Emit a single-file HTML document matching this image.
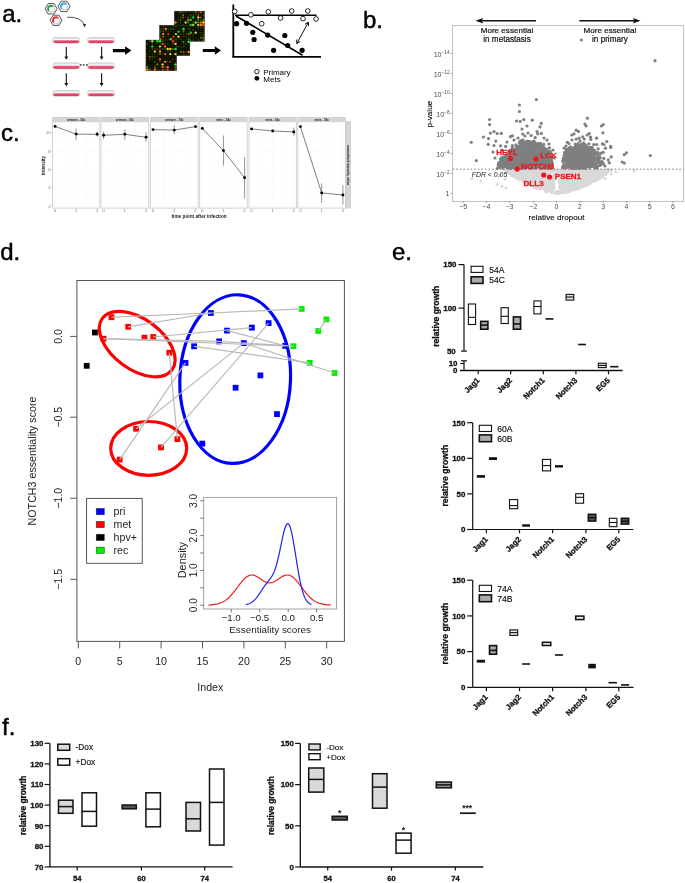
<!DOCTYPE html>
<html><head><meta charset="utf-8"><style>
html,body{margin:0;padding:0;background:#fff;}
body{width:685px;height:883px;overflow:hidden;}
svg{display:block;will-change:transform;font-family:"Liberation Sans", sans-serif;}
</style></head><body>
<svg width="685" height="883" viewBox="0 0 685 883">
<rect width="685" height="883" fill="#fff"/>
<text x="2.2" y="22" font-size="24" text-anchor="start" fill="#000" stroke="#000" stroke-width="0.45">a.</text>
<polygon points="57.10,8.80 54.10,14.00 48.10,14.00 45.10,8.80 48.10,3.60 54.10,3.60" fill="#fff" stroke="#2a2a2a" stroke-width="0.8"/>
<polygon points="56.00,8.80 53.55,13.04 48.65,13.04 46.20,8.80 48.65,4.56 53.55,4.56" fill="none" stroke="#c4c4c4" stroke-width="0.5"/>
<circle cx="51.1" cy="8.8" r="3.30" fill="none" stroke="#a0a0a0" stroke-width="0.6"/>
<polyline points="53.03,6.50 52.82,6.34 52.60,6.20 52.37,6.08 52.13,5.98 51.88,5.90 51.62,5.85 51.36,5.81 51.10,5.80 50.84,5.81 50.58,5.85 50.32,5.90 50.07,5.98 49.83,6.08 49.60,6.20 49.38,6.34 49.17,6.50 48.98,6.68 48.80,6.87 48.64,7.08 48.50,7.30 48.38,7.53 48.28,7.77 48.20,8.02 48.15,8.28 48.11,8.54 48.10,8.80 48.11,9.06 48.15,9.32 48.20,9.58 48.28,9.83 48.38,10.07 48.50,10.30 48.64,10.52 48.80,10.73 48.98,10.92" fill="none" stroke="#12a84a" stroke-width="1.8"/>
<polygon points="70.00,6.45 67.00,11.65 61.00,11.65 58.00,6.45 61.00,1.25 67.00,1.25" fill="#fff" stroke="#2a2a2a" stroke-width="0.8"/>
<polygon points="68.90,6.45 66.45,10.69 61.55,10.69 59.10,6.45 61.55,2.21 66.45,2.21" fill="none" stroke="#c4c4c4" stroke-width="0.5"/>
<circle cx="64.0" cy="6.45" r="3.30" fill="none" stroke="#a0a0a0" stroke-width="0.6"/>
<polyline points="65.93,4.15 65.72,3.99 65.50,3.85 65.27,3.73 65.03,3.63 64.78,3.55 64.52,3.50 64.26,3.46 64.00,3.45 63.74,3.46 63.48,3.50 63.22,3.55 62.97,3.63 62.73,3.73 62.50,3.85 62.28,3.99 62.07,4.15 61.88,4.33 61.70,4.52 61.54,4.73 61.40,4.95 61.28,5.18 61.18,5.42 61.10,5.67 61.05,5.93 61.01,6.19 61.00,6.45 61.01,6.71 61.05,6.97 61.10,7.23 61.18,7.48 61.28,7.72 61.40,7.95 61.54,8.17 61.70,8.38 61.88,8.57" fill="none" stroke="#1ea5f0" stroke-width="1.8"/>
<polygon points="61.95,20.35 59.00,25.46 53.10,25.46 50.15,20.35 53.10,15.24 59.00,15.24" fill="#fff" stroke="#2a2a2a" stroke-width="0.8"/>
<polygon points="60.85,20.35 58.45,24.51 53.65,24.51 51.25,20.35 53.65,16.19 58.45,16.19" fill="none" stroke="#c4c4c4" stroke-width="0.5"/>
<circle cx="56.05" cy="20.35" r="3.30" fill="none" stroke="#a0a0a0" stroke-width="0.6"/>
<polyline points="57.98,18.05 57.77,17.89 57.55,17.75 57.32,17.63 57.08,17.53 56.83,17.45 56.57,17.40 56.31,17.36 56.05,17.35 55.79,17.36 55.53,17.40 55.27,17.45 55.02,17.53 54.78,17.63 54.55,17.75 54.33,17.89 54.12,18.05 53.93,18.23 53.75,18.42 53.59,18.63 53.45,18.85 53.33,19.08 53.23,19.32 53.15,19.57 53.10,19.83 53.06,20.09 53.05,20.35 53.06,20.61 53.10,20.87 53.15,21.13 53.23,21.38 53.33,21.62 53.45,21.85 53.59,22.07 53.75,22.28 53.93,22.47" fill="none" stroke="#ee1c24" stroke-width="1.8"/>
<path d="M67.1,17.2 Q80.5,16.6 84.4,24.6" fill="none" stroke="#222" stroke-width="0.8"/>
<path d="M82.9,24.3 L84.6,27.6 L86.0,24.0 Z" fill="#222"/>
<defs><linearGradient id="pk" x1="0" y1="0" x2="0" y2="1"><stop offset="0" stop-color="#f4a4b6"/><stop offset="0.4" stop-color="#ec4c72"/><stop offset="1" stop-color="#e0305c"/></linearGradient><filter id="bl" x="-5%" y="-5%" width="110%" height="110%"><feGaussianBlur stdDeviation="0.45"/></filter></defs>
<rect x="52.90" y="37.50" width="26.70" height="5.70" rx="2.6" ry="1.8" fill="#fafafa" stroke="#a8a8a8" stroke-width="0.55"/>
<line x1="53.90" y1="38.40" x2="78.60" y2="38.40" stroke="#cfcfcf" stroke-width="0.7"/>
<rect x="53.30" y="39.95" width="25.90" height="3.02" rx="2.4" ry="1.4" fill="url(#pk)"/>
<rect x="87.80" y="37.50" width="26.50" height="5.70" rx="2.6" ry="1.8" fill="#fafafa" stroke="#a8a8a8" stroke-width="0.55"/>
<line x1="88.80" y1="38.40" x2="113.30" y2="38.40" stroke="#cfcfcf" stroke-width="0.7"/>
<rect x="88.20" y="39.95" width="25.70" height="3.02" rx="2.4" ry="1.4" fill="url(#pk)"/>
<rect x="52.90" y="62.90" width="26.70" height="6.00" rx="2.6" ry="1.8" fill="#fafafa" stroke="#a8a8a8" stroke-width="0.55"/>
<line x1="53.90" y1="63.80" x2="78.60" y2="63.80" stroke="#cfcfcf" stroke-width="0.7"/>
<rect x="53.30" y="65.48" width="25.90" height="3.18" rx="2.4" ry="1.4" fill="url(#pk)"/>
<rect x="87.80" y="62.90" width="26.50" height="6.00" rx="2.6" ry="1.8" fill="#fafafa" stroke="#a8a8a8" stroke-width="0.55"/>
<line x1="88.80" y1="63.80" x2="113.30" y2="63.80" stroke="#cfcfcf" stroke-width="0.7"/>
<rect x="88.20" y="65.48" width="25.70" height="3.18" rx="2.4" ry="1.4" fill="url(#pk)"/>
<rect x="52.90" y="90.40" width="26.70" height="5.90" rx="2.6" ry="1.8" fill="#fafafa" stroke="#a8a8a8" stroke-width="0.55"/>
<line x1="53.90" y1="91.30" x2="78.60" y2="91.30" stroke="#cfcfcf" stroke-width="0.7"/>
<rect x="53.30" y="92.94" width="25.90" height="3.13" rx="2.4" ry="1.4" fill="url(#pk)"/>
<rect x="87.80" y="90.40" width="26.50" height="5.90" rx="2.6" ry="1.8" fill="#fafafa" stroke="#a8a8a8" stroke-width="0.55"/>
<line x1="88.80" y1="91.30" x2="113.30" y2="91.30" stroke="#cfcfcf" stroke-width="0.7"/>
<rect x="88.20" y="92.94" width="25.70" height="3.13" rx="2.4" ry="1.4" fill="url(#pk)"/>
<line x1="66.30" y1="47.00" x2="66.30" y2="57.30" stroke="#111" stroke-width="1.1"/>
<path d="M64.40,56.40 L66.30,59.80 L68.20,56.40 Z" fill="#111"/>
<line x1="66.30" y1="73.20" x2="66.30" y2="83.90" stroke="#111" stroke-width="1.1"/>
<path d="M64.40,83.00 L66.30,86.40 L68.20,83.00 Z" fill="#111"/>
<line x1="101.60" y1="47.00" x2="101.60" y2="57.30" stroke="#111" stroke-width="1.1"/>
<path d="M99.70,56.40 L101.60,59.80 L103.50,56.40 Z" fill="#111"/>
<line x1="101.60" y1="73.20" x2="101.60" y2="83.90" stroke="#111" stroke-width="1.1"/>
<path d="M99.70,83.00 L101.60,86.40 L103.50,83.00 Z" fill="#111"/>
<rect x="79.90" y="64.10" width="1.60" height="1.60" fill="#3a3a3a" stroke="none" stroke-width="1"/>
<rect x="82.90" y="64.10" width="1.60" height="1.60" fill="#3a3a3a" stroke="none" stroke-width="1"/>
<rect x="86.00" y="64.10" width="1.60" height="1.60" fill="#3a3a3a" stroke="none" stroke-width="1"/>
<path d="M112.9,49.0 L125.10000000000001,49.0 L125.10000000000001,46.300000000000004 L131.3,50.6 L125.10000000000001,54.9 L125.10000000000001,52.2 L112.9,52.2 Z" fill="#000"/>
<path d="M202.8,48.9 L214.8,48.9 L214.8,46.2 L221.0,50.5 L214.8,54.8 L214.8,52.1 L202.8,52.1 Z" fill="#000"/>
<rect x="174.2" y="11.1" width="30.4" height="30.4" fill="#060c02" stroke="#555" stroke-width="0.4"/>
<g filter="url(#bl)"><circle cx="175.47" cy="12.37" r="0.91" fill="#1c2a06"/><circle cx="175.47" cy="14.90" r="0.91" fill="#0e2406"/><circle cx="175.47" cy="17.43" r="0.91" fill="#0e2406"/><circle cx="175.47" cy="19.97" r="0.91" fill="#0e2406"/><circle cx="175.47" cy="22.50" r="1.17" fill="#ff8020"/><circle cx="175.47" cy="25.03" r="0.91" fill="#221a04"/><circle cx="175.47" cy="27.57" r="0.91" fill="#1c2a06"/><circle cx="175.47" cy="30.10" r="0.91" fill="#221a04"/><circle cx="175.47" cy="32.63" r="0.91" fill="#0e2406"/><circle cx="175.47" cy="35.17" r="1.17" fill="#ff5a10"/><circle cx="175.47" cy="37.70" r="0.96" fill="#2c4a0a"/><circle cx="175.47" cy="40.23" r="0.96" fill="#5a3008"/><circle cx="178.00" cy="12.37" r="0.91" fill="#1c2a06"/><circle cx="178.00" cy="14.90" r="0.91" fill="#1c2a06"/><circle cx="178.00" cy="17.43" r="0.91" fill="#1c2a06"/><circle cx="178.00" cy="19.97" r="0.96" fill="#284008"/><circle cx="178.00" cy="22.50" r="0.91" fill="#1c2a06"/><circle cx="178.00" cy="25.03" r="0.91" fill="#1c2a06"/><circle cx="178.00" cy="27.57" r="0.91" fill="#0e2406"/><circle cx="178.00" cy="30.10" r="0.96" fill="#284008"/><circle cx="178.00" cy="32.63" r="0.91" fill="#221a04"/><circle cx="178.00" cy="35.17" r="1.01" fill="#607010"/><circle cx="178.00" cy="37.70" r="0.96" fill="#5a3008"/><circle cx="178.00" cy="40.23" r="0.91" fill="#1c2a06"/><circle cx="180.53" cy="12.37" r="1.01" fill="#8a6010"/><circle cx="180.53" cy="14.90" r="0.91" fill="#142004"/><circle cx="180.53" cy="17.43" r="0.96" fill="#3c5a0c"/><circle cx="180.53" cy="19.97" r="0.96" fill="#3c5a0c"/><circle cx="180.53" cy="22.50" r="0.96" fill="#2c4a0a"/><circle cx="180.53" cy="25.03" r="0.91" fill="#221a04"/><circle cx="180.53" cy="27.57" r="0.91" fill="#142004"/><circle cx="180.53" cy="30.10" r="0.91" fill="#221a04"/><circle cx="180.53" cy="32.63" r="0.91" fill="#0e2406"/><circle cx="180.53" cy="35.17" r="0.96" fill="#284008"/><circle cx="180.53" cy="37.70" r="1.01" fill="#a05010"/><circle cx="180.53" cy="40.23" r="0.91" fill="#142004"/><circle cx="183.07" cy="12.37" r="0.96" fill="#284008"/><circle cx="183.07" cy="14.90" r="1.01" fill="#6a8a10"/><circle cx="183.07" cy="17.43" r="1.01" fill="#a05010"/><circle cx="183.07" cy="19.97" r="0.91" fill="#0e2406"/><circle cx="183.07" cy="22.50" r="0.91" fill="#142004"/><circle cx="183.07" cy="25.03" r="0.96" fill="#5a3008"/><circle cx="183.07" cy="27.57" r="0.91" fill="#221a04"/><circle cx="183.07" cy="30.10" r="1.17" fill="#f0e020"/><circle cx="183.07" cy="32.63" r="0.91" fill="#221a04"/><circle cx="183.07" cy="35.17" r="0.91" fill="#0e2406"/><circle cx="183.07" cy="37.70" r="0.91" fill="#1c2a06"/><circle cx="183.07" cy="40.23" r="0.96" fill="#4a3a0a"/><circle cx="185.60" cy="12.37" r="0.96" fill="#5a3008"/><circle cx="185.60" cy="14.90" r="0.91" fill="#221a04"/><circle cx="185.60" cy="17.43" r="0.91" fill="#221a04"/><circle cx="185.60" cy="19.97" r="0.91" fill="#142004"/><circle cx="185.60" cy="22.50" r="1.17" fill="#a8e020"/><circle cx="185.60" cy="25.03" r="0.91" fill="#142004"/><circle cx="185.60" cy="27.57" r="0.96" fill="#3c5a0c"/><circle cx="185.60" cy="30.10" r="0.96" fill="#5a3008"/><circle cx="185.60" cy="32.63" r="1.17" fill="#ff8020"/><circle cx="185.60" cy="35.17" r="0.91" fill="#1c2a06"/><circle cx="185.60" cy="37.70" r="0.91" fill="#1c2a06"/><circle cx="185.60" cy="40.23" r="0.91" fill="#1c2a06"/><circle cx="188.13" cy="12.37" r="0.91" fill="#0e2406"/><circle cx="188.13" cy="14.90" r="0.91" fill="#142004"/><circle cx="188.13" cy="17.43" r="0.96" fill="#3c5a0c"/><circle cx="188.13" cy="19.97" r="1.17" fill="#ff5a10"/><circle cx="188.13" cy="22.50" r="1.01" fill="#6a8a10"/><circle cx="188.13" cy="25.03" r="0.91" fill="#221a04"/><circle cx="188.13" cy="27.57" r="0.91" fill="#221a04"/><circle cx="188.13" cy="30.10" r="0.91" fill="#221a04"/><circle cx="188.13" cy="32.63" r="0.91" fill="#0e2406"/><circle cx="188.13" cy="35.17" r="1.17" fill="#30f030"/><circle cx="188.13" cy="37.70" r="0.91" fill="#142004"/><circle cx="188.13" cy="40.23" r="0.96" fill="#2c4a0a"/><circle cx="190.67" cy="12.37" r="0.91" fill="#1c2a06"/><circle cx="190.67" cy="14.90" r="0.96" fill="#3c5a0c"/><circle cx="190.67" cy="17.43" r="0.96" fill="#2c4a0a"/><circle cx="190.67" cy="19.97" r="1.17" fill="#20d040"/><circle cx="190.67" cy="22.50" r="0.91" fill="#142004"/><circle cx="190.67" cy="25.03" r="1.17" fill="#20d040"/><circle cx="190.67" cy="27.57" r="0.91" fill="#0e2406"/><circle cx="190.67" cy="30.10" r="0.91" fill="#221a04"/><circle cx="190.67" cy="32.63" r="1.17" fill="#30f030"/><circle cx="190.67" cy="35.17" r="0.91" fill="#142004"/><circle cx="190.67" cy="37.70" r="0.91" fill="#0e2406"/><circle cx="190.67" cy="40.23" r="0.96" fill="#3c5a0c"/><circle cx="193.20" cy="12.37" r="0.91" fill="#1c2a06"/><circle cx="193.20" cy="14.90" r="0.96" fill="#4a3a0a"/><circle cx="193.20" cy="17.43" r="1.17" fill="#20d040"/><circle cx="193.20" cy="19.97" r="0.91" fill="#0e2406"/><circle cx="193.20" cy="22.50" r="0.96" fill="#3c5a0c"/><circle cx="193.20" cy="25.03" r="1.17" fill="#a8e020"/><circle cx="193.20" cy="27.57" r="0.91" fill="#142004"/><circle cx="193.20" cy="30.10" r="0.96" fill="#4a3a0a"/><circle cx="193.20" cy="32.63" r="0.91" fill="#1c2a06"/><circle cx="193.20" cy="35.17" r="0.96" fill="#284008"/><circle cx="193.20" cy="37.70" r="0.91" fill="#1c2a06"/><circle cx="193.20" cy="40.23" r="0.96" fill="#4a3a0a"/><circle cx="195.73" cy="12.37" r="1.01" fill="#607010"/><circle cx="195.73" cy="14.90" r="0.96" fill="#4a3a0a"/><circle cx="195.73" cy="17.43" r="0.91" fill="#221a04"/><circle cx="195.73" cy="19.97" r="0.91" fill="#0e2406"/><circle cx="195.73" cy="22.50" r="1.17" fill="#a8e020"/><circle cx="195.73" cy="25.03" r="0.91" fill="#142004"/><circle cx="195.73" cy="27.57" r="0.91" fill="#142004"/><circle cx="195.73" cy="30.10" r="0.91" fill="#142004"/><circle cx="195.73" cy="32.63" r="1.17" fill="#f0e020"/><circle cx="195.73" cy="35.17" r="0.91" fill="#0e2406"/><circle cx="195.73" cy="37.70" r="0.91" fill="#1c2a06"/><circle cx="195.73" cy="40.23" r="0.91" fill="#221a04"/><circle cx="198.27" cy="12.37" r="0.96" fill="#284008"/><circle cx="198.27" cy="14.90" r="1.01" fill="#607010"/><circle cx="198.27" cy="17.43" r="1.17" fill="#f0e020"/><circle cx="198.27" cy="19.97" r="1.01" fill="#6a8a10"/><circle cx="198.27" cy="22.50" r="1.01" fill="#6a8a10"/><circle cx="198.27" cy="25.03" r="1.17" fill="#a8e020"/><circle cx="198.27" cy="27.57" r="0.96" fill="#4a3a0a"/><circle cx="198.27" cy="30.10" r="0.91" fill="#1c2a06"/><circle cx="198.27" cy="32.63" r="0.91" fill="#142004"/><circle cx="198.27" cy="35.17" r="0.91" fill="#221a04"/><circle cx="198.27" cy="37.70" r="0.91" fill="#0e2406"/><circle cx="198.27" cy="40.23" r="0.96" fill="#4a3a0a"/><circle cx="200.80" cy="12.37" r="1.17" fill="#ff3010"/><circle cx="200.80" cy="14.90" r="0.91" fill="#221a04"/><circle cx="200.80" cy="17.43" r="1.01" fill="#8a6010"/><circle cx="200.80" cy="19.97" r="0.96" fill="#284008"/><circle cx="200.80" cy="22.50" r="1.17" fill="#ff5a10"/><circle cx="200.80" cy="25.03" r="1.17" fill="#ff8020"/><circle cx="200.80" cy="27.57" r="0.96" fill="#4a3a0a"/><circle cx="200.80" cy="30.10" r="0.91" fill="#0e2406"/><circle cx="200.80" cy="32.63" r="0.96" fill="#4a3a0a"/><circle cx="200.80" cy="35.17" r="0.91" fill="#1c2a06"/><circle cx="200.80" cy="37.70" r="1.01" fill="#8a6010"/><circle cx="200.80" cy="40.23" r="0.91" fill="#1c2a06"/><circle cx="203.33" cy="12.37" r="0.91" fill="#1c2a06"/><circle cx="203.33" cy="14.90" r="0.96" fill="#3c5a0c"/><circle cx="203.33" cy="17.43" r="0.91" fill="#221a04"/><circle cx="203.33" cy="19.97" r="1.01" fill="#6a8a10"/><circle cx="203.33" cy="22.50" r="1.17" fill="#f0e020"/><circle cx="203.33" cy="25.03" r="1.17" fill="#ff5a10"/><circle cx="203.33" cy="27.57" r="0.96" fill="#284008"/><circle cx="203.33" cy="30.10" r="0.91" fill="#1c2a06"/><circle cx="203.33" cy="32.63" r="0.96" fill="#284008"/><circle cx="203.33" cy="35.17" r="0.96" fill="#5a3008"/><circle cx="203.33" cy="37.70" r="1.01" fill="#6a8a10"/><circle cx="203.33" cy="40.23" r="1.01" fill="#8a6010"/></g>
<rect x="159.4" y="25.2" width="30.5" height="30.5" fill="#060c02" stroke="#555" stroke-width="0.4"/>
<g filter="url(#bl)"><circle cx="160.67" cy="26.47" r="0.91" fill="#221a04"/><circle cx="160.67" cy="29.01" r="0.97" fill="#2c4a0a"/><circle cx="160.67" cy="31.55" r="0.97" fill="#3c5a0c"/><circle cx="160.67" cy="34.10" r="0.97" fill="#284008"/><circle cx="160.67" cy="36.64" r="0.97" fill="#2c4a0a"/><circle cx="160.67" cy="39.18" r="1.17" fill="#ff3010"/><circle cx="160.67" cy="41.72" r="0.91" fill="#142004"/><circle cx="160.67" cy="44.26" r="0.91" fill="#0e2406"/><circle cx="160.67" cy="46.80" r="0.97" fill="#284008"/><circle cx="160.67" cy="49.35" r="0.91" fill="#0e2406"/><circle cx="160.67" cy="51.89" r="0.91" fill="#1c2a06"/><circle cx="160.67" cy="54.43" r="0.97" fill="#5a3008"/><circle cx="163.21" cy="26.47" r="0.97" fill="#5a3008"/><circle cx="163.21" cy="29.01" r="0.97" fill="#4a3a0a"/><circle cx="163.21" cy="31.55" r="0.97" fill="#3c5a0c"/><circle cx="163.21" cy="34.10" r="1.17" fill="#ff8020"/><circle cx="163.21" cy="36.64" r="1.02" fill="#8a6010"/><circle cx="163.21" cy="39.18" r="0.91" fill="#221a04"/><circle cx="163.21" cy="41.72" r="0.91" fill="#0e2406"/><circle cx="163.21" cy="44.26" r="0.97" fill="#5a3008"/><circle cx="163.21" cy="46.80" r="0.91" fill="#142004"/><circle cx="163.21" cy="49.35" r="1.02" fill="#8a6010"/><circle cx="163.21" cy="51.89" r="1.17" fill="#ff5a10"/><circle cx="163.21" cy="54.43" r="0.97" fill="#4a3a0a"/><circle cx="165.75" cy="26.47" r="0.91" fill="#1c2a06"/><circle cx="165.75" cy="29.01" r="1.17" fill="#ff8020"/><circle cx="165.75" cy="31.55" r="0.97" fill="#2c4a0a"/><circle cx="165.75" cy="34.10" r="0.91" fill="#221a04"/><circle cx="165.75" cy="36.64" r="0.91" fill="#1c2a06"/><circle cx="165.75" cy="39.18" r="0.91" fill="#221a04"/><circle cx="165.75" cy="41.72" r="1.17" fill="#30f030"/><circle cx="165.75" cy="44.26" r="0.91" fill="#1c2a06"/><circle cx="165.75" cy="46.80" r="0.91" fill="#0e2406"/><circle cx="165.75" cy="49.35" r="0.97" fill="#2c4a0a"/><circle cx="165.75" cy="51.89" r="0.91" fill="#221a04"/><circle cx="165.75" cy="54.43" r="0.91" fill="#0e2406"/><circle cx="168.30" cy="26.47" r="0.91" fill="#142004"/><circle cx="168.30" cy="29.01" r="0.97" fill="#2c4a0a"/><circle cx="168.30" cy="31.55" r="0.91" fill="#1c2a06"/><circle cx="168.30" cy="34.10" r="1.17" fill="#ff3010"/><circle cx="168.30" cy="36.64" r="0.91" fill="#142004"/><circle cx="168.30" cy="39.18" r="0.91" fill="#1c2a06"/><circle cx="168.30" cy="41.72" r="0.91" fill="#1c2a06"/><circle cx="168.30" cy="44.26" r="1.02" fill="#a05010"/><circle cx="168.30" cy="46.80" r="0.91" fill="#221a04"/><circle cx="168.30" cy="49.35" r="0.97" fill="#2c4a0a"/><circle cx="168.30" cy="51.89" r="0.91" fill="#1c2a06"/><circle cx="168.30" cy="54.43" r="0.91" fill="#0e2406"/><circle cx="170.84" cy="26.47" r="0.91" fill="#0e2406"/><circle cx="170.84" cy="29.01" r="0.97" fill="#3c5a0c"/><circle cx="170.84" cy="31.55" r="0.91" fill="#1c2a06"/><circle cx="170.84" cy="34.10" r="0.91" fill="#0e2406"/><circle cx="170.84" cy="36.64" r="0.91" fill="#142004"/><circle cx="170.84" cy="39.18" r="1.17" fill="#30f030"/><circle cx="170.84" cy="41.72" r="1.17" fill="#f0e020"/><circle cx="170.84" cy="44.26" r="0.97" fill="#2c4a0a"/><circle cx="170.84" cy="46.80" r="0.97" fill="#4a3a0a"/><circle cx="170.84" cy="49.35" r="1.17" fill="#ff8020"/><circle cx="170.84" cy="51.89" r="0.91" fill="#1c2a06"/><circle cx="170.84" cy="54.43" r="0.91" fill="#142004"/><circle cx="173.38" cy="26.47" r="0.97" fill="#284008"/><circle cx="173.38" cy="29.01" r="0.97" fill="#3c5a0c"/><circle cx="173.38" cy="31.55" r="0.91" fill="#1c2a06"/><circle cx="173.38" cy="34.10" r="0.91" fill="#0e2406"/><circle cx="173.38" cy="36.64" r="1.17" fill="#ff3010"/><circle cx="173.38" cy="39.18" r="0.91" fill="#1c2a06"/><circle cx="173.38" cy="41.72" r="0.97" fill="#4a3a0a"/><circle cx="173.38" cy="44.26" r="1.17" fill="#ff3010"/><circle cx="173.38" cy="46.80" r="0.97" fill="#5a3008"/><circle cx="173.38" cy="49.35" r="0.97" fill="#284008"/><circle cx="173.38" cy="51.89" r="1.02" fill="#607010"/><circle cx="173.38" cy="54.43" r="1.17" fill="#f0e020"/><circle cx="175.92" cy="26.47" r="0.97" fill="#4a3a0a"/><circle cx="175.92" cy="29.01" r="0.91" fill="#1c2a06"/><circle cx="175.92" cy="31.55" r="0.91" fill="#142004"/><circle cx="175.92" cy="34.10" r="1.17" fill="#a8e020"/><circle cx="175.92" cy="36.64" r="0.91" fill="#0e2406"/><circle cx="175.92" cy="39.18" r="0.97" fill="#3c5a0c"/><circle cx="175.92" cy="41.72" r="0.91" fill="#0e2406"/><circle cx="175.92" cy="44.26" r="0.91" fill="#221a04"/><circle cx="175.92" cy="46.80" r="1.17" fill="#ff5a10"/><circle cx="175.92" cy="49.35" r="1.17" fill="#20d040"/><circle cx="175.92" cy="51.89" r="0.91" fill="#142004"/><circle cx="175.92" cy="54.43" r="0.91" fill="#1c2a06"/><circle cx="178.46" cy="26.47" r="0.91" fill="#221a04"/><circle cx="178.46" cy="29.01" r="0.91" fill="#142004"/><circle cx="178.46" cy="31.55" r="1.17" fill="#20d040"/><circle cx="178.46" cy="34.10" r="0.91" fill="#0e2406"/><circle cx="178.46" cy="36.64" r="1.17" fill="#f0e020"/><circle cx="178.46" cy="39.18" r="0.91" fill="#1c2a06"/><circle cx="178.46" cy="41.72" r="0.91" fill="#221a04"/><circle cx="178.46" cy="44.26" r="0.91" fill="#142004"/><circle cx="178.46" cy="46.80" r="0.97" fill="#4a3a0a"/><circle cx="178.46" cy="49.35" r="0.91" fill="#0e2406"/><circle cx="178.46" cy="51.89" r="0.91" fill="#0e2406"/><circle cx="178.46" cy="54.43" r="0.91" fill="#0e2406"/><circle cx="181.00" cy="26.47" r="0.91" fill="#142004"/><circle cx="181.00" cy="29.01" r="0.91" fill="#1c2a06"/><circle cx="181.00" cy="31.55" r="0.91" fill="#1c2a06"/><circle cx="181.00" cy="34.10" r="0.97" fill="#284008"/><circle cx="181.00" cy="36.64" r="0.91" fill="#142004"/><circle cx="181.00" cy="39.18" r="0.97" fill="#5a3008"/><circle cx="181.00" cy="41.72" r="0.91" fill="#1c2a06"/><circle cx="181.00" cy="44.26" r="0.91" fill="#221a04"/><circle cx="181.00" cy="46.80" r="0.97" fill="#284008"/><circle cx="181.00" cy="49.35" r="0.91" fill="#0e2406"/><circle cx="181.00" cy="51.89" r="1.02" fill="#8a6010"/><circle cx="181.00" cy="54.43" r="0.91" fill="#0e2406"/><circle cx="183.55" cy="26.47" r="0.91" fill="#142004"/><circle cx="183.55" cy="29.01" r="1.17" fill="#30f030"/><circle cx="183.55" cy="31.55" r="1.02" fill="#6a8a10"/><circle cx="183.55" cy="34.10" r="0.97" fill="#284008"/><circle cx="183.55" cy="36.64" r="0.97" fill="#5a3008"/><circle cx="183.55" cy="39.18" r="0.91" fill="#221a04"/><circle cx="183.55" cy="41.72" r="1.02" fill="#6a8a10"/><circle cx="183.55" cy="44.26" r="0.97" fill="#2c4a0a"/><circle cx="183.55" cy="46.80" r="0.97" fill="#5a3008"/><circle cx="183.55" cy="49.35" r="0.91" fill="#0e2406"/><circle cx="183.55" cy="51.89" r="1.02" fill="#8a6010"/><circle cx="183.55" cy="54.43" r="0.97" fill="#4a3a0a"/><circle cx="186.09" cy="26.47" r="0.91" fill="#221a04"/><circle cx="186.09" cy="29.01" r="0.91" fill="#221a04"/><circle cx="186.09" cy="31.55" r="0.91" fill="#142004"/><circle cx="186.09" cy="34.10" r="0.97" fill="#284008"/><circle cx="186.09" cy="36.64" r="0.97" fill="#4a3a0a"/><circle cx="186.09" cy="39.18" r="0.91" fill="#1c2a06"/><circle cx="186.09" cy="41.72" r="0.91" fill="#142004"/><circle cx="186.09" cy="44.26" r="0.97" fill="#4a3a0a"/><circle cx="186.09" cy="46.80" r="0.91" fill="#0e2406"/><circle cx="186.09" cy="49.35" r="0.91" fill="#0e2406"/><circle cx="186.09" cy="51.89" r="0.97" fill="#5a3008"/><circle cx="186.09" cy="54.43" r="0.91" fill="#142004"/><circle cx="188.63" cy="26.47" r="0.91" fill="#221a04"/><circle cx="188.63" cy="29.01" r="0.97" fill="#284008"/><circle cx="188.63" cy="31.55" r="0.91" fill="#0e2406"/><circle cx="188.63" cy="34.10" r="1.17" fill="#ff3010"/><circle cx="188.63" cy="36.64" r="0.91" fill="#0e2406"/><circle cx="188.63" cy="39.18" r="1.02" fill="#607010"/><circle cx="188.63" cy="41.72" r="1.17" fill="#30f030"/><circle cx="188.63" cy="44.26" r="0.91" fill="#1c2a06"/><circle cx="188.63" cy="46.80" r="0.91" fill="#0e2406"/><circle cx="188.63" cy="49.35" r="0.91" fill="#142004"/><circle cx="188.63" cy="51.89" r="1.17" fill="#ff8020"/><circle cx="188.63" cy="54.43" r="0.97" fill="#284008"/></g>
<rect x="145.9" y="40.0" width="30.8" height="30.8" fill="#060c02" stroke="#555" stroke-width="0.4"/>
<g filter="url(#bl)"><circle cx="147.18" cy="41.28" r="0.92" fill="#0e2406"/><circle cx="147.18" cy="43.85" r="0.98" fill="#4a3a0a"/><circle cx="147.18" cy="46.42" r="0.92" fill="#221a04"/><circle cx="147.18" cy="48.98" r="0.92" fill="#1c2a06"/><circle cx="147.18" cy="51.55" r="0.92" fill="#221a04"/><circle cx="147.18" cy="54.12" r="0.98" fill="#5a3008"/><circle cx="147.18" cy="56.68" r="0.92" fill="#1c2a06"/><circle cx="147.18" cy="59.25" r="0.92" fill="#221a04"/><circle cx="147.18" cy="61.82" r="0.92" fill="#142004"/><circle cx="147.18" cy="64.38" r="0.92" fill="#142004"/><circle cx="147.18" cy="66.95" r="1.03" fill="#6a8a10"/><circle cx="147.18" cy="69.52" r="1.18" fill="#ff8020"/><circle cx="149.75" cy="41.28" r="0.98" fill="#3c5a0c"/><circle cx="149.75" cy="43.85" r="0.92" fill="#0e2406"/><circle cx="149.75" cy="46.42" r="0.92" fill="#0e2406"/><circle cx="149.75" cy="48.98" r="0.92" fill="#221a04"/><circle cx="149.75" cy="51.55" r="0.98" fill="#2c4a0a"/><circle cx="149.75" cy="54.12" r="0.92" fill="#0e2406"/><circle cx="149.75" cy="56.68" r="1.03" fill="#a05010"/><circle cx="149.75" cy="59.25" r="0.98" fill="#4a3a0a"/><circle cx="149.75" cy="61.82" r="0.92" fill="#142004"/><circle cx="149.75" cy="64.38" r="0.92" fill="#142004"/><circle cx="149.75" cy="66.95" r="0.92" fill="#142004"/><circle cx="149.75" cy="69.52" r="1.03" fill="#607010"/><circle cx="152.32" cy="41.28" r="1.18" fill="#a8e020"/><circle cx="152.32" cy="43.85" r="0.98" fill="#5a3008"/><circle cx="152.32" cy="46.42" r="1.18" fill="#20d040"/><circle cx="152.32" cy="48.98" r="0.98" fill="#2c4a0a"/><circle cx="152.32" cy="51.55" r="0.92" fill="#221a04"/><circle cx="152.32" cy="54.12" r="0.92" fill="#1c2a06"/><circle cx="152.32" cy="56.68" r="0.98" fill="#3c5a0c"/><circle cx="152.32" cy="59.25" r="0.92" fill="#1c2a06"/><circle cx="152.32" cy="61.82" r="0.92" fill="#221a04"/><circle cx="152.32" cy="64.38" r="0.92" fill="#142004"/><circle cx="152.32" cy="66.95" r="0.92" fill="#142004"/><circle cx="152.32" cy="69.52" r="0.92" fill="#1c2a06"/><circle cx="154.88" cy="41.28" r="0.92" fill="#221a04"/><circle cx="154.88" cy="43.85" r="0.92" fill="#1c2a06"/><circle cx="154.88" cy="46.42" r="0.92" fill="#221a04"/><circle cx="154.88" cy="48.98" r="0.98" fill="#5a3008"/><circle cx="154.88" cy="51.55" r="1.18" fill="#a8e020"/><circle cx="154.88" cy="54.12" r="0.92" fill="#1c2a06"/><circle cx="154.88" cy="56.68" r="0.98" fill="#4a3a0a"/><circle cx="154.88" cy="59.25" r="0.92" fill="#142004"/><circle cx="154.88" cy="61.82" r="0.98" fill="#3c5a0c"/><circle cx="154.88" cy="64.38" r="0.92" fill="#142004"/><circle cx="154.88" cy="66.95" r="1.03" fill="#8a6010"/><circle cx="154.88" cy="69.52" r="1.18" fill="#ff5a10"/><circle cx="157.45" cy="41.28" r="1.18" fill="#30f030"/><circle cx="157.45" cy="43.85" r="0.92" fill="#1c2a06"/><circle cx="157.45" cy="46.42" r="0.92" fill="#142004"/><circle cx="157.45" cy="48.98" r="0.98" fill="#5a3008"/><circle cx="157.45" cy="51.55" r="0.92" fill="#142004"/><circle cx="157.45" cy="54.12" r="0.92" fill="#1c2a06"/><circle cx="157.45" cy="56.68" r="0.92" fill="#1c2a06"/><circle cx="157.45" cy="59.25" r="0.92" fill="#221a04"/><circle cx="157.45" cy="61.82" r="0.92" fill="#142004"/><circle cx="157.45" cy="64.38" r="1.03" fill="#6a8a10"/><circle cx="157.45" cy="66.95" r="0.92" fill="#221a04"/><circle cx="157.45" cy="69.52" r="0.98" fill="#5a3008"/><circle cx="160.02" cy="41.28" r="1.18" fill="#30f030"/><circle cx="160.02" cy="43.85" r="0.92" fill="#221a04"/><circle cx="160.02" cy="46.42" r="1.18" fill="#a8e020"/><circle cx="160.02" cy="48.98" r="0.98" fill="#5a3008"/><circle cx="160.02" cy="51.55" r="1.18" fill="#ff8020"/><circle cx="160.02" cy="54.12" r="1.03" fill="#8a6010"/><circle cx="160.02" cy="56.68" r="0.92" fill="#0e2406"/><circle cx="160.02" cy="59.25" r="1.18" fill="#ff5a10"/><circle cx="160.02" cy="61.82" r="0.98" fill="#5a3008"/><circle cx="160.02" cy="64.38" r="0.92" fill="#0e2406"/><circle cx="160.02" cy="66.95" r="0.92" fill="#1c2a06"/><circle cx="160.02" cy="69.52" r="0.92" fill="#0e2406"/><circle cx="162.58" cy="41.28" r="0.98" fill="#3c5a0c"/><circle cx="162.58" cy="43.85" r="1.18" fill="#ff5a10"/><circle cx="162.58" cy="46.42" r="0.92" fill="#221a04"/><circle cx="162.58" cy="48.98" r="0.98" fill="#2c4a0a"/><circle cx="162.58" cy="51.55" r="0.92" fill="#142004"/><circle cx="162.58" cy="54.12" r="0.98" fill="#284008"/><circle cx="162.58" cy="56.68" r="0.92" fill="#142004"/><circle cx="162.58" cy="59.25" r="0.92" fill="#0e2406"/><circle cx="162.58" cy="61.82" r="0.92" fill="#142004"/><circle cx="162.58" cy="64.38" r="1.18" fill="#f0e020"/><circle cx="162.58" cy="66.95" r="1.18" fill="#ff5a10"/><circle cx="162.58" cy="69.52" r="1.03" fill="#8a6010"/><circle cx="165.15" cy="41.28" r="0.92" fill="#1c2a06"/><circle cx="165.15" cy="43.85" r="0.98" fill="#2c4a0a"/><circle cx="165.15" cy="46.42" r="1.18" fill="#ff5a10"/><circle cx="165.15" cy="48.98" r="0.98" fill="#2c4a0a"/><circle cx="165.15" cy="51.55" r="0.92" fill="#221a04"/><circle cx="165.15" cy="54.12" r="1.18" fill="#ff5a10"/><circle cx="165.15" cy="56.68" r="0.92" fill="#142004"/><circle cx="165.15" cy="59.25" r="0.92" fill="#221a04"/><circle cx="165.15" cy="61.82" r="1.18" fill="#ff8020"/><circle cx="165.15" cy="64.38" r="0.92" fill="#142004"/><circle cx="165.15" cy="66.95" r="0.98" fill="#3c5a0c"/><circle cx="165.15" cy="69.52" r="0.98" fill="#4a3a0a"/><circle cx="167.72" cy="41.28" r="0.92" fill="#142004"/><circle cx="167.72" cy="43.85" r="0.98" fill="#284008"/><circle cx="167.72" cy="46.42" r="0.92" fill="#221a04"/><circle cx="167.72" cy="48.98" r="1.18" fill="#f0e020"/><circle cx="167.72" cy="51.55" r="0.98" fill="#4a3a0a"/><circle cx="167.72" cy="54.12" r="0.92" fill="#1c2a06"/><circle cx="167.72" cy="56.68" r="0.92" fill="#142004"/><circle cx="167.72" cy="59.25" r="0.92" fill="#221a04"/><circle cx="167.72" cy="61.82" r="0.98" fill="#4a3a0a"/><circle cx="167.72" cy="64.38" r="0.92" fill="#0e2406"/><circle cx="167.72" cy="66.95" r="1.18" fill="#ff8020"/><circle cx="167.72" cy="69.52" r="1.18" fill="#ff3010"/><circle cx="170.28" cy="41.28" r="0.92" fill="#1c2a06"/><circle cx="170.28" cy="43.85" r="0.92" fill="#0e2406"/><circle cx="170.28" cy="46.42" r="0.92" fill="#221a04"/><circle cx="170.28" cy="48.98" r="1.18" fill="#f0e020"/><circle cx="170.28" cy="51.55" r="0.98" fill="#2c4a0a"/><circle cx="170.28" cy="54.12" r="1.18" fill="#f0e020"/><circle cx="170.28" cy="56.68" r="0.92" fill="#221a04"/><circle cx="170.28" cy="59.25" r="0.92" fill="#221a04"/><circle cx="170.28" cy="61.82" r="1.03" fill="#a05010"/><circle cx="170.28" cy="64.38" r="0.92" fill="#0e2406"/><circle cx="170.28" cy="66.95" r="0.92" fill="#142004"/><circle cx="170.28" cy="69.52" r="0.92" fill="#221a04"/><circle cx="172.85" cy="41.28" r="1.18" fill="#ff3010"/><circle cx="172.85" cy="43.85" r="0.98" fill="#4a3a0a"/><circle cx="172.85" cy="46.42" r="0.92" fill="#142004"/><circle cx="172.85" cy="48.98" r="1.03" fill="#607010"/><circle cx="172.85" cy="51.55" r="0.92" fill="#221a04"/><circle cx="172.85" cy="54.12" r="0.92" fill="#221a04"/><circle cx="172.85" cy="56.68" r="0.92" fill="#142004"/><circle cx="172.85" cy="59.25" r="0.98" fill="#5a3008"/><circle cx="172.85" cy="61.82" r="0.92" fill="#221a04"/><circle cx="172.85" cy="64.38" r="0.92" fill="#221a04"/><circle cx="172.85" cy="66.95" r="0.92" fill="#0e2406"/><circle cx="172.85" cy="69.52" r="0.92" fill="#0e2406"/><circle cx="175.42" cy="41.28" r="0.92" fill="#0e2406"/><circle cx="175.42" cy="43.85" r="1.18" fill="#f0e020"/><circle cx="175.42" cy="46.42" r="0.92" fill="#142004"/><circle cx="175.42" cy="48.98" r="1.18" fill="#20d040"/><circle cx="175.42" cy="51.55" r="0.92" fill="#142004"/><circle cx="175.42" cy="54.12" r="1.18" fill="#f0e020"/><circle cx="175.42" cy="56.68" r="0.92" fill="#0e2406"/><circle cx="175.42" cy="59.25" r="0.92" fill="#1c2a06"/><circle cx="175.42" cy="61.82" r="0.92" fill="#221a04"/><circle cx="175.42" cy="64.38" r="1.18" fill="#30f030"/><circle cx="175.42" cy="66.95" r="1.03" fill="#607010"/><circle cx="175.42" cy="69.52" r="1.03" fill="#8a6010"/></g>
<line x1="233.30" y1="4.50" x2="233.30" y2="57.00" stroke="#000" stroke-width="1.8"/>
<line x1="232.40" y1="56.90" x2="321.00" y2="56.90" stroke="#000" stroke-width="1.8"/>
<line x1="235.00" y1="15.30" x2="316.50" y2="15.30" stroke="#000" stroke-width="1.6"/>
<line x1="236.00" y1="16.00" x2="302.60" y2="55.20" stroke="#000" stroke-width="1.6"/>
<circle cx="234.70" cy="11.40" r="2.35" fill="#fff" stroke="#000" stroke-width="0.85"/>
<circle cx="250.90" cy="14.80" r="2.35" fill="#fff" stroke="#000" stroke-width="0.85"/>
<circle cx="268.30" cy="11.80" r="2.35" fill="#fff" stroke="#000" stroke-width="0.85"/>
<circle cx="261.70" cy="23.70" r="2.35" fill="#fff" stroke="#000" stroke-width="0.85"/>
<circle cx="280.60" cy="18.00" r="2.35" fill="#fff" stroke="#000" stroke-width="0.85"/>
<circle cx="291.70" cy="11.00" r="2.35" fill="#fff" stroke="#000" stroke-width="0.85"/>
<circle cx="307.80" cy="11.00" r="2.35" fill="#fff" stroke="#000" stroke-width="0.85"/>
<circle cx="303.00" cy="18.60" r="2.35" fill="#fff" stroke="#000" stroke-width="0.85"/>
<circle cx="316.10" cy="19.00" r="2.35" fill="#fff" stroke="#000" stroke-width="0.85"/>
<circle cx="236.60" cy="23.70" r="2.6" fill="#000" stroke="none" stroke-width="1"/>
<circle cx="246.50" cy="23.30" r="2.6" fill="#000" stroke="none" stroke-width="1"/>
<circle cx="252.80" cy="32.30" r="2.6" fill="#000" stroke="none" stroke-width="1"/>
<circle cx="254.10" cy="39.50" r="2.6" fill="#000" stroke="none" stroke-width="1"/>
<circle cx="267.70" cy="35.10" r="2.6" fill="#000" stroke="none" stroke-width="1"/>
<circle cx="284.80" cy="35.50" r="2.6" fill="#000" stroke="none" stroke-width="1"/>
<circle cx="273.60" cy="50.30" r="2.6" fill="#000" stroke="none" stroke-width="1"/>
<circle cx="287.70" cy="45.50" r="2.6" fill="#000" stroke="none" stroke-width="1"/>
<circle cx="302.10" cy="50.30" r="2.6" fill="#000" stroke="none" stroke-width="1"/>
<line x1="308.40" y1="22.20" x2="296.80" y2="43.50" stroke="#000" stroke-width="0.95"/>
<path d="M308.53,26.14 L308.40,22.20 L305.02,24.23" fill="none" stroke="#000" stroke-width="0.95"/>
<path d="M296.67,39.56 L296.80,43.50 L300.18,41.47" fill="none" stroke="#000" stroke-width="0.95"/>
<circle cx="256.90" cy="71.70" r="2.25" fill="#fff" stroke="#000" stroke-width="0.85"/>
<circle cx="256.90" cy="78.30" r="2.4" fill="#000" stroke="none" stroke-width="1"/>
<text x="263.3" y="74.6" font-size="8.0" text-anchor="start" fill="#000" textLength="27.2">Primary</text>
<text x="263.3" y="82.0" font-size="8.0" text-anchor="start" fill="#000">Mets</text>
<text x="363.0" y="28.3" font-size="24" text-anchor="start" fill="#000" stroke="#000" stroke-width="0.45">b.</text>
<rect x="452.60" y="25.60" width="231.00" height="175.80" fill="none" stroke="#b8b8b8" stroke-width="0.9"/>
<line x1="536.00" y1="20.70" x2="479.50" y2="20.70" stroke="#111" stroke-width="1.5"/>
<path d="M475.4,20.7 L483.2,17.9 L481.6,20.7 L483.2,23.5 Z" fill="#111"/>
<line x1="579.40" y1="20.70" x2="636.50" y2="20.70" stroke="#111" stroke-width="1.5"/>
<path d="M640.6,20.7 L632.8,17.9 L634.4,20.7 L632.8,23.5 Z" fill="#111"/>
<text x="507.0" y="32.8" font-size="8.1" text-anchor="middle" fill="#111" stroke="#111" stroke-width="0.2">More essential</text>
<text x="507.0" y="42.3" font-size="8.15" text-anchor="middle" fill="#111" stroke="#111" stroke-width="0.2">in metastasis</text>
<text x="609.9" y="32.8" font-size="8.1" text-anchor="middle" fill="#111" stroke="#111" stroke-width="0.2">More essential</text>
<text x="609.9" y="42.3" font-size="8.15" text-anchor="middle" fill="#111" stroke="#111" stroke-width="0.2">in primary</text>
<line x1="450.40" y1="53.50" x2="452.60" y2="53.50" stroke="#777" stroke-width="0.6"/>
<text x="449.6" y="56.9" font-size="7" text-anchor="end" fill="#4d4d4d">10<tspan font-size="4.8" dy="-3">−14</tspan></text>
<line x1="450.40" y1="73.40" x2="452.60" y2="73.40" stroke="#777" stroke-width="0.6"/>
<text x="449.6" y="76.8" font-size="7" text-anchor="end" fill="#4d4d4d">10<tspan font-size="4.8" dy="-3">−12</tspan></text>
<line x1="450.40" y1="93.40" x2="452.60" y2="93.40" stroke="#777" stroke-width="0.6"/>
<text x="449.6" y="96.8" font-size="7" text-anchor="end" fill="#4d4d4d">10<tspan font-size="4.8" dy="-3">−10</tspan></text>
<line x1="450.40" y1="113.40" x2="452.60" y2="113.40" stroke="#777" stroke-width="0.6"/>
<text x="449.6" y="116.8" font-size="7" text-anchor="end" fill="#4d4d4d">10<tspan font-size="4.8" dy="-3">−8</tspan></text>
<line x1="450.40" y1="133.40" x2="452.60" y2="133.40" stroke="#777" stroke-width="0.6"/>
<text x="449.6" y="136.8" font-size="7" text-anchor="end" fill="#4d4d4d">10<tspan font-size="4.8" dy="-3">−6</tspan></text>
<line x1="450.40" y1="153.40" x2="452.60" y2="153.40" stroke="#777" stroke-width="0.6"/>
<text x="449.6" y="156.8" font-size="7" text-anchor="end" fill="#4d4d4d">10<tspan font-size="4.8" dy="-3">−4</tspan></text>
<line x1="450.40" y1="173.35" x2="452.60" y2="173.35" stroke="#777" stroke-width="0.6"/>
<text x="449.6" y="176.8" font-size="7" text-anchor="end" fill="#4d4d4d">10<tspan font-size="4.8" dy="-3">−2</tspan></text>
<line x1="450.40" y1="193.30" x2="452.60" y2="193.30" stroke="#777" stroke-width="0.6"/>
<text x="449.4" y="195.8" font-size="7" text-anchor="end" fill="#4d4d4d">1</text>
<text x="431.6" y="114.1" font-size="8.1" text-anchor="middle" fill="#111" transform="rotate(-90 431.6 114.1)" stroke="#111" stroke-width="0.15">p-value</text>
<line x1="463.20" y1="201.00" x2="463.20" y2="203.20" stroke="#777" stroke-width="0.6"/>
<text x="463.2" y="209.2" font-size="7" text-anchor="middle" fill="#4d4d4d">−5</text>
<line x1="486.30" y1="201.00" x2="486.30" y2="203.20" stroke="#777" stroke-width="0.6"/>
<text x="486.3" y="209.2" font-size="7" text-anchor="middle" fill="#4d4d4d">−4</text>
<line x1="509.50" y1="201.00" x2="509.50" y2="203.20" stroke="#777" stroke-width="0.6"/>
<text x="509.5" y="209.2" font-size="7" text-anchor="middle" fill="#4d4d4d">−3</text>
<line x1="533.30" y1="201.00" x2="533.30" y2="203.20" stroke="#777" stroke-width="0.6"/>
<text x="533.3" y="209.2" font-size="7" text-anchor="middle" fill="#4d4d4d">−2</text>
<line x1="556.50" y1="201.00" x2="556.50" y2="203.20" stroke="#777" stroke-width="0.6"/>
<text x="556.5" y="209.2" font-size="7" text-anchor="middle" fill="#4d4d4d">0</text>
<line x1="579.80" y1="201.00" x2="579.80" y2="203.20" stroke="#777" stroke-width="0.6"/>
<text x="579.8" y="209.2" font-size="7" text-anchor="middle" fill="#4d4d4d">2</text>
<line x1="603.10" y1="201.00" x2="603.10" y2="203.20" stroke="#777" stroke-width="0.6"/>
<text x="603.1" y="209.2" font-size="7" text-anchor="middle" fill="#4d4d4d">3</text>
<line x1="626.40" y1="201.00" x2="626.40" y2="203.20" stroke="#777" stroke-width="0.6"/>
<text x="626.4" y="209.2" font-size="7" text-anchor="middle" fill="#4d4d4d">4</text>
<line x1="649.70" y1="201.00" x2="649.70" y2="203.20" stroke="#777" stroke-width="0.6"/>
<text x="649.7" y="209.2" font-size="7" text-anchor="middle" fill="#4d4d4d">5</text>
<line x1="673.00" y1="201.00" x2="673.00" y2="203.20" stroke="#777" stroke-width="0.6"/>
<text x="673.0" y="209.2" font-size="7" text-anchor="middle" fill="#4d4d4d">6</text>
<text x="556.5" y="219.6" font-size="8.1" text-anchor="middle" fill="#111" stroke="#111" stroke-width="0.15">relative dropout</text>
<g fill="#d9d9d9"><circle cx="552.9" cy="183.1" r="1.55"/><circle cx="523.9" cy="182.0" r="1.55"/><circle cx="572.0" cy="188.8" r="1.55"/><circle cx="578.9" cy="170.6" r="1.55"/><circle cx="574.6" cy="184.5" r="1.55"/><circle cx="521.0" cy="170.0" r="1.55"/><circle cx="561.1" cy="171.0" r="1.55"/><circle cx="524.5" cy="175.5" r="1.55"/><circle cx="551.6" cy="190.0" r="1.55"/><circle cx="560.1" cy="185.1" r="1.55"/><circle cx="553.4" cy="176.3" r="1.55"/><circle cx="538.0" cy="175.2" r="1.55"/><circle cx="535.2" cy="171.3" r="1.55"/><circle cx="586.8" cy="179.3" r="1.55"/><circle cx="595.4" cy="179.0" r="1.55"/><circle cx="588.1" cy="176.1" r="1.55"/><circle cx="516.7" cy="175.6" r="1.55"/><circle cx="514.9" cy="171.0" r="1.55"/><circle cx="590.1" cy="173.9" r="1.55"/><circle cx="564.4" cy="180.4" r="1.55"/><circle cx="527.0" cy="176.1" r="1.55"/><circle cx="526.8" cy="179.1" r="1.55"/><circle cx="527.0" cy="175.9" r="1.55"/><circle cx="587.5" cy="177.6" r="1.55"/><circle cx="536.0" cy="171.4" r="1.55"/><circle cx="530.2" cy="184.2" r="1.55"/><circle cx="544.1" cy="180.6" r="1.55"/><circle cx="566.1" cy="190.6" r="1.55"/><circle cx="523.7" cy="173.3" r="1.55"/><circle cx="530.9" cy="174.2" r="1.55"/><circle cx="549.5" cy="172.1" r="1.55"/><circle cx="568.4" cy="176.7" r="1.55"/><circle cx="511.4" cy="175.1" r="1.55"/><circle cx="564.4" cy="190.2" r="1.55"/><circle cx="570.3" cy="176.4" r="1.55"/><circle cx="603.1" cy="174.5" r="1.55"/><circle cx="552.1" cy="171.1" r="1.55"/><circle cx="523.0" cy="178.5" r="1.55"/><circle cx="565.8" cy="172.8" r="1.55"/><circle cx="578.7" cy="183.7" r="1.55"/><circle cx="519.2" cy="170.4" r="1.55"/><circle cx="583.6" cy="186.6" r="1.55"/><circle cx="542.0" cy="186.2" r="1.55"/><circle cx="549.1" cy="188.7" r="1.55"/><circle cx="571.5" cy="178.9" r="1.55"/><circle cx="566.9" cy="184.3" r="1.55"/><circle cx="582.6" cy="179.0" r="1.55"/><circle cx="583.4" cy="183.7" r="1.55"/><circle cx="551.6" cy="189.9" r="1.55"/><circle cx="555.9" cy="175.2" r="1.55"/><circle cx="579.4" cy="181.6" r="1.55"/><circle cx="531.6" cy="169.9" r="1.55"/><circle cx="536.5" cy="186.0" r="1.55"/><circle cx="525.9" cy="173.7" r="1.55"/><circle cx="551.7" cy="191.2" r="1.55"/><circle cx="539.3" cy="185.7" r="1.55"/><circle cx="525.4" cy="180.0" r="1.55"/><circle cx="599.1" cy="178.9" r="1.55"/><circle cx="567.0" cy="177.3" r="1.55"/><circle cx="533.9" cy="173.7" r="1.55"/><circle cx="552.7" cy="176.3" r="1.55"/><circle cx="527.1" cy="179.6" r="1.55"/><circle cx="571.6" cy="181.6" r="1.55"/><circle cx="512.1" cy="170.4" r="1.55"/><circle cx="598.3" cy="170.6" r="1.55"/><circle cx="580.5" cy="183.4" r="1.55"/><circle cx="553.1" cy="170.2" r="1.55"/><circle cx="593.6" cy="175.3" r="1.55"/><circle cx="519.2" cy="170.7" r="1.55"/><circle cx="572.0" cy="180.4" r="1.55"/><circle cx="572.0" cy="185.5" r="1.55"/><circle cx="577.9" cy="174.4" r="1.55"/><circle cx="555.3" cy="173.9" r="1.55"/><circle cx="581.1" cy="173.9" r="1.55"/><circle cx="533.4" cy="178.0" r="1.55"/><circle cx="579.3" cy="182.2" r="1.55"/><circle cx="570.4" cy="187.9" r="1.55"/><circle cx="546.5" cy="188.8" r="1.55"/><circle cx="601.9" cy="171.7" r="1.55"/><circle cx="544.7" cy="183.4" r="1.55"/><circle cx="574.3" cy="174.6" r="1.55"/><circle cx="573.3" cy="187.0" r="1.55"/><circle cx="562.0" cy="188.7" r="1.55"/><circle cx="596.4" cy="178.0" r="1.55"/><circle cx="563.4" cy="188.2" r="1.55"/><circle cx="556.6" cy="170.3" r="1.55"/><circle cx="591.4" cy="171.2" r="1.55"/><circle cx="590.4" cy="173.8" r="1.55"/><circle cx="540.2" cy="188.7" r="1.55"/><circle cx="519.2" cy="173.2" r="1.55"/><circle cx="559.8" cy="187.1" r="1.55"/><circle cx="606.5" cy="171.7" r="1.55"/><circle cx="527.9" cy="182.3" r="1.55"/><circle cx="535.3" cy="187.2" r="1.55"/><circle cx="573.0" cy="182.3" r="1.55"/><circle cx="537.7" cy="178.8" r="1.55"/><circle cx="565.9" cy="174.5" r="1.55"/><circle cx="561.9" cy="181.8" r="1.55"/><circle cx="569.4" cy="170.3" r="1.55"/><circle cx="547.3" cy="189.0" r="1.55"/><circle cx="564.8" cy="181.5" r="1.55"/><circle cx="578.6" cy="171.2" r="1.55"/><circle cx="562.2" cy="179.6" r="1.55"/><circle cx="533.1" cy="181.1" r="1.55"/><circle cx="555.5" cy="177.3" r="1.55"/><circle cx="603.9" cy="172.7" r="1.55"/><circle cx="588.2" cy="170.2" r="1.55"/><circle cx="525.0" cy="175.1" r="1.55"/><circle cx="578.2" cy="177.4" r="1.55"/><circle cx="542.4" cy="184.6" r="1.55"/><circle cx="531.1" cy="174.4" r="1.55"/><circle cx="561.3" cy="180.2" r="1.55"/><circle cx="544.6" cy="179.6" r="1.55"/><circle cx="561.2" cy="173.5" r="1.55"/><circle cx="573.0" cy="182.4" r="1.55"/><circle cx="596.5" cy="175.2" r="1.55"/><circle cx="601.5" cy="177.2" r="1.55"/><circle cx="599.9" cy="172.8" r="1.55"/><circle cx="532.0" cy="171.9" r="1.55"/><circle cx="593.9" cy="179.8" r="1.55"/><circle cx="589.3" cy="172.6" r="1.55"/><circle cx="547.5" cy="186.2" r="1.55"/><circle cx="524.4" cy="171.3" r="1.55"/><circle cx="515.5" cy="170.5" r="1.55"/><circle cx="563.6" cy="182.1" r="1.55"/><circle cx="565.4" cy="173.1" r="1.55"/><circle cx="523.9" cy="174.5" r="1.55"/><circle cx="604.1" cy="171.9" r="1.55"/><circle cx="553.9" cy="188.1" r="1.55"/><circle cx="539.3" cy="180.9" r="1.55"/><circle cx="559.7" cy="180.0" r="1.55"/><circle cx="568.9" cy="169.9" r="1.55"/><circle cx="523.6" cy="180.6" r="1.55"/><circle cx="583.8" cy="179.4" r="1.55"/><circle cx="525.1" cy="173.6" r="1.55"/><circle cx="559.4" cy="170.0" r="1.55"/><circle cx="572.0" cy="179.4" r="1.55"/><circle cx="568.8" cy="181.8" r="1.55"/><circle cx="592.0" cy="179.4" r="1.55"/><circle cx="579.0" cy="188.2" r="1.55"/><circle cx="586.6" cy="179.4" r="1.55"/><circle cx="582.0" cy="171.3" r="1.55"/><circle cx="540.9" cy="180.9" r="1.55"/><circle cx="573.0" cy="184.7" r="1.55"/><circle cx="575.9" cy="177.8" r="1.55"/><circle cx="575.3" cy="183.4" r="1.55"/><circle cx="561.6" cy="179.0" r="1.55"/><circle cx="579.7" cy="188.0" r="1.55"/><circle cx="609.8" cy="170.2" r="1.55"/><circle cx="570.5" cy="187.5" r="1.55"/><circle cx="531.7" cy="179.3" r="1.55"/><circle cx="544.6" cy="172.0" r="1.55"/><circle cx="563.4" cy="181.9" r="1.55"/><circle cx="591.4" cy="171.4" r="1.55"/><circle cx="568.5" cy="188.0" r="1.55"/><circle cx="570.0" cy="171.0" r="1.55"/><circle cx="560.9" cy="184.1" r="1.55"/><circle cx="543.5" cy="176.5" r="1.55"/><circle cx="574.8" cy="183.2" r="1.55"/><circle cx="534.6" cy="186.9" r="1.55"/><circle cx="536.0" cy="169.9" r="1.55"/><circle cx="530.5" cy="170.6" r="1.55"/><circle cx="546.1" cy="191.3" r="1.55"/><circle cx="584.8" cy="170.8" r="1.55"/><circle cx="550.4" cy="181.2" r="1.55"/><circle cx="560.5" cy="192.3" r="1.55"/><circle cx="582.1" cy="180.9" r="1.55"/><circle cx="569.2" cy="172.4" r="1.55"/><circle cx="571.4" cy="180.6" r="1.55"/><circle cx="526.0" cy="170.9" r="1.55"/><circle cx="561.0" cy="172.6" r="1.55"/><circle cx="551.8" cy="185.8" r="1.55"/><circle cx="553.2" cy="175.9" r="1.55"/><circle cx="566.9" cy="179.8" r="1.55"/><circle cx="588.0" cy="182.4" r="1.55"/><circle cx="583.3" cy="175.4" r="1.55"/><circle cx="542.8" cy="176.2" r="1.55"/><circle cx="578.0" cy="183.3" r="1.55"/><circle cx="567.9" cy="184.9" r="1.55"/><circle cx="585.4" cy="174.2" r="1.55"/><circle cx="508.3" cy="171.1" r="1.55"/><circle cx="533.3" cy="179.9" r="1.55"/><circle cx="571.3" cy="172.1" r="1.55"/><circle cx="562.5" cy="171.4" r="1.55"/><circle cx="563.5" cy="184.9" r="1.55"/><circle cx="544.3" cy="181.2" r="1.55"/><circle cx="526.7" cy="177.9" r="1.55"/><circle cx="512.0" cy="172.5" r="1.55"/><circle cx="587.0" cy="174.8" r="1.55"/><circle cx="549.8" cy="175.8" r="1.55"/><circle cx="591.5" cy="178.5" r="1.55"/><circle cx="539.1" cy="182.9" r="1.55"/><circle cx="550.2" cy="178.5" r="1.55"/><circle cx="512.5" cy="171.6" r="1.55"/><circle cx="564.9" cy="181.3" r="1.55"/><circle cx="578.0" cy="176.8" r="1.55"/><circle cx="587.8" cy="171.4" r="1.55"/><circle cx="582.3" cy="186.4" r="1.55"/><circle cx="534.6" cy="173.1" r="1.55"/><circle cx="542.6" cy="187.2" r="1.55"/><circle cx="543.6" cy="172.4" r="1.55"/><circle cx="580.6" cy="183.4" r="1.55"/><circle cx="590.7" cy="177.0" r="1.55"/><circle cx="538.3" cy="179.3" r="1.55"/><circle cx="530.8" cy="178.4" r="1.55"/><circle cx="543.5" cy="178.4" r="1.55"/><circle cx="546.7" cy="179.0" r="1.55"/><circle cx="590.1" cy="182.7" r="1.55"/><circle cx="599.1" cy="176.4" r="1.55"/><circle cx="562.8" cy="183.3" r="1.55"/><circle cx="590.9" cy="171.2" r="1.55"/><circle cx="563.1" cy="188.7" r="1.55"/><circle cx="513.1" cy="171.6" r="1.55"/><circle cx="574.1" cy="175.5" r="1.55"/><circle cx="560.3" cy="188.1" r="1.55"/><circle cx="546.6" cy="177.8" r="1.55"/><circle cx="581.9" cy="186.7" r="1.55"/><circle cx="560.6" cy="186.8" r="1.55"/><circle cx="590.6" cy="179.8" r="1.55"/><circle cx="549.4" cy="173.1" r="1.55"/><circle cx="544.6" cy="173.7" r="1.55"/><circle cx="526.1" cy="179.9" r="1.55"/><circle cx="587.8" cy="173.9" r="1.55"/><circle cx="567.1" cy="191.6" r="1.55"/><circle cx="507.9" cy="172.2" r="1.55"/><circle cx="523.9" cy="174.9" r="1.55"/><circle cx="568.2" cy="175.0" r="1.55"/><circle cx="524.0" cy="176.4" r="1.55"/><circle cx="537.7" cy="182.9" r="1.55"/><circle cx="592.2" cy="181.2" r="1.55"/><circle cx="563.1" cy="192.8" r="1.55"/><circle cx="556.1" cy="174.9" r="1.55"/><circle cx="590.6" cy="178.9" r="1.55"/><circle cx="561.0" cy="182.1" r="1.55"/><circle cx="575.0" cy="175.4" r="1.55"/><circle cx="544.1" cy="188.9" r="1.55"/><circle cx="581.0" cy="184.3" r="1.55"/><circle cx="521.0" cy="173.4" r="1.55"/><circle cx="538.8" cy="175.9" r="1.55"/><circle cx="532.8" cy="182.5" r="1.55"/><circle cx="512.9" cy="176.1" r="1.55"/><circle cx="581.4" cy="172.0" r="1.55"/><circle cx="596.6" cy="176.9" r="1.55"/><circle cx="589.2" cy="179.7" r="1.55"/><circle cx="603.0" cy="171.8" r="1.55"/><circle cx="593.2" cy="174.6" r="1.55"/><circle cx="562.7" cy="182.3" r="1.55"/><circle cx="537.6" cy="177.1" r="1.55"/><circle cx="542.8" cy="186.2" r="1.55"/><circle cx="553.9" cy="193.0" r="1.55"/><circle cx="580.7" cy="175.3" r="1.55"/><circle cx="564.9" cy="180.7" r="1.55"/><circle cx="590.3" cy="174.6" r="1.55"/><circle cx="570.5" cy="176.6" r="1.55"/><circle cx="544.6" cy="182.7" r="1.55"/><circle cx="536.2" cy="177.8" r="1.55"/><circle cx="546.4" cy="185.7" r="1.55"/><circle cx="531.7" cy="174.4" r="1.55"/><circle cx="583.0" cy="177.6" r="1.55"/><circle cx="582.2" cy="177.6" r="1.55"/><circle cx="593.3" cy="171.8" r="1.55"/><circle cx="519.2" cy="171.9" r="1.55"/><circle cx="577.2" cy="186.7" r="1.55"/><circle cx="523.4" cy="179.3" r="1.55"/><circle cx="513.7" cy="175.1" r="1.55"/><circle cx="521.0" cy="172.6" r="1.55"/><circle cx="547.9" cy="171.4" r="1.55"/><circle cx="545.7" cy="177.6" r="1.55"/><circle cx="548.5" cy="170.0" r="1.55"/><circle cx="547.3" cy="186.5" r="1.55"/><circle cx="575.3" cy="184.3" r="1.55"/><circle cx="541.0" cy="185.3" r="1.55"/><circle cx="542.1" cy="181.7" r="1.55"/><circle cx="571.7" cy="174.4" r="1.55"/><circle cx="513.0" cy="175.5" r="1.55"/><circle cx="566.3" cy="186.5" r="1.55"/><circle cx="543.0" cy="180.8" r="1.55"/><circle cx="562.7" cy="183.2" r="1.55"/><circle cx="564.5" cy="176.0" r="1.55"/><circle cx="530.0" cy="183.5" r="1.55"/><circle cx="593.7" cy="174.1" r="1.55"/><circle cx="563.2" cy="171.4" r="1.55"/><circle cx="575.1" cy="177.0" r="1.55"/><circle cx="576.5" cy="187.5" r="1.55"/><circle cx="545.2" cy="183.9" r="1.55"/><circle cx="590.8" cy="170.0" r="1.55"/><circle cx="525.5" cy="180.9" r="1.55"/><circle cx="519.4" cy="179.0" r="1.55"/><circle cx="565.5" cy="173.8" r="1.55"/><circle cx="560.1" cy="176.0" r="1.55"/><circle cx="565.3" cy="177.6" r="1.55"/><circle cx="573.3" cy="170.5" r="1.55"/><circle cx="576.5" cy="173.1" r="1.55"/><circle cx="554.8" cy="179.6" r="1.55"/><circle cx="571.4" cy="186.3" r="1.55"/><circle cx="556.5" cy="193.7" r="1.55"/><circle cx="548.2" cy="180.1" r="1.55"/><circle cx="565.1" cy="191.5" r="1.55"/><circle cx="560.8" cy="182.3" r="1.55"/><circle cx="550.7" cy="191.5" r="1.55"/><circle cx="538.6" cy="170.9" r="1.55"/><circle cx="583.1" cy="184.1" r="1.55"/><circle cx="585.2" cy="177.0" r="1.55"/><circle cx="568.1" cy="171.3" r="1.55"/><circle cx="560.8" cy="175.4" r="1.55"/><circle cx="537.1" cy="179.2" r="1.55"/><circle cx="529.5" cy="171.3" r="1.55"/><circle cx="549.5" cy="189.1" r="1.55"/><circle cx="565.2" cy="191.5" r="1.55"/><circle cx="606.7" cy="169.6" r="1.55"/><circle cx="530.3" cy="176.8" r="1.55"/><circle cx="539.1" cy="171.1" r="1.55"/><circle cx="546.9" cy="178.2" r="1.55"/><circle cx="567.2" cy="170.7" r="1.55"/><circle cx="537.2" cy="181.7" r="1.55"/><circle cx="555.0" cy="174.6" r="1.55"/><circle cx="600.9" cy="174.3" r="1.55"/><circle cx="594.5" cy="178.2" r="1.55"/><circle cx="555.0" cy="173.8" r="1.55"/><circle cx="509.4" cy="172.2" r="1.55"/><circle cx="582.4" cy="177.2" r="1.55"/><circle cx="581.0" cy="172.9" r="1.55"/><circle cx="552.1" cy="171.5" r="1.55"/><circle cx="528.1" cy="177.0" r="1.55"/><circle cx="580.7" cy="174.4" r="1.55"/><circle cx="523.5" cy="175.3" r="1.55"/><circle cx="575.8" cy="188.7" r="1.55"/><circle cx="544.2" cy="185.6" r="1.55"/><circle cx="528.7" cy="176.9" r="1.55"/><circle cx="533.9" cy="185.1" r="1.55"/><circle cx="551.6" cy="182.4" r="1.55"/><circle cx="561.3" cy="170.7" r="1.55"/><circle cx="568.8" cy="176.5" r="1.55"/><circle cx="585.6" cy="175.6" r="1.55"/><circle cx="534.1" cy="182.9" r="1.55"/><circle cx="610.7" cy="170.4" r="1.55"/><circle cx="553.9" cy="187.8" r="1.55"/><circle cx="558.0" cy="174.0" r="1.55"/><circle cx="564.0" cy="185.2" r="1.55"/><circle cx="542.8" cy="185.5" r="1.55"/><circle cx="588.6" cy="182.1" r="1.55"/><circle cx="577.9" cy="182.2" r="1.55"/><circle cx="588.2" cy="173.6" r="1.55"/><circle cx="569.7" cy="175.3" r="1.55"/><circle cx="551.6" cy="188.3" r="1.55"/><circle cx="529.5" cy="181.4" r="1.55"/><circle cx="527.9" cy="183.6" r="1.55"/><circle cx="557.9" cy="170.5" r="1.55"/><circle cx="568.5" cy="186.9" r="1.55"/><circle cx="565.8" cy="190.7" r="1.55"/><circle cx="523.4" cy="173.3" r="1.55"/><circle cx="550.9" cy="180.3" r="1.55"/><circle cx="565.4" cy="182.7" r="1.55"/><circle cx="589.5" cy="175.4" r="1.55"/><circle cx="519.8" cy="177.1" r="1.55"/><circle cx="571.1" cy="182.3" r="1.55"/><circle cx="532.6" cy="183.8" r="1.55"/><circle cx="522.5" cy="175.8" r="1.55"/><circle cx="543.4" cy="174.8" r="1.55"/><circle cx="608.8" cy="170.6" r="1.55"/><circle cx="553.2" cy="187.6" r="1.55"/><circle cx="600.1" cy="173.0" r="1.55"/><circle cx="546.4" cy="176.8" r="1.55"/><circle cx="549.8" cy="171.5" r="1.55"/><circle cx="528.8" cy="175.7" r="1.55"/><circle cx="563.6" cy="175.4" r="1.55"/><circle cx="553.8" cy="192.2" r="1.55"/><circle cx="543.3" cy="177.8" r="1.55"/><circle cx="574.2" cy="171.0" r="1.55"/><circle cx="541.1" cy="186.4" r="1.55"/><circle cx="546.4" cy="190.0" r="1.55"/><circle cx="545.2" cy="188.5" r="1.55"/><circle cx="527.3" cy="178.0" r="1.55"/><circle cx="521.7" cy="174.5" r="1.55"/><circle cx="527.2" cy="180.9" r="1.55"/><circle cx="537.3" cy="180.4" r="1.55"/><circle cx="597.2" cy="174.6" r="1.55"/><circle cx="545.4" cy="171.4" r="1.55"/><circle cx="578.7" cy="178.4" r="1.55"/><circle cx="533.6" cy="170.0" r="1.55"/><circle cx="523.7" cy="175.9" r="1.55"/><circle cx="546.4" cy="192.0" r="1.55"/><circle cx="581.2" cy="176.1" r="1.55"/><circle cx="543.0" cy="173.3" r="1.55"/><circle cx="602.0" cy="170.1" r="1.55"/><circle cx="538.8" cy="178.9" r="1.55"/><circle cx="539.1" cy="188.3" r="1.55"/><circle cx="560.1" cy="170.9" r="1.55"/><circle cx="546.5" cy="175.4" r="1.55"/><circle cx="508.4" cy="173.3" r="1.55"/><circle cx="568.3" cy="170.4" r="1.55"/><circle cx="537.7" cy="179.9" r="1.55"/><circle cx="562.8" cy="172.9" r="1.55"/><circle cx="580.3" cy="175.9" r="1.55"/><circle cx="582.4" cy="185.7" r="1.55"/><circle cx="519.9" cy="174.6" r="1.55"/><circle cx="534.3" cy="186.8" r="1.55"/><circle cx="547.8" cy="179.0" r="1.55"/><circle cx="597.5" cy="175.1" r="1.55"/><circle cx="535.5" cy="177.9" r="1.55"/><circle cx="527.3" cy="170.6" r="1.55"/><circle cx="565.1" cy="189.2" r="1.55"/><circle cx="597.8" cy="175.3" r="1.55"/><circle cx="572.3" cy="171.8" r="1.55"/><circle cx="550.2" cy="179.1" r="1.55"/><circle cx="539.4" cy="181.6" r="1.55"/><circle cx="534.2" cy="173.4" r="1.55"/><circle cx="547.5" cy="181.1" r="1.55"/><circle cx="529.9" cy="171.9" r="1.55"/><circle cx="540.9" cy="179.8" r="1.55"/><circle cx="579.7" cy="183.0" r="1.55"/><circle cx="579.6" cy="170.2" r="1.55"/><circle cx="546.3" cy="178.4" r="1.55"/><circle cx="567.3" cy="180.9" r="1.55"/><circle cx="539.2" cy="175.7" r="1.55"/><circle cx="532.3" cy="185.8" r="1.55"/><circle cx="524.1" cy="181.0" r="1.55"/><circle cx="543.2" cy="183.5" r="1.55"/><circle cx="571.8" cy="184.6" r="1.55"/><circle cx="548.4" cy="179.7" r="1.55"/><circle cx="599.0" cy="178.8" r="1.55"/><circle cx="602.2" cy="170.5" r="1.55"/><circle cx="537.3" cy="178.3" r="1.55"/><circle cx="524.8" cy="175.1" r="1.55"/><circle cx="577.5" cy="175.3" r="1.55"/><circle cx="546.5" cy="175.4" r="1.55"/><circle cx="563.2" cy="184.7" r="1.55"/><circle cx="564.6" cy="189.7" r="1.55"/><circle cx="537.8" cy="186.9" r="1.55"/><circle cx="579.1" cy="186.2" r="1.55"/><circle cx="543.9" cy="176.5" r="1.55"/><circle cx="584.9" cy="182.5" r="1.55"/><circle cx="529.6" cy="175.6" r="1.55"/><circle cx="539.1" cy="173.9" r="1.55"/><circle cx="559.5" cy="172.6" r="1.55"/><circle cx="510.8" cy="171.3" r="1.55"/><circle cx="587.4" cy="181.2" r="1.55"/><circle cx="597.9" cy="170.9" r="1.55"/><circle cx="531.4" cy="181.9" r="1.55"/><circle cx="590.0" cy="179.1" r="1.55"/><circle cx="581.3" cy="175.7" r="1.55"/><circle cx="581.3" cy="177.5" r="1.55"/><circle cx="540.1" cy="188.0" r="1.55"/><circle cx="565.3" cy="179.8" r="1.55"/><circle cx="580.3" cy="184.7" r="1.55"/><circle cx="517.5" cy="178.7" r="1.55"/><circle cx="576.3" cy="175.2" r="1.55"/><circle cx="523.9" cy="169.9" r="1.55"/><circle cx="578.3" cy="179.7" r="1.55"/><circle cx="572.2" cy="179.2" r="1.55"/><circle cx="516.8" cy="170.6" r="1.55"/><circle cx="534.9" cy="187.3" r="1.55"/><circle cx="539.6" cy="170.2" r="1.55"/><circle cx="562.6" cy="181.3" r="1.55"/><circle cx="544.3" cy="177.1" r="1.55"/><circle cx="534.6" cy="179.1" r="1.55"/><circle cx="570.7" cy="188.1" r="1.55"/><circle cx="579.0" cy="182.8" r="1.55"/><circle cx="590.4" cy="173.2" r="1.55"/><circle cx="522.9" cy="172.2" r="1.55"/><circle cx="556.7" cy="172.5" r="1.55"/><circle cx="539.0" cy="170.1" r="1.55"/><circle cx="565.1" cy="173.1" r="1.55"/><circle cx="571.5" cy="176.2" r="1.55"/><circle cx="528.6" cy="181.3" r="1.55"/><circle cx="543.5" cy="175.9" r="1.55"/><circle cx="509.5" cy="171.2" r="1.55"/><circle cx="600.4" cy="177.1" r="1.55"/><circle cx="512.5" cy="174.0" r="1.55"/><circle cx="591.2" cy="179.2" r="1.55"/><circle cx="574.9" cy="184.7" r="1.55"/><circle cx="551.9" cy="189.8" r="1.55"/><circle cx="582.3" cy="173.9" r="1.55"/><circle cx="516.8" cy="171.4" r="1.55"/><circle cx="542.8" cy="187.8" r="1.55"/><circle cx="537.5" cy="182.0" r="1.55"/><circle cx="607.6" cy="169.9" r="1.55"/><circle cx="560.9" cy="189.2" r="1.55"/><circle cx="547.1" cy="189.0" r="1.55"/><circle cx="580.2" cy="175.7" r="1.55"/><circle cx="602.2" cy="170.2" r="1.55"/><circle cx="566.3" cy="175.1" r="1.55"/><circle cx="545.9" cy="178.5" r="1.55"/><circle cx="575.0" cy="189.2" r="1.55"/><circle cx="543.4" cy="185.0" r="1.55"/><circle cx="542.2" cy="176.4" r="1.55"/><circle cx="584.1" cy="174.7" r="1.55"/><circle cx="584.3" cy="182.8" r="1.55"/><circle cx="577.5" cy="173.9" r="1.55"/><circle cx="515.4" cy="173.1" r="1.55"/><circle cx="541.8" cy="180.0" r="1.55"/><circle cx="547.6" cy="177.4" r="1.55"/><circle cx="562.0" cy="192.6" r="1.55"/><circle cx="538.7" cy="187.9" r="1.55"/><circle cx="527.7" cy="179.5" r="1.55"/><circle cx="580.3" cy="173.9" r="1.55"/><circle cx="533.5" cy="186.0" r="1.55"/><circle cx="523.8" cy="178.2" r="1.55"/><circle cx="572.6" cy="178.8" r="1.55"/><circle cx="573.5" cy="174.7" r="1.55"/><circle cx="570.6" cy="191.1" r="1.55"/><circle cx="578.5" cy="180.6" r="1.55"/><circle cx="575.9" cy="179.7" r="1.55"/><circle cx="545.5" cy="175.2" r="1.55"/><circle cx="568.9" cy="183.5" r="1.55"/><circle cx="559.6" cy="170.4" r="1.55"/><circle cx="571.8" cy="180.4" r="1.55"/><circle cx="568.1" cy="184.0" r="1.55"/><circle cx="604.6" cy="173.3" r="1.55"/><circle cx="583.7" cy="177.2" r="1.55"/><circle cx="547.4" cy="190.6" r="1.55"/><circle cx="557.0" cy="175.3" r="1.55"/><circle cx="590.1" cy="182.0" r="1.55"/><circle cx="553.0" cy="182.6" r="1.55"/><circle cx="597.5" cy="174.3" r="1.55"/><circle cx="534.2" cy="185.2" r="1.55"/><circle cx="589.0" cy="181.5" r="1.55"/><circle cx="563.3" cy="191.5" r="1.55"/><circle cx="590.1" cy="173.3" r="1.55"/><circle cx="543.5" cy="172.0" r="1.55"/><circle cx="516.7" cy="174.0" r="1.55"/><circle cx="546.0" cy="190.2" r="1.55"/><circle cx="550.5" cy="170.0" r="1.55"/><circle cx="540.7" cy="177.2" r="1.55"/><circle cx="572.0" cy="176.3" r="1.55"/><circle cx="569.1" cy="186.4" r="1.55"/><circle cx="523.5" cy="172.7" r="1.55"/><circle cx="578.9" cy="180.9" r="1.55"/><circle cx="517.9" cy="172.4" r="1.55"/><circle cx="542.6" cy="174.3" r="1.55"/><circle cx="583.5" cy="178.3" r="1.55"/><circle cx="537.5" cy="179.5" r="1.55"/><circle cx="549.9" cy="189.4" r="1.55"/><circle cx="548.2" cy="180.7" r="1.55"/><circle cx="558.7" cy="192.4" r="1.55"/><circle cx="541.4" cy="186.6" r="1.55"/><circle cx="529.4" cy="183.6" r="1.55"/><circle cx="577.1" cy="180.6" r="1.55"/><circle cx="584.3" cy="184.2" r="1.55"/><circle cx="552.4" cy="171.2" r="1.55"/><circle cx="549.3" cy="176.4" r="1.55"/><circle cx="551.6" cy="192.7" r="1.55"/><circle cx="535.6" cy="186.4" r="1.55"/><circle cx="576.6" cy="175.5" r="1.55"/><circle cx="548.4" cy="172.8" r="1.55"/><circle cx="600.7" cy="175.7" r="1.55"/><circle cx="549.4" cy="177.9" r="1.55"/><circle cx="567.8" cy="182.8" r="1.55"/><circle cx="544.4" cy="187.1" r="1.55"/><circle cx="576.3" cy="177.9" r="1.55"/><circle cx="554.7" cy="178.4" r="1.55"/><circle cx="554.2" cy="177.2" r="1.55"/><circle cx="576.5" cy="184.3" r="1.55"/><circle cx="547.3" cy="185.5" r="1.55"/><circle cx="526.6" cy="178.6" r="1.55"/><circle cx="519.4" cy="179.2" r="1.55"/><circle cx="584.1" cy="171.6" r="1.55"/><circle cx="571.3" cy="187.6" r="1.55"/><circle cx="561.9" cy="182.5" r="1.55"/><circle cx="536.6" cy="181.9" r="1.55"/><circle cx="518.0" cy="171.7" r="1.55"/><circle cx="559.3" cy="176.7" r="1.55"/><circle cx="588.0" cy="175.6" r="1.55"/><circle cx="548.7" cy="170.9" r="1.55"/><circle cx="527.5" cy="180.5" r="1.55"/><circle cx="564.3" cy="180.7" r="1.55"/><circle cx="595.9" cy="172.1" r="1.55"/><circle cx="595.8" cy="173.3" r="1.55"/><circle cx="547.9" cy="184.4" r="1.55"/><circle cx="548.6" cy="169.9" r="1.55"/><circle cx="583.3" cy="186.8" r="1.55"/><circle cx="507.1" cy="172.3" r="1.55"/><circle cx="573.4" cy="190.1" r="1.55"/><circle cx="512.5" cy="175.9" r="1.55"/><circle cx="539.5" cy="181.4" r="1.55"/><circle cx="558.1" cy="191.5" r="1.55"/><circle cx="546.6" cy="176.8" r="1.55"/><circle cx="583.8" cy="175.9" r="1.55"/><circle cx="543.7" cy="180.0" r="1.55"/><circle cx="550.5" cy="180.5" r="1.55"/><circle cx="563.1" cy="179.3" r="1.55"/><circle cx="528.0" cy="172.0" r="1.55"/><circle cx="544.2" cy="177.2" r="1.55"/><circle cx="556.3" cy="175.2" r="1.55"/><circle cx="584.9" cy="181.4" r="1.55"/><circle cx="608.4" cy="169.8" r="1.55"/><circle cx="543.5" cy="184.1" r="1.55"/><circle cx="543.8" cy="176.9" r="1.55"/><circle cx="569.8" cy="183.9" r="1.55"/><circle cx="538.0" cy="181.6" r="1.55"/><circle cx="559.7" cy="187.8" r="1.55"/><circle cx="509.7" cy="171.8" r="1.55"/><circle cx="531.2" cy="176.1" r="1.55"/><circle cx="589.9" cy="179.9" r="1.55"/><circle cx="596.9" cy="179.3" r="1.55"/><circle cx="534.9" cy="186.1" r="1.55"/><circle cx="593.8" cy="177.5" r="1.55"/><circle cx="563.6" cy="192.0" r="1.55"/><circle cx="573.0" cy="170.1" r="1.55"/><circle cx="566.6" cy="169.7" r="1.55"/><circle cx="583.6" cy="179.7" r="1.55"/><circle cx="603.0" cy="171.4" r="1.55"/><circle cx="588.4" cy="180.3" r="1.55"/><circle cx="585.2" cy="178.7" r="1.55"/><circle cx="552.3" cy="180.2" r="1.55"/><circle cx="516.7" cy="177.3" r="1.55"/><circle cx="583.3" cy="171.3" r="1.55"/><circle cx="576.0" cy="182.9" r="1.55"/><circle cx="516.2" cy="172.5" r="1.55"/><circle cx="564.5" cy="191.9" r="1.55"/><circle cx="526.8" cy="179.6" r="1.55"/><circle cx="561.9" cy="189.9" r="1.55"/><circle cx="555.0" cy="170.4" r="1.55"/><circle cx="550.6" cy="178.7" r="1.55"/><circle cx="545.9" cy="188.4" r="1.55"/><circle cx="525.8" cy="178.0" r="1.55"/><circle cx="521.7" cy="178.1" r="1.55"/><circle cx="567.9" cy="182.2" r="1.55"/><circle cx="546.0" cy="183.5" r="1.55"/><circle cx="595.0" cy="178.3" r="1.55"/><circle cx="567.1" cy="181.2" r="1.55"/><circle cx="579.3" cy="175.3" r="1.55"/><circle cx="566.1" cy="175.8" r="1.55"/><circle cx="544.8" cy="186.9" r="1.55"/><circle cx="550.7" cy="184.5" r="1.55"/><circle cx="556.6" cy="175.2" r="1.55"/><circle cx="585.3" cy="172.1" r="1.55"/><circle cx="565.4" cy="182.9" r="1.55"/><circle cx="540.0" cy="173.3" r="1.55"/><circle cx="591.0" cy="172.0" r="1.55"/><circle cx="588.7" cy="174.9" r="1.55"/><circle cx="525.5" cy="182.5" r="1.55"/><circle cx="569.9" cy="172.5" r="1.55"/><circle cx="586.6" cy="183.7" r="1.55"/><circle cx="578.4" cy="178.4" r="1.55"/><circle cx="582.5" cy="176.0" r="1.55"/><circle cx="530.9" cy="170.1" r="1.55"/><circle cx="562.0" cy="175.7" r="1.55"/><circle cx="535.6" cy="175.7" r="1.55"/><circle cx="533.4" cy="176.5" r="1.55"/><circle cx="534.0" cy="181.9" r="1.55"/><circle cx="598.4" cy="173.5" r="1.55"/><circle cx="569.8" cy="182.8" r="1.55"/><circle cx="583.3" cy="182.5" r="1.55"/><circle cx="587.7" cy="175.9" r="1.55"/><circle cx="543.2" cy="188.7" r="1.55"/><circle cx="529.2" cy="180.6" r="1.55"/><circle cx="544.0" cy="187.2" r="1.55"/><circle cx="565.1" cy="178.0" r="1.55"/><circle cx="575.0" cy="171.3" r="1.55"/><circle cx="601.4" cy="172.1" r="1.55"/><circle cx="565.1" cy="172.5" r="1.55"/><circle cx="598.2" cy="171.1" r="1.55"/><circle cx="576.0" cy="171.2" r="1.55"/><circle cx="560.3" cy="171.5" r="1.55"/><circle cx="560.9" cy="174.1" r="1.55"/><circle cx="560.9" cy="178.2" r="1.55"/><circle cx="557.9" cy="174.4" r="1.55"/><circle cx="580.1" cy="179.7" r="1.55"/><circle cx="556.5" cy="171.5" r="1.55"/><circle cx="518.6" cy="176.9" r="1.55"/><circle cx="540.2" cy="186.6" r="1.55"/><circle cx="567.8" cy="186.2" r="1.55"/><circle cx="570.2" cy="184.4" r="1.55"/><circle cx="604.8" cy="171.7" r="1.55"/><circle cx="560.1" cy="192.8" r="1.55"/><circle cx="507.4" cy="172.3" r="1.55"/><circle cx="506.6" cy="170.4" r="1.55"/><circle cx="560.1" cy="183.6" r="1.55"/><circle cx="594.0" cy="179.5" r="1.55"/><circle cx="540.2" cy="178.0" r="1.55"/><circle cx="532.3" cy="183.8" r="1.55"/><circle cx="560.8" cy="177.7" r="1.55"/><circle cx="576.9" cy="180.6" r="1.55"/><circle cx="523.0" cy="173.2" r="1.55"/><circle cx="531.4" cy="181.2" r="1.55"/><circle cx="588.6" cy="177.7" r="1.55"/><circle cx="532.1" cy="182.3" r="1.55"/><circle cx="523.9" cy="175.2" r="1.55"/><circle cx="536.6" cy="177.6" r="1.55"/><circle cx="582.5" cy="185.9" r="1.55"/><circle cx="589.4" cy="182.7" r="1.55"/><circle cx="530.4" cy="174.9" r="1.55"/><circle cx="544.0" cy="178.2" r="1.55"/><circle cx="545.8" cy="172.9" r="1.55"/><circle cx="540.5" cy="188.7" r="1.55"/><circle cx="545.0" cy="176.5" r="1.55"/><circle cx="568.1" cy="187.5" r="1.55"/><circle cx="545.1" cy="171.2" r="1.55"/><circle cx="602.8" cy="173.1" r="1.55"/><circle cx="544.2" cy="172.5" r="1.55"/><circle cx="511.7" cy="174.1" r="1.55"/><circle cx="541.5" cy="170.8" r="1.55"/><circle cx="537.2" cy="174.0" r="1.55"/><circle cx="562.4" cy="183.3" r="1.55"/><circle cx="586.3" cy="182.3" r="1.55"/><circle cx="606.3" cy="171.6" r="1.55"/><circle cx="528.1" cy="171.5" r="1.55"/><circle cx="537.4" cy="188.0" r="1.55"/><circle cx="521.3" cy="177.6" r="1.55"/><circle cx="565.4" cy="176.7" r="1.55"/><circle cx="553.7" cy="184.2" r="1.55"/><circle cx="595.4" cy="180.9" r="1.55"/><circle cx="609.6" cy="170.2" r="1.55"/><circle cx="586.4" cy="179.3" r="1.55"/><circle cx="509.6" cy="173.5" r="1.55"/><circle cx="526.9" cy="170.1" r="1.55"/><circle cx="554.2" cy="174.0" r="1.55"/><circle cx="570.8" cy="178.5" r="1.55"/><circle cx="538.2" cy="178.2" r="1.55"/><circle cx="549.0" cy="182.7" r="1.55"/><circle cx="553.7" cy="177.6" r="1.55"/><circle cx="602.7" cy="175.2" r="1.55"/><circle cx="599.3" cy="173.5" r="1.55"/><circle cx="559.0" cy="193.4" r="1.55"/><circle cx="535.2" cy="173.7" r="1.55"/><circle cx="582.1" cy="175.3" r="1.55"/><circle cx="567.0" cy="173.4" r="1.55"/><circle cx="541.5" cy="183.1" r="1.55"/><circle cx="557.7" cy="191.9" r="1.55"/><circle cx="559.5" cy="178.8" r="1.55"/><circle cx="533.1" cy="183.5" r="1.55"/><circle cx="572.2" cy="180.8" r="1.55"/><circle cx="551.8" cy="171.6" r="1.55"/><circle cx="590.4" cy="175.3" r="1.55"/><circle cx="564.0" cy="192.5" r="1.55"/><circle cx="525.2" cy="174.8" r="1.55"/><circle cx="578.0" cy="188.9" r="1.55"/><circle cx="590.5" cy="173.9" r="1.55"/><circle cx="592.0" cy="176.9" r="1.55"/><circle cx="541.1" cy="188.8" r="1.55"/><circle cx="598.1" cy="177.1" r="1.55"/><circle cx="571.3" cy="172.6" r="1.55"/><circle cx="582.5" cy="171.0" r="1.55"/><circle cx="565.5" cy="192.4" r="1.55"/><circle cx="573.0" cy="181.5" r="1.55"/><circle cx="545.5" cy="178.2" r="1.55"/><circle cx="589.9" cy="175.1" r="1.55"/><circle cx="574.6" cy="188.4" r="1.55"/><circle cx="579.0" cy="182.1" r="1.55"/><circle cx="538.1" cy="176.2" r="1.55"/><circle cx="602.4" cy="176.6" r="1.55"/><circle cx="540.0" cy="176.4" r="1.55"/><circle cx="560.4" cy="181.4" r="1.55"/><circle cx="561.8" cy="181.0" r="1.55"/><circle cx="584.4" cy="175.6" r="1.55"/><circle cx="530.1" cy="177.5" r="1.55"/><circle cx="511.6" cy="170.9" r="1.55"/><circle cx="542.4" cy="182.4" r="1.55"/><circle cx="548.8" cy="179.4" r="1.55"/><circle cx="529.4" cy="181.1" r="1.55"/><circle cx="607.6" cy="172.6" r="1.55"/><circle cx="550.8" cy="186.2" r="1.55"/><circle cx="586.3" cy="183.0" r="1.55"/><circle cx="601.5" cy="175.7" r="1.55"/><circle cx="561.0" cy="174.2" r="1.55"/><circle cx="586.7" cy="171.0" r="1.55"/><circle cx="582.5" cy="177.3" r="1.55"/><circle cx="586.8" cy="185.3" r="1.55"/><circle cx="580.2" cy="180.7" r="1.55"/><circle cx="550.7" cy="172.2" r="1.55"/><circle cx="555.3" cy="192.7" r="1.55"/><circle cx="600.0" cy="171.0" r="1.55"/><circle cx="579.0" cy="180.2" r="1.55"/><circle cx="565.9" cy="187.6" r="1.55"/><circle cx="547.5" cy="185.3" r="1.55"/><circle cx="577.6" cy="184.5" r="1.55"/><circle cx="517.9" cy="170.9" r="1.55"/><circle cx="555.2" cy="170.0" r="1.55"/><circle cx="554.6" cy="172.2" r="1.55"/><circle cx="517.0" cy="177.0" r="1.55"/><circle cx="559.0" cy="179.5" r="1.55"/><circle cx="547.1" cy="191.1" r="1.55"/><circle cx="580.5" cy="180.5" r="1.55"/><circle cx="543.5" cy="180.2" r="1.55"/><circle cx="552.9" cy="177.2" r="1.55"/><circle cx="571.4" cy="179.5" r="1.55"/><circle cx="536.8" cy="188.3" r="1.55"/><circle cx="553.2" cy="181.1" r="1.55"/><circle cx="547.4" cy="185.8" r="1.55"/><circle cx="584.0" cy="176.8" r="1.55"/><circle cx="574.8" cy="185.8" r="1.55"/><circle cx="551.0" cy="185.4" r="1.55"/><circle cx="540.9" cy="186.8" r="1.55"/><circle cx="586.8" cy="175.9" r="1.55"/><circle cx="570.3" cy="174.9" r="1.55"/><circle cx="546.3" cy="183.9" r="1.55"/><circle cx="584.6" cy="183.6" r="1.55"/><circle cx="564.6" cy="182.8" r="1.55"/><circle cx="588.3" cy="177.5" r="1.55"/><circle cx="533.6" cy="183.3" r="1.55"/><circle cx="561.1" cy="181.6" r="1.55"/><circle cx="549.4" cy="173.1" r="1.55"/><circle cx="569.4" cy="180.7" r="1.55"/><circle cx="542.1" cy="188.0" r="1.55"/><circle cx="578.7" cy="186.3" r="1.55"/><circle cx="593.5" cy="178.8" r="1.55"/><circle cx="533.6" cy="178.3" r="1.55"/><circle cx="562.0" cy="170.2" r="1.55"/><circle cx="544.4" cy="185.5" r="1.55"/><circle cx="520.0" cy="177.1" r="1.55"/><circle cx="531.0" cy="173.9" r="1.55"/><circle cx="516.7" cy="171.7" r="1.55"/><circle cx="532.6" cy="181.4" r="1.55"/><circle cx="579.1" cy="170.3" r="1.55"/><circle cx="579.5" cy="177.8" r="1.55"/><circle cx="598.9" cy="174.9" r="1.55"/><circle cx="555.2" cy="177.2" r="1.55"/><circle cx="551.7" cy="189.3" r="1.55"/><circle cx="565.6" cy="184.3" r="1.55"/><circle cx="540.9" cy="180.2" r="1.55"/><circle cx="550.6" cy="189.6" r="1.55"/><circle cx="522.5" cy="178.2" r="1.55"/><circle cx="580.3" cy="174.8" r="1.55"/><circle cx="528.5" cy="178.4" r="1.55"/><circle cx="562.7" cy="183.7" r="1.55"/><circle cx="514.3" cy="170.7" r="1.55"/><circle cx="568.8" cy="190.5" r="1.55"/><circle cx="510.8" cy="172.1" r="1.55"/><circle cx="523.1" cy="176.2" r="1.55"/><circle cx="576.0" cy="186.4" r="1.55"/><circle cx="538.8" cy="180.9" r="1.55"/><circle cx="535.2" cy="183.2" r="1.55"/><circle cx="542.4" cy="178.3" r="1.55"/><circle cx="530.9" cy="176.7" r="1.55"/><circle cx="532.2" cy="170.0" r="1.55"/><circle cx="537.5" cy="183.9" r="1.55"/><circle cx="533.0" cy="172.3" r="1.55"/><circle cx="595.4" cy="181.0" r="1.55"/><circle cx="559.3" cy="177.1" r="1.55"/><circle cx="571.2" cy="185.6" r="1.55"/><circle cx="578.8" cy="181.7" r="1.55"/><circle cx="548.6" cy="179.0" r="1.55"/><circle cx="561.1" cy="182.5" r="1.55"/><circle cx="528.2" cy="170.1" r="1.55"/><circle cx="536.5" cy="170.4" r="1.55"/><circle cx="534.8" cy="174.2" r="1.55"/><circle cx="577.8" cy="186.3" r="1.55"/><circle cx="584.4" cy="180.6" r="1.55"/><circle cx="546.9" cy="183.0" r="1.55"/><circle cx="512.0" cy="175.6" r="1.55"/><circle cx="559.6" cy="177.1" r="1.55"/><circle cx="611.3" cy="169.9" r="1.55"/><circle cx="520.0" cy="179.0" r="1.55"/><circle cx="573.1" cy="172.3" r="1.55"/><circle cx="564.7" cy="192.3" r="1.55"/><circle cx="551.0" cy="188.0" r="1.55"/><circle cx="567.9" cy="183.7" r="1.55"/><circle cx="522.7" cy="180.8" r="1.55"/><circle cx="527.4" cy="180.4" r="1.55"/><circle cx="562.7" cy="177.7" r="1.55"/><circle cx="566.4" cy="184.9" r="1.55"/><circle cx="574.9" cy="174.8" r="1.55"/><circle cx="564.3" cy="172.1" r="1.55"/><circle cx="572.8" cy="175.9" r="1.55"/><circle cx="585.9" cy="171.0" r="1.55"/><circle cx="519.2" cy="174.5" r="1.55"/><circle cx="555.1" cy="192.8" r="1.55"/><circle cx="538.7" cy="175.9" r="1.55"/><circle cx="593.4" cy="174.1" r="1.55"/><circle cx="572.6" cy="184.5" r="1.55"/><circle cx="605.0" cy="170.7" r="1.55"/><circle cx="564.8" cy="178.9" r="1.55"/><circle cx="593.0" cy="175.7" r="1.55"/><circle cx="581.2" cy="174.1" r="1.55"/><circle cx="557.5" cy="193.0" r="1.55"/><circle cx="529.9" cy="176.3" r="1.55"/><circle cx="511.1" cy="174.1" r="1.55"/><circle cx="529.6" cy="176.6" r="1.55"/><circle cx="571.8" cy="178.9" r="1.55"/><circle cx="581.5" cy="181.5" r="1.55"/><circle cx="545.5" cy="182.4" r="1.55"/><circle cx="509.3" cy="170.3" r="1.55"/><circle cx="539.6" cy="173.2" r="1.55"/><circle cx="568.0" cy="191.7" r="1.55"/><circle cx="523.5" cy="181.7" r="1.55"/><circle cx="565.0" cy="175.4" r="1.55"/><circle cx="570.9" cy="187.6" r="1.55"/><circle cx="520.0" cy="173.5" r="1.55"/><circle cx="508.1" cy="170.3" r="1.55"/><circle cx="598.7" cy="178.8" r="1.55"/><circle cx="513.3" cy="170.7" r="1.55"/><circle cx="603.0" cy="170.5" r="1.55"/><circle cx="516.2" cy="176.5" r="1.55"/><circle cx="524.6" cy="172.3" r="1.55"/><circle cx="522.2" cy="173.7" r="1.55"/><circle cx="561.8" cy="178.7" r="1.55"/><circle cx="558.9" cy="179.0" r="1.55"/><circle cx="555.2" cy="170.6" r="1.55"/><circle cx="570.4" cy="174.3" r="1.55"/><circle cx="540.3" cy="169.8" r="1.55"/><circle cx="546.4" cy="182.7" r="1.55"/><circle cx="605.5" cy="172.8" r="1.55"/><circle cx="545.4" cy="186.7" r="1.55"/><circle cx="544.2" cy="186.7" r="1.55"/><circle cx="602.1" cy="170.6" r="1.55"/><circle cx="534.7" cy="176.7" r="1.55"/><circle cx="524.1" cy="179.1" r="1.55"/><circle cx="543.1" cy="184.3" r="1.55"/><circle cx="566.3" cy="191.1" r="1.55"/><circle cx="519.5" cy="179.4" r="1.55"/><circle cx="564.9" cy="172.8" r="1.55"/><circle cx="588.3" cy="171.1" r="1.55"/><circle cx="571.9" cy="176.4" r="1.55"/><circle cx="538.9" cy="184.3" r="1.55"/><circle cx="524.7" cy="180.4" r="1.55"/><circle cx="532.4" cy="178.4" r="1.55"/><circle cx="578.9" cy="174.2" r="1.55"/><circle cx="595.7" cy="174.4" r="1.55"/><circle cx="564.1" cy="177.8" r="1.55"/><circle cx="504.1" cy="169.6" r="1.55"/><circle cx="572.9" cy="171.2" r="1.55"/><circle cx="581.3" cy="175.2" r="1.55"/><circle cx="549.5" cy="177.3" r="1.55"/><circle cx="546.9" cy="177.2" r="1.55"/><circle cx="584.1" cy="180.8" r="1.55"/><circle cx="578.0" cy="173.3" r="1.55"/><circle cx="521.5" cy="170.5" r="1.55"/><circle cx="548.7" cy="174.0" r="1.55"/><circle cx="582.9" cy="183.5" r="1.55"/><circle cx="510.3" cy="172.0" r="1.55"/><circle cx="563.2" cy="190.3" r="1.55"/><circle cx="544.2" cy="172.3" r="1.55"/><circle cx="573.3" cy="170.2" r="1.55"/><circle cx="528.8" cy="170.3" r="1.55"/><circle cx="521.5" cy="171.1" r="1.55"/><circle cx="561.4" cy="172.7" r="1.55"/><circle cx="569.2" cy="189.5" r="1.55"/><circle cx="541.2" cy="172.5" r="1.55"/><circle cx="576.5" cy="187.2" r="1.55"/><circle cx="566.9" cy="190.5" r="1.55"/><circle cx="572.3" cy="180.9" r="1.55"/><circle cx="532.4" cy="184.2" r="1.55"/><circle cx="559.0" cy="182.0" r="1.55"/><circle cx="510.3" cy="172.8" r="1.55"/><circle cx="569.5" cy="186.1" r="1.55"/><circle cx="535.3" cy="180.6" r="1.55"/><circle cx="546.6" cy="191.9" r="1.55"/><circle cx="547.2" cy="171.5" r="1.55"/><circle cx="577.2" cy="173.2" r="1.55"/><circle cx="520.1" cy="179.8" r="1.55"/><circle cx="569.0" cy="188.1" r="1.55"/><circle cx="552.0" cy="176.7" r="1.55"/><circle cx="527.0" cy="169.9" r="1.55"/><circle cx="518.3" cy="172.9" r="1.55"/><circle cx="527.1" cy="180.4" r="1.55"/><circle cx="569.3" cy="170.8" r="1.55"/><circle cx="515.8" cy="170.5" r="1.55"/><circle cx="574.4" cy="181.0" r="1.55"/><circle cx="526.3" cy="170.7" r="1.55"/><circle cx="569.2" cy="181.0" r="1.55"/><circle cx="538.6" cy="187.1" r="1.55"/><circle cx="530.9" cy="183.0" r="1.55"/><circle cx="538.3" cy="173.7" r="1.55"/><circle cx="540.4" cy="179.8" r="1.55"/><circle cx="579.2" cy="187.2" r="1.55"/><circle cx="554.1" cy="172.5" r="1.55"/><circle cx="514.3" cy="173.7" r="1.55"/><circle cx="593.2" cy="181.6" r="1.55"/><circle cx="573.6" cy="178.4" r="1.55"/><circle cx="543.8" cy="173.9" r="1.55"/><circle cx="568.6" cy="184.4" r="1.55"/><circle cx="587.1" cy="184.3" r="1.55"/><circle cx="547.9" cy="185.3" r="1.55"/><circle cx="544.4" cy="179.5" r="1.55"/><circle cx="543.5" cy="185.3" r="1.55"/><circle cx="542.1" cy="178.1" r="1.55"/><circle cx="545.7" cy="185.2" r="1.55"/><circle cx="531.1" cy="177.2" r="1.55"/><circle cx="544.9" cy="172.4" r="1.55"/><circle cx="600.3" cy="171.6" r="1.55"/><circle cx="542.1" cy="181.1" r="1.55"/><circle cx="525.8" cy="176.6" r="1.55"/><circle cx="549.9" cy="176.3" r="1.55"/><circle cx="582.7" cy="170.3" r="1.55"/><circle cx="573.0" cy="189.0" r="1.55"/><circle cx="539.2" cy="174.2" r="1.55"/><circle cx="516.9" cy="171.5" r="1.55"/><circle cx="589.6" cy="184.2" r="1.55"/><circle cx="568.7" cy="177.3" r="1.55"/><circle cx="514.5" cy="171.8" r="1.55"/><circle cx="548.3" cy="173.4" r="1.55"/><circle cx="585.9" cy="185.2" r="1.55"/><circle cx="576.3" cy="173.4" r="1.55"/><circle cx="561.2" cy="179.6" r="1.55"/><circle cx="559.7" cy="186.9" r="1.55"/><circle cx="578.4" cy="183.4" r="1.55"/><circle cx="514.0" cy="173.1" r="1.55"/><circle cx="509.1" cy="173.5" r="1.55"/><circle cx="551.4" cy="180.9" r="1.55"/><circle cx="565.0" cy="176.4" r="1.55"/><circle cx="588.1" cy="177.6" r="1.55"/><circle cx="587.0" cy="183.9" r="1.55"/><circle cx="576.0" cy="179.6" r="1.55"/><circle cx="560.2" cy="174.5" r="1.55"/><circle cx="553.9" cy="175.8" r="1.55"/><circle cx="577.0" cy="172.2" r="1.55"/><circle cx="518.9" cy="174.4" r="1.55"/><circle cx="561.6" cy="183.7" r="1.55"/><circle cx="594.2" cy="178.8" r="1.55"/><circle cx="605.2" cy="174.6" r="1.55"/><circle cx="517.0" cy="173.6" r="1.55"/><circle cx="517.8" cy="178.1" r="1.55"/><circle cx="530.0" cy="185.3" r="1.55"/><circle cx="551.2" cy="180.7" r="1.55"/><circle cx="554.5" cy="178.6" r="1.55"/><circle cx="553.2" cy="186.2" r="1.55"/><circle cx="580.8" cy="177.5" r="1.55"/><circle cx="565.2" cy="173.1" r="1.55"/><circle cx="542.8" cy="170.4" r="1.55"/><circle cx="543.8" cy="177.1" r="1.55"/><circle cx="594.6" cy="178.8" r="1.55"/><circle cx="523.0" cy="172.1" r="1.55"/><circle cx="589.4" cy="171.6" r="1.55"/><circle cx="524.4" cy="177.2" r="1.55"/><circle cx="536.7" cy="180.5" r="1.55"/><circle cx="542.4" cy="181.0" r="1.55"/><circle cx="589.7" cy="175.9" r="1.55"/><circle cx="605.3" cy="173.7" r="1.55"/><circle cx="590.9" cy="172.5" r="1.55"/><circle cx="536.7" cy="180.3" r="1.55"/><circle cx="535.6" cy="179.7" r="1.55"/><circle cx="592.5" cy="171.3" r="1.55"/><circle cx="540.8" cy="175.1" r="1.55"/><circle cx="510.8" cy="170.8" r="1.55"/><circle cx="548.5" cy="182.8" r="1.55"/><circle cx="547.2" cy="183.3" r="1.55"/><circle cx="535.4" cy="170.0" r="1.55"/><circle cx="576.8" cy="177.7" r="1.55"/><circle cx="533.2" cy="170.9" r="1.55"/><circle cx="536.0" cy="176.8" r="1.55"/><circle cx="516.4" cy="170.3" r="1.55"/><circle cx="555.9" cy="170.1" r="1.55"/><circle cx="598.9" cy="178.3" r="1.55"/><circle cx="551.9" cy="182.3" r="1.55"/><circle cx="588.8" cy="183.1" r="1.55"/><circle cx="585.1" cy="181.8" r="1.55"/><circle cx="576.8" cy="180.8" r="1.55"/><circle cx="561.6" cy="183.6" r="1.55"/><circle cx="560.7" cy="189.4" r="1.55"/><circle cx="596.7" cy="170.9" r="1.55"/><circle cx="585.2" cy="184.5" r="1.55"/><circle cx="568.6" cy="191.6" r="1.55"/><circle cx="587.9" cy="176.3" r="1.55"/><circle cx="583.0" cy="171.1" r="1.55"/><circle cx="540.5" cy="172.1" r="1.55"/><circle cx="533.5" cy="185.9" r="1.55"/><circle cx="515.9" cy="177.7" r="1.55"/><circle cx="548.3" cy="181.0" r="1.55"/><circle cx="551.0" cy="184.0" r="1.55"/><circle cx="528.7" cy="175.5" r="1.55"/><circle cx="553.7" cy="185.2" r="1.55"/><circle cx="569.5" cy="178.1" r="1.55"/><circle cx="594.8" cy="170.6" r="1.55"/><circle cx="529.6" cy="175.5" r="1.55"/><circle cx="532.4" cy="172.1" r="1.55"/><circle cx="581.4" cy="181.0" r="1.55"/><circle cx="559.0" cy="176.2" r="1.55"/><circle cx="560.7" cy="185.6" r="1.55"/><circle cx="539.0" cy="185.1" r="1.55"/><circle cx="526.8" cy="175.1" r="1.55"/><circle cx="565.2" cy="171.4" r="1.55"/><circle cx="594.5" cy="170.7" r="1.55"/><circle cx="556.7" cy="191.2" r="1.55"/><circle cx="577.0" cy="185.7" r="1.55"/><circle cx="578.9" cy="178.5" r="1.55"/><circle cx="573.1" cy="171.2" r="1.55"/><circle cx="590.7" cy="180.8" r="1.55"/><circle cx="526.2" cy="180.5" r="1.55"/><circle cx="577.5" cy="182.9" r="1.55"/><circle cx="515.7" cy="169.7" r="1.55"/><circle cx="547.0" cy="175.5" r="1.55"/><circle cx="528.5" cy="175.0" r="1.55"/><circle cx="548.9" cy="186.4" r="1.55"/><circle cx="569.8" cy="187.3" r="1.55"/><circle cx="570.3" cy="178.2" r="1.55"/><circle cx="540.6" cy="171.3" r="1.55"/><circle cx="575.7" cy="170.9" r="1.55"/><circle cx="576.1" cy="184.3" r="1.55"/><circle cx="553.6" cy="170.0" r="1.55"/><circle cx="570.3" cy="185.1" r="1.55"/><circle cx="543.2" cy="169.7" r="1.55"/><circle cx="546.6" cy="176.2" r="1.55"/><circle cx="578.6" cy="172.0" r="1.55"/><circle cx="537.0" cy="179.2" r="1.55"/><circle cx="549.7" cy="189.0" r="1.55"/><circle cx="525.1" cy="182.4" r="1.55"/><circle cx="528.4" cy="169.9" r="1.55"/><circle cx="535.5" cy="181.4" r="1.55"/><circle cx="560.6" cy="176.0" r="1.55"/><circle cx="561.8" cy="171.2" r="1.55"/><circle cx="541.7" cy="176.5" r="1.55"/><circle cx="579.7" cy="184.0" r="1.55"/><circle cx="510.0" cy="172.8" r="1.55"/><circle cx="571.4" cy="184.2" r="1.55"/><circle cx="559.1" cy="176.1" r="1.55"/><circle cx="532.0" cy="174.9" r="1.55"/><circle cx="536.7" cy="184.3" r="1.55"/><circle cx="538.5" cy="185.7" r="1.55"/><circle cx="512.2" cy="172.0" r="1.55"/><circle cx="472.0" cy="178.5" r="1.55"/><circle cx="481.0" cy="181.0" r="1.55"/><circle cx="497.0" cy="184.5" r="1.55"/><circle cx="502.0" cy="186.5" r="1.55"/><circle cx="506.0" cy="188.0" r="1.55"/><circle cx="500.0" cy="175.0" r="1.55"/><circle cx="505.0" cy="179.0" r="1.55"/><circle cx="616.0" cy="172.0" r="1.55"/><circle cx="634.2" cy="170.9" r="1.55"/><circle cx="611.0" cy="174.0" r="1.55"/><circle cx="605.0" cy="178.5" r="1.55"/></g>
<polygon points="500.9,168.0 501.4,162.1 504.4,156.5 508.7,152.5 513.0,149.3 516.4,146.1 520.7,142.9 524.1,141.3 528.4,142.5 532.7,142.9 537.9,143.7 543.1,144.5 546.5,148.5 548.2,154.1 549.1,168.0" fill="#8a8a8a"/>
<polygon points="564.9,168.0 564.9,156.2 567.0,150.6 570.5,147.4 575.6,145.4 582.5,145.0 588.5,146.6 592.0,150.6 593.7,157.0 595.4,168.0" fill="#8a8a8a"/>
<g fill="#7f7f7f"><circle cx="537.2" cy="154.8" r="1.6"/><circle cx="500.4" cy="165.6" r="1.6"/><circle cx="542.8" cy="153.9" r="1.6"/><circle cx="526.5" cy="166.8" r="1.6"/><circle cx="535.0" cy="142.5" r="1.6"/><circle cx="536.3" cy="148.9" r="1.6"/><circle cx="540.2" cy="156.4" r="1.6"/><circle cx="520.2" cy="154.8" r="1.6"/><circle cx="512.4" cy="147.6" r="1.6"/><circle cx="516.6" cy="162.1" r="1.6"/><circle cx="551.0" cy="161.5" r="1.6"/><circle cx="531.3" cy="157.7" r="1.6"/><circle cx="524.6" cy="151.6" r="1.6"/><circle cx="517.6" cy="167.5" r="1.6"/><circle cx="514.6" cy="163.8" r="1.6"/><circle cx="531.1" cy="165.2" r="1.6"/><circle cx="510.0" cy="159.6" r="1.6"/><circle cx="543.7" cy="160.8" r="1.6"/><circle cx="551.2" cy="166.5" r="1.6"/><circle cx="548.7" cy="155.2" r="1.6"/><circle cx="546.3" cy="149.6" r="1.6"/><circle cx="508.4" cy="152.0" r="1.6"/><circle cx="533.8" cy="141.9" r="1.6"/><circle cx="542.2" cy="146.9" r="1.6"/><circle cx="510.7" cy="150.8" r="1.6"/><circle cx="527.0" cy="160.4" r="1.6"/><circle cx="550.1" cy="159.8" r="1.6"/><circle cx="524.0" cy="147.4" r="1.6"/><circle cx="528.0" cy="141.7" r="1.6"/><circle cx="503.8" cy="167.1" r="1.6"/><circle cx="544.6" cy="165.4" r="1.6"/><circle cx="518.8" cy="168.5" r="1.6"/><circle cx="506.5" cy="160.8" r="1.6"/><circle cx="501.7" cy="163.1" r="1.6"/><circle cx="530.9" cy="153.3" r="1.6"/><circle cx="504.5" cy="156.8" r="1.6"/><circle cx="541.8" cy="163.8" r="1.6"/><circle cx="498.6" cy="165.0" r="1.6"/><circle cx="542.3" cy="153.7" r="1.6"/><circle cx="548.1" cy="164.0" r="1.6"/><circle cx="543.4" cy="163.2" r="1.6"/><circle cx="500.2" cy="161.9" r="1.6"/><circle cx="521.1" cy="165.0" r="1.6"/><circle cx="551.3" cy="161.7" r="1.6"/><circle cx="546.4" cy="166.7" r="1.6"/><circle cx="512.2" cy="157.5" r="1.6"/><circle cx="500.6" cy="159.3" r="1.6"/><circle cx="525.3" cy="143.4" r="1.6"/><circle cx="542.8" cy="161.2" r="1.6"/><circle cx="544.8" cy="152.7" r="1.6"/><circle cx="521.7" cy="140.7" r="1.6"/><circle cx="528.9" cy="151.2" r="1.6"/><circle cx="504.7" cy="163.8" r="1.6"/><circle cx="531.2" cy="165.0" r="1.6"/><circle cx="544.0" cy="156.5" r="1.6"/><circle cx="533.2" cy="158.0" r="1.6"/><circle cx="521.2" cy="164.3" r="1.6"/><circle cx="549.8" cy="156.7" r="1.6"/><circle cx="528.3" cy="151.3" r="1.6"/><circle cx="498.6" cy="163.2" r="1.6"/><circle cx="529.3" cy="146.4" r="1.6"/><circle cx="531.4" cy="166.4" r="1.6"/><circle cx="538.8" cy="147.4" r="1.6"/><circle cx="531.0" cy="147.7" r="1.6"/><circle cx="539.5" cy="146.7" r="1.6"/><circle cx="545.7" cy="159.4" r="1.6"/><circle cx="546.9" cy="149.4" r="1.6"/><circle cx="550.4" cy="156.5" r="1.6"/><circle cx="511.4" cy="158.4" r="1.6"/><circle cx="540.5" cy="143.3" r="1.6"/><circle cx="512.3" cy="149.9" r="1.6"/><circle cx="543.4" cy="164.0" r="1.6"/><circle cx="551.9" cy="157.1" r="1.6"/><circle cx="531.9" cy="156.5" r="1.6"/><circle cx="515.1" cy="150.4" r="1.6"/><circle cx="528.9" cy="146.4" r="1.6"/><circle cx="533.0" cy="164.9" r="1.6"/><circle cx="517.5" cy="152.0" r="1.6"/><circle cx="544.4" cy="155.4" r="1.6"/><circle cx="526.0" cy="157.2" r="1.6"/><circle cx="528.0" cy="159.3" r="1.6"/><circle cx="528.2" cy="155.6" r="1.6"/><circle cx="521.6" cy="165.6" r="1.6"/><circle cx="529.2" cy="154.6" r="1.6"/><circle cx="522.4" cy="144.3" r="1.6"/><circle cx="506.6" cy="158.3" r="1.6"/><circle cx="530.6" cy="157.7" r="1.6"/><circle cx="523.9" cy="157.4" r="1.6"/><circle cx="513.6" cy="152.9" r="1.6"/><circle cx="535.6" cy="145.5" r="1.6"/><circle cx="529.8" cy="168.2" r="1.6"/><circle cx="531.5" cy="155.5" r="1.6"/><circle cx="540.0" cy="147.7" r="1.6"/><circle cx="517.9" cy="152.0" r="1.6"/><circle cx="538.1" cy="160.6" r="1.6"/><circle cx="507.4" cy="167.6" r="1.6"/><circle cx="537.2" cy="157.5" r="1.6"/><circle cx="540.8" cy="152.1" r="1.6"/><circle cx="538.6" cy="157.1" r="1.6"/><circle cx="532.5" cy="155.5" r="1.6"/><circle cx="534.4" cy="155.8" r="1.6"/><circle cx="502.1" cy="159.2" r="1.6"/><circle cx="521.0" cy="168.1" r="1.6"/><circle cx="523.9" cy="144.0" r="1.6"/><circle cx="525.6" cy="149.7" r="1.6"/><circle cx="506.3" cy="165.7" r="1.6"/><circle cx="506.9" cy="160.4" r="1.6"/><circle cx="506.5" cy="154.5" r="1.6"/><circle cx="502.0" cy="164.8" r="1.6"/><circle cx="497.3" cy="168.3" r="1.6"/><circle cx="522.1" cy="158.1" r="1.6"/><circle cx="521.7" cy="165.1" r="1.6"/><circle cx="523.4" cy="155.6" r="1.6"/><circle cx="541.4" cy="157.0" r="1.6"/><circle cx="515.1" cy="167.6" r="1.6"/><circle cx="530.5" cy="147.1" r="1.6"/><circle cx="527.7" cy="165.0" r="1.6"/><circle cx="524.3" cy="147.6" r="1.6"/><circle cx="521.5" cy="151.7" r="1.6"/><circle cx="530.7" cy="147.1" r="1.6"/><circle cx="531.7" cy="153.2" r="1.6"/><circle cx="541.6" cy="163.1" r="1.6"/><circle cx="510.3" cy="168.3" r="1.6"/><circle cx="527.6" cy="149.0" r="1.6"/><circle cx="511.3" cy="160.4" r="1.6"/><circle cx="521.5" cy="159.5" r="1.6"/><circle cx="511.3" cy="164.8" r="1.6"/><circle cx="511.8" cy="165.1" r="1.6"/><circle cx="521.6" cy="151.0" r="1.6"/><circle cx="529.3" cy="154.7" r="1.6"/><circle cx="527.7" cy="155.8" r="1.6"/><circle cx="550.2" cy="161.3" r="1.6"/><circle cx="542.8" cy="147.3" r="1.6"/><circle cx="524.7" cy="164.3" r="1.6"/><circle cx="514.6" cy="153.7" r="1.6"/><circle cx="551.2" cy="158.4" r="1.6"/><circle cx="544.9" cy="156.7" r="1.6"/><circle cx="548.0" cy="159.2" r="1.6"/><circle cx="510.4" cy="150.2" r="1.6"/><circle cx="503.2" cy="166.7" r="1.6"/><circle cx="524.0" cy="145.0" r="1.6"/><circle cx="524.5" cy="163.2" r="1.6"/><circle cx="512.3" cy="156.6" r="1.6"/><circle cx="507.5" cy="154.2" r="1.6"/><circle cx="509.7" cy="159.7" r="1.6"/><circle cx="529.8" cy="161.5" r="1.6"/><circle cx="525.5" cy="144.3" r="1.6"/><circle cx="527.4" cy="144.9" r="1.6"/><circle cx="511.7" cy="162.0" r="1.6"/><circle cx="522.0" cy="143.4" r="1.6"/><circle cx="521.9" cy="155.1" r="1.6"/><circle cx="536.4" cy="164.1" r="1.6"/><circle cx="541.0" cy="146.4" r="1.6"/><circle cx="525.4" cy="144.5" r="1.6"/><circle cx="528.4" cy="147.5" r="1.6"/><circle cx="549.8" cy="152.0" r="1.6"/><circle cx="549.9" cy="152.6" r="1.6"/><circle cx="540.0" cy="153.8" r="1.6"/><circle cx="519.4" cy="142.7" r="1.6"/><circle cx="548.6" cy="159.6" r="1.6"/><circle cx="514.7" cy="154.8" r="1.6"/><circle cx="517.0" cy="150.7" r="1.6"/><circle cx="524.0" cy="154.4" r="1.6"/><circle cx="505.2" cy="161.0" r="1.6"/><circle cx="530.5" cy="151.9" r="1.6"/><circle cx="535.3" cy="151.8" r="1.6"/><circle cx="540.9" cy="155.5" r="1.6"/><circle cx="550.1" cy="153.4" r="1.6"/><circle cx="538.4" cy="143.7" r="1.6"/><circle cx="547.8" cy="167.9" r="1.6"/><circle cx="538.1" cy="158.9" r="1.6"/><circle cx="510.1" cy="162.4" r="1.6"/><circle cx="540.0" cy="146.0" r="1.6"/><circle cx="541.8" cy="157.1" r="1.6"/><circle cx="526.4" cy="144.5" r="1.6"/><circle cx="526.4" cy="156.9" r="1.6"/><circle cx="522.8" cy="158.1" r="1.6"/><circle cx="528.6" cy="158.4" r="1.6"/><circle cx="520.0" cy="164.3" r="1.6"/><circle cx="526.8" cy="165.4" r="1.6"/><circle cx="552.2" cy="163.8" r="1.6"/><circle cx="540.2" cy="159.7" r="1.6"/><circle cx="527.9" cy="146.4" r="1.6"/><circle cx="531.3" cy="155.5" r="1.6"/><circle cx="531.0" cy="151.9" r="1.6"/><circle cx="536.0" cy="165.6" r="1.6"/><circle cx="521.0" cy="158.0" r="1.6"/><circle cx="539.3" cy="162.0" r="1.6"/><circle cx="542.3" cy="160.8" r="1.6"/><circle cx="522.0" cy="158.5" r="1.6"/><circle cx="514.6" cy="163.9" r="1.6"/><circle cx="520.4" cy="155.7" r="1.6"/><circle cx="526.1" cy="149.9" r="1.6"/><circle cx="523.7" cy="167.5" r="1.6"/><circle cx="504.7" cy="166.1" r="1.6"/><circle cx="551.5" cy="162.7" r="1.6"/><circle cx="513.7" cy="167.2" r="1.6"/><circle cx="534.7" cy="163.7" r="1.6"/><circle cx="543.7" cy="144.3" r="1.6"/><circle cx="524.8" cy="163.5" r="1.6"/><circle cx="513.2" cy="159.0" r="1.6"/><circle cx="529.8" cy="160.4" r="1.6"/><circle cx="520.5" cy="167.1" r="1.6"/><circle cx="537.5" cy="156.1" r="1.6"/><circle cx="527.9" cy="157.0" r="1.6"/><circle cx="550.5" cy="159.4" r="1.6"/><circle cx="499.6" cy="167.3" r="1.6"/><circle cx="523.2" cy="145.2" r="1.6"/><circle cx="539.7" cy="157.8" r="1.6"/><circle cx="544.9" cy="155.5" r="1.6"/><circle cx="511.3" cy="153.1" r="1.6"/><circle cx="516.7" cy="156.4" r="1.6"/><circle cx="526.4" cy="161.1" r="1.6"/><circle cx="519.5" cy="166.1" r="1.6"/><circle cx="531.1" cy="158.8" r="1.6"/><circle cx="513.0" cy="166.0" r="1.6"/><circle cx="516.5" cy="164.4" r="1.6"/><circle cx="510.7" cy="167.6" r="1.6"/><circle cx="535.3" cy="144.4" r="1.6"/><circle cx="518.2" cy="149.0" r="1.6"/><circle cx="502.2" cy="162.9" r="1.6"/><circle cx="516.8" cy="160.4" r="1.6"/><circle cx="521.0" cy="168.2" r="1.6"/><circle cx="546.3" cy="160.2" r="1.6"/><circle cx="544.1" cy="166.4" r="1.6"/><circle cx="549.1" cy="151.4" r="1.6"/><circle cx="515.4" cy="157.7" r="1.6"/><circle cx="524.2" cy="164.3" r="1.6"/><circle cx="532.4" cy="143.4" r="1.6"/><circle cx="510.2" cy="157.5" r="1.6"/><circle cx="520.2" cy="167.7" r="1.6"/><circle cx="522.1" cy="147.2" r="1.6"/><circle cx="514.4" cy="167.7" r="1.6"/><circle cx="516.5" cy="146.3" r="1.6"/><circle cx="534.5" cy="167.2" r="1.6"/><circle cx="537.5" cy="153.9" r="1.6"/><circle cx="535.7" cy="159.2" r="1.6"/><circle cx="526.4" cy="161.7" r="1.6"/><circle cx="513.6" cy="162.5" r="1.6"/><circle cx="525.3" cy="154.7" r="1.6"/><circle cx="543.0" cy="150.7" r="1.6"/><circle cx="521.2" cy="155.2" r="1.6"/><circle cx="549.4" cy="167.2" r="1.6"/><circle cx="538.0" cy="157.0" r="1.6"/><circle cx="523.7" cy="144.2" r="1.6"/><circle cx="533.0" cy="152.3" r="1.6"/><circle cx="539.7" cy="153.4" r="1.6"/><circle cx="513.0" cy="162.4" r="1.6"/><circle cx="526.2" cy="147.7" r="1.6"/><circle cx="550.9" cy="165.4" r="1.6"/><circle cx="527.5" cy="167.2" r="1.6"/><circle cx="527.2" cy="159.4" r="1.6"/><circle cx="531.2" cy="151.3" r="1.6"/><circle cx="533.6" cy="149.3" r="1.6"/><circle cx="533.7" cy="145.2" r="1.6"/><circle cx="521.0" cy="154.8" r="1.6"/><circle cx="537.1" cy="144.0" r="1.6"/><circle cx="538.1" cy="162.1" r="1.6"/><circle cx="519.2" cy="161.6" r="1.6"/><circle cx="512.2" cy="155.7" r="1.6"/><circle cx="538.0" cy="164.8" r="1.6"/><circle cx="525.4" cy="159.8" r="1.6"/><circle cx="501.4" cy="158.8" r="1.6"/><circle cx="531.5" cy="153.7" r="1.6"/><circle cx="525.6" cy="151.4" r="1.6"/><circle cx="541.5" cy="154.5" r="1.6"/><circle cx="543.5" cy="158.5" r="1.6"/><circle cx="507.1" cy="167.6" r="1.6"/><circle cx="507.2" cy="154.2" r="1.6"/><circle cx="534.3" cy="146.5" r="1.6"/><circle cx="550.3" cy="151.7" r="1.6"/><circle cx="548.9" cy="158.5" r="1.6"/><circle cx="523.1" cy="161.4" r="1.6"/><circle cx="538.5" cy="148.2" r="1.6"/><circle cx="500.9" cy="161.0" r="1.6"/><circle cx="530.6" cy="142.5" r="1.6"/><circle cx="506.8" cy="162.9" r="1.6"/><circle cx="531.8" cy="158.1" r="1.6"/><circle cx="520.1" cy="164.6" r="1.6"/><circle cx="532.3" cy="145.9" r="1.6"/><circle cx="501.6" cy="164.1" r="1.6"/><circle cx="544.2" cy="160.0" r="1.6"/><circle cx="508.6" cy="161.5" r="1.6"/><circle cx="514.9" cy="167.7" r="1.6"/><circle cx="538.1" cy="161.9" r="1.6"/><circle cx="544.8" cy="168.1" r="1.6"/><circle cx="547.9" cy="156.0" r="1.6"/><circle cx="501.8" cy="161.2" r="1.6"/><circle cx="543.6" cy="161.8" r="1.6"/><circle cx="525.2" cy="168.3" r="1.6"/><circle cx="522.9" cy="152.4" r="1.6"/><circle cx="532.7" cy="162.6" r="1.6"/><circle cx="529.9" cy="167.2" r="1.6"/><circle cx="512.2" cy="165.9" r="1.6"/><circle cx="546.2" cy="149.4" r="1.6"/><circle cx="531.7" cy="167.8" r="1.6"/><circle cx="528.3" cy="160.7" r="1.6"/><circle cx="539.5" cy="144.1" r="1.6"/><circle cx="521.6" cy="145.5" r="1.6"/><circle cx="512.4" cy="149.9" r="1.6"/><circle cx="527.9" cy="148.6" r="1.6"/><circle cx="500.1" cy="162.6" r="1.6"/><circle cx="543.8" cy="162.6" r="1.6"/><circle cx="522.9" cy="147.9" r="1.6"/><circle cx="530.9" cy="157.1" r="1.6"/><circle cx="527.4" cy="141.1" r="1.6"/><circle cx="526.3" cy="148.1" r="1.6"/><circle cx="524.1" cy="150.0" r="1.6"/><circle cx="529.8" cy="159.2" r="1.6"/><circle cx="512.5" cy="157.2" r="1.6"/><circle cx="511.5" cy="161.4" r="1.6"/><circle cx="508.4" cy="156.8" r="1.6"/><circle cx="538.2" cy="163.0" r="1.6"/><circle cx="526.7" cy="166.4" r="1.6"/><circle cx="552.2" cy="162.8" r="1.6"/><circle cx="517.1" cy="147.0" r="1.6"/><circle cx="548.6" cy="163.2" r="1.6"/><circle cx="526.8" cy="149.2" r="1.6"/><circle cx="503.2" cy="165.2" r="1.6"/><circle cx="540.4" cy="152.6" r="1.6"/><circle cx="523.5" cy="158.4" r="1.6"/><circle cx="501.8" cy="162.7" r="1.6"/><circle cx="549.8" cy="166.5" r="1.6"/><circle cx="526.7" cy="141.7" r="1.6"/><circle cx="525.4" cy="162.5" r="1.6"/><circle cx="532.5" cy="156.0" r="1.6"/><circle cx="513.2" cy="167.6" r="1.6"/><circle cx="502.8" cy="166.7" r="1.6"/><circle cx="509.3" cy="156.8" r="1.6"/><circle cx="529.8" cy="151.0" r="1.6"/><circle cx="536.0" cy="150.2" r="1.6"/><circle cx="530.6" cy="163.6" r="1.6"/><circle cx="516.8" cy="167.0" r="1.6"/><circle cx="531.8" cy="144.9" r="1.6"/><circle cx="525.5" cy="155.1" r="1.6"/><circle cx="508.9" cy="156.5" r="1.6"/><circle cx="514.4" cy="160.1" r="1.6"/><circle cx="532.2" cy="141.9" r="1.6"/><circle cx="522.5" cy="167.8" r="1.6"/><circle cx="527.6" cy="158.2" r="1.6"/><circle cx="530.8" cy="146.2" r="1.6"/><circle cx="545.6" cy="163.2" r="1.6"/><circle cx="530.6" cy="157.5" r="1.6"/><circle cx="532.1" cy="155.6" r="1.6"/><circle cx="529.5" cy="141.6" r="1.6"/><circle cx="551.1" cy="157.7" r="1.6"/><circle cx="517.2" cy="148.3" r="1.6"/><circle cx="524.0" cy="146.0" r="1.6"/><circle cx="548.8" cy="165.6" r="1.6"/><circle cx="525.0" cy="163.1" r="1.6"/><circle cx="516.8" cy="161.6" r="1.6"/><circle cx="540.6" cy="149.6" r="1.6"/><circle cx="538.5" cy="149.5" r="1.6"/><circle cx="503.4" cy="160.5" r="1.6"/><circle cx="511.1" cy="153.9" r="1.6"/><circle cx="542.3" cy="157.0" r="1.6"/><circle cx="547.9" cy="160.8" r="1.6"/><circle cx="535.8" cy="161.2" r="1.6"/><circle cx="535.7" cy="166.6" r="1.6"/><circle cx="530.3" cy="158.8" r="1.6"/><circle cx="527.8" cy="155.0" r="1.6"/><circle cx="525.1" cy="148.3" r="1.6"/><circle cx="537.0" cy="158.1" r="1.6"/><circle cx="531.7" cy="150.9" r="1.6"/><circle cx="535.1" cy="153.1" r="1.6"/><circle cx="503.2" cy="159.7" r="1.6"/><circle cx="502.1" cy="157.5" r="1.6"/><circle cx="531.3" cy="154.2" r="1.6"/><circle cx="545.8" cy="152.0" r="1.6"/><circle cx="542.5" cy="159.0" r="1.6"/><circle cx="510.0" cy="163.6" r="1.6"/><circle cx="524.2" cy="165.7" r="1.6"/><circle cx="537.5" cy="156.6" r="1.6"/><circle cx="547.0" cy="166.7" r="1.6"/><circle cx="502.1" cy="168.0" r="1.6"/><circle cx="513.3" cy="157.4" r="1.6"/><circle cx="539.2" cy="147.8" r="1.6"/><circle cx="514.2" cy="166.2" r="1.6"/><circle cx="541.3" cy="168.3" r="1.6"/><circle cx="502.3" cy="157.8" r="1.6"/><circle cx="550.6" cy="160.8" r="1.6"/><circle cx="529.0" cy="148.7" r="1.6"/><circle cx="535.4" cy="163.4" r="1.6"/><circle cx="526.9" cy="163.3" r="1.6"/><circle cx="498.3" cy="165.2" r="1.6"/><circle cx="538.2" cy="149.3" r="1.6"/><circle cx="524.5" cy="167.2" r="1.6"/><circle cx="532.8" cy="167.6" r="1.6"/><circle cx="522.8" cy="162.7" r="1.6"/><circle cx="528.6" cy="158.8" r="1.6"/><circle cx="529.8" cy="160.7" r="1.6"/><circle cx="514.6" cy="151.4" r="1.6"/><circle cx="501.1" cy="158.4" r="1.6"/><circle cx="532.5" cy="166.6" r="1.6"/><circle cx="544.4" cy="157.0" r="1.6"/><circle cx="531.4" cy="166.4" r="1.6"/><circle cx="521.5" cy="141.6" r="1.6"/><circle cx="509.6" cy="160.0" r="1.6"/><circle cx="512.0" cy="154.6" r="1.6"/><circle cx="500.2" cy="162.2" r="1.6"/><circle cx="522.2" cy="155.3" r="1.6"/><circle cx="533.6" cy="166.8" r="1.6"/><circle cx="515.8" cy="149.5" r="1.6"/><circle cx="508.7" cy="161.1" r="1.6"/><circle cx="520.6" cy="164.1" r="1.6"/><circle cx="521.5" cy="163.4" r="1.6"/><circle cx="523.4" cy="156.4" r="1.6"/><circle cx="511.3" cy="151.3" r="1.6"/><circle cx="515.9" cy="144.9" r="1.6"/><circle cx="543.7" cy="159.6" r="1.6"/><circle cx="525.5" cy="164.0" r="1.6"/><circle cx="543.7" cy="164.8" r="1.6"/><circle cx="515.9" cy="151.9" r="1.6"/><circle cx="504.2" cy="165.2" r="1.6"/><circle cx="506.8" cy="164.4" r="1.6"/><circle cx="538.2" cy="149.7" r="1.6"/><circle cx="551.7" cy="168.0" r="1.6"/><circle cx="532.6" cy="145.8" r="1.6"/><circle cx="524.2" cy="164.9" r="1.6"/><circle cx="510.6" cy="168.5" r="1.6"/><circle cx="508.6" cy="167.8" r="1.6"/><circle cx="541.6" cy="161.2" r="1.6"/><circle cx="549.5" cy="147.9" r="1.6"/><circle cx="527.2" cy="153.6" r="1.6"/><circle cx="526.5" cy="166.6" r="1.6"/><circle cx="543.8" cy="150.8" r="1.6"/><circle cx="551.2" cy="163.5" r="1.6"/><circle cx="540.3" cy="147.8" r="1.6"/><circle cx="528.2" cy="161.3" r="1.6"/><circle cx="511.3" cy="161.5" r="1.6"/><circle cx="501.4" cy="166.5" r="1.6"/><circle cx="527.5" cy="144.2" r="1.6"/><circle cx="546.4" cy="167.8" r="1.6"/><circle cx="516.9" cy="162.7" r="1.6"/><circle cx="537.3" cy="156.0" r="1.6"/><circle cx="518.7" cy="148.4" r="1.6"/><circle cx="542.7" cy="162.5" r="1.6"/><circle cx="528.9" cy="160.2" r="1.6"/><circle cx="547.0" cy="162.4" r="1.6"/><circle cx="536.9" cy="149.0" r="1.6"/><circle cx="521.5" cy="163.4" r="1.6"/><circle cx="502.2" cy="160.7" r="1.6"/><circle cx="522.9" cy="167.6" r="1.6"/><circle cx="532.4" cy="165.5" r="1.6"/><circle cx="513.4" cy="154.0" r="1.6"/><circle cx="548.0" cy="164.6" r="1.6"/><circle cx="551.6" cy="161.0" r="1.6"/><circle cx="524.4" cy="142.2" r="1.6"/><circle cx="527.1" cy="149.1" r="1.6"/><circle cx="550.1" cy="158.0" r="1.6"/><circle cx="535.5" cy="157.4" r="1.6"/><circle cx="524.7" cy="154.2" r="1.6"/><circle cx="520.0" cy="166.2" r="1.6"/><circle cx="541.5" cy="148.5" r="1.6"/><circle cx="515.6" cy="152.0" r="1.6"/><circle cx="513.6" cy="161.8" r="1.6"/><circle cx="537.0" cy="149.3" r="1.6"/><circle cx="537.8" cy="149.6" r="1.6"/><circle cx="528.4" cy="157.3" r="1.6"/><circle cx="523.0" cy="140.1" r="1.6"/><circle cx="531.8" cy="146.0" r="1.6"/><circle cx="532.0" cy="165.5" r="1.6"/><circle cx="540.2" cy="156.7" r="1.6"/><circle cx="546.0" cy="164.5" r="1.6"/><circle cx="512.0" cy="150.4" r="1.6"/><circle cx="549.8" cy="158.2" r="1.6"/><circle cx="532.3" cy="149.3" r="1.6"/><circle cx="509.9" cy="158.0" r="1.6"/><circle cx="533.7" cy="157.9" r="1.6"/><circle cx="517.7" cy="166.4" r="1.6"/><circle cx="523.2" cy="163.0" r="1.6"/><circle cx="541.7" cy="147.8" r="1.6"/><circle cx="537.9" cy="157.0" r="1.6"/><circle cx="517.2" cy="168.5" r="1.6"/><circle cx="518.0" cy="147.4" r="1.6"/><circle cx="536.0" cy="153.5" r="1.6"/><circle cx="531.9" cy="150.7" r="1.6"/><circle cx="540.8" cy="159.1" r="1.6"/><circle cx="538.5" cy="145.2" r="1.6"/><circle cx="523.6" cy="145.5" r="1.6"/><circle cx="550.2" cy="168.5" r="1.6"/><circle cx="508.3" cy="165.4" r="1.6"/><circle cx="533.3" cy="167.9" r="1.6"/><circle cx="548.8" cy="164.3" r="1.6"/><circle cx="514.8" cy="161.0" r="1.6"/><circle cx="549.5" cy="166.0" r="1.6"/><circle cx="551.4" cy="161.9" r="1.6"/><circle cx="541.1" cy="160.1" r="1.6"/><circle cx="520.7" cy="156.2" r="1.6"/><circle cx="549.1" cy="156.2" r="1.6"/><circle cx="545.8" cy="160.3" r="1.6"/><circle cx="524.0" cy="167.0" r="1.6"/><circle cx="539.3" cy="145.7" r="1.6"/><circle cx="549.5" cy="152.0" r="1.6"/><circle cx="533.8" cy="162.9" r="1.6"/><circle cx="533.4" cy="166.3" r="1.6"/><circle cx="519.5" cy="162.8" r="1.6"/><circle cx="545.9" cy="154.9" r="1.6"/><circle cx="538.4" cy="163.5" r="1.6"/><circle cx="526.1" cy="159.4" r="1.6"/><circle cx="544.8" cy="164.0" r="1.6"/><circle cx="536.6" cy="163.5" r="1.6"/><circle cx="507.6" cy="164.5" r="1.6"/><circle cx="533.8" cy="157.7" r="1.6"/><circle cx="506.0" cy="166.2" r="1.6"/><circle cx="509.1" cy="164.0" r="1.6"/><circle cx="536.2" cy="155.5" r="1.6"/><circle cx="548.3" cy="152.3" r="1.6"/><circle cx="520.1" cy="146.0" r="1.6"/><circle cx="544.4" cy="148.6" r="1.6"/><circle cx="537.5" cy="167.5" r="1.6"/><circle cx="515.0" cy="156.7" r="1.6"/><circle cx="520.2" cy="141.0" r="1.6"/><circle cx="524.6" cy="163.1" r="1.6"/><circle cx="509.9" cy="163.5" r="1.6"/><circle cx="518.2" cy="150.6" r="1.6"/><circle cx="544.4" cy="164.8" r="1.6"/><circle cx="510.4" cy="161.3" r="1.6"/><circle cx="517.0" cy="162.0" r="1.6"/><circle cx="533.9" cy="141.1" r="1.6"/><circle cx="520.7" cy="152.8" r="1.6"/><circle cx="528.1" cy="159.7" r="1.6"/><circle cx="519.5" cy="154.6" r="1.6"/><circle cx="543.3" cy="159.4" r="1.6"/><circle cx="512.2" cy="167.5" r="1.6"/><circle cx="518.7" cy="165.4" r="1.6"/><circle cx="551.0" cy="160.0" r="1.6"/><circle cx="517.7" cy="161.4" r="1.6"/><circle cx="525.1" cy="167.6" r="1.6"/><circle cx="525.1" cy="158.1" r="1.6"/><circle cx="535.3" cy="157.9" r="1.6"/><circle cx="568.8" cy="157.8" r="1.6"/><circle cx="577.7" cy="160.7" r="1.6"/><circle cx="571.6" cy="168.0" r="1.6"/><circle cx="579.9" cy="154.7" r="1.6"/><circle cx="596.7" cy="163.3" r="1.6"/><circle cx="565.5" cy="153.4" r="1.6"/><circle cx="579.5" cy="168.4" r="1.6"/><circle cx="586.6" cy="156.4" r="1.6"/><circle cx="577.0" cy="155.8" r="1.6"/><circle cx="577.0" cy="160.6" r="1.6"/><circle cx="583.5" cy="144.3" r="1.6"/><circle cx="571.4" cy="158.1" r="1.6"/><circle cx="578.9" cy="162.8" r="1.6"/><circle cx="596.7" cy="162.3" r="1.6"/><circle cx="580.5" cy="145.9" r="1.6"/><circle cx="569.5" cy="152.9" r="1.6"/><circle cx="583.2" cy="149.9" r="1.6"/><circle cx="593.1" cy="157.2" r="1.6"/><circle cx="579.0" cy="151.4" r="1.6"/><circle cx="582.9" cy="159.9" r="1.6"/><circle cx="583.5" cy="167.4" r="1.6"/><circle cx="578.1" cy="152.6" r="1.6"/><circle cx="589.1" cy="157.4" r="1.6"/><circle cx="572.0" cy="167.0" r="1.6"/><circle cx="581.6" cy="166.7" r="1.6"/><circle cx="592.8" cy="164.2" r="1.6"/><circle cx="584.2" cy="156.3" r="1.6"/><circle cx="592.1" cy="157.4" r="1.6"/><circle cx="581.8" cy="158.4" r="1.6"/><circle cx="577.3" cy="166.6" r="1.6"/><circle cx="592.1" cy="147.6" r="1.6"/><circle cx="586.5" cy="152.4" r="1.6"/><circle cx="588.9" cy="154.0" r="1.6"/><circle cx="587.1" cy="156.1" r="1.6"/><circle cx="584.9" cy="166.9" r="1.6"/><circle cx="594.1" cy="155.5" r="1.6"/><circle cx="576.2" cy="161.6" r="1.6"/><circle cx="586.2" cy="145.5" r="1.6"/><circle cx="572.4" cy="159.8" r="1.6"/><circle cx="572.5" cy="157.7" r="1.6"/><circle cx="593.1" cy="159.7" r="1.6"/><circle cx="585.5" cy="162.8" r="1.6"/><circle cx="576.4" cy="154.1" r="1.6"/><circle cx="585.6" cy="148.4" r="1.6"/><circle cx="589.2" cy="166.9" r="1.6"/><circle cx="567.1" cy="159.0" r="1.6"/><circle cx="574.8" cy="147.7" r="1.6"/><circle cx="581.5" cy="157.0" r="1.6"/><circle cx="580.7" cy="159.0" r="1.6"/><circle cx="590.1" cy="161.7" r="1.6"/><circle cx="587.6" cy="164.5" r="1.6"/><circle cx="579.2" cy="159.6" r="1.6"/><circle cx="578.6" cy="160.7" r="1.6"/><circle cx="570.8" cy="167.9" r="1.6"/><circle cx="572.8" cy="155.8" r="1.6"/><circle cx="579.1" cy="168.2" r="1.6"/><circle cx="568.0" cy="149.5" r="1.6"/><circle cx="575.4" cy="151.9" r="1.6"/><circle cx="567.2" cy="166.8" r="1.6"/><circle cx="578.2" cy="158.0" r="1.6"/><circle cx="571.2" cy="167.3" r="1.6"/><circle cx="566.3" cy="161.1" r="1.6"/><circle cx="564.8" cy="156.8" r="1.6"/><circle cx="574.0" cy="167.7" r="1.6"/><circle cx="578.1" cy="164.8" r="1.6"/><circle cx="575.4" cy="156.7" r="1.6"/><circle cx="576.1" cy="150.9" r="1.6"/><circle cx="579.3" cy="155.2" r="1.6"/><circle cx="569.0" cy="156.5" r="1.6"/><circle cx="583.0" cy="157.9" r="1.6"/><circle cx="588.8" cy="154.8" r="1.6"/><circle cx="570.1" cy="167.5" r="1.6"/><circle cx="577.2" cy="148.5" r="1.6"/><circle cx="593.1" cy="150.9" r="1.6"/><circle cx="567.2" cy="157.1" r="1.6"/><circle cx="588.4" cy="165.2" r="1.6"/><circle cx="578.8" cy="160.3" r="1.6"/><circle cx="575.8" cy="167.6" r="1.6"/><circle cx="580.1" cy="165.6" r="1.6"/><circle cx="564.9" cy="153.1" r="1.6"/><circle cx="592.2" cy="155.9" r="1.6"/><circle cx="593.0" cy="162.8" r="1.6"/><circle cx="577.2" cy="161.4" r="1.6"/><circle cx="580.8" cy="145.9" r="1.6"/><circle cx="592.5" cy="166.2" r="1.6"/><circle cx="570.8" cy="163.2" r="1.6"/><circle cx="580.4" cy="153.0" r="1.6"/><circle cx="582.0" cy="154.3" r="1.6"/><circle cx="589.4" cy="160.1" r="1.6"/><circle cx="574.1" cy="154.0" r="1.6"/><circle cx="580.4" cy="162.9" r="1.6"/><circle cx="573.0" cy="156.5" r="1.6"/><circle cx="583.6" cy="158.3" r="1.6"/><circle cx="566.3" cy="149.2" r="1.6"/><circle cx="588.7" cy="152.2" r="1.6"/><circle cx="570.6" cy="157.8" r="1.6"/><circle cx="581.4" cy="163.6" r="1.6"/><circle cx="573.5" cy="166.4" r="1.6"/><circle cx="584.9" cy="160.9" r="1.6"/><circle cx="582.9" cy="148.5" r="1.6"/><circle cx="582.5" cy="167.5" r="1.6"/><circle cx="573.4" cy="149.6" r="1.6"/><circle cx="589.9" cy="159.9" r="1.6"/><circle cx="567.3" cy="161.3" r="1.6"/><circle cx="563.2" cy="158.6" r="1.6"/><circle cx="582.0" cy="156.2" r="1.6"/><circle cx="576.9" cy="157.7" r="1.6"/><circle cx="594.9" cy="158.5" r="1.6"/><circle cx="589.0" cy="155.1" r="1.6"/><circle cx="593.9" cy="163.0" r="1.6"/><circle cx="580.6" cy="150.8" r="1.6"/><circle cx="573.2" cy="168.5" r="1.6"/><circle cx="585.2" cy="144.8" r="1.6"/><circle cx="577.7" cy="158.6" r="1.6"/><circle cx="572.6" cy="166.5" r="1.6"/><circle cx="579.6" cy="164.5" r="1.6"/><circle cx="571.7" cy="166.1" r="1.6"/><circle cx="581.9" cy="157.2" r="1.6"/><circle cx="577.9" cy="167.5" r="1.6"/><circle cx="582.5" cy="156.9" r="1.6"/><circle cx="575.4" cy="154.9" r="1.6"/><circle cx="572.1" cy="154.6" r="1.6"/><circle cx="563.5" cy="160.3" r="1.6"/><circle cx="565.9" cy="166.5" r="1.6"/><circle cx="573.8" cy="150.1" r="1.6"/><circle cx="582.0" cy="150.6" r="1.6"/><circle cx="588.2" cy="150.9" r="1.6"/><circle cx="564.5" cy="165.9" r="1.6"/><circle cx="586.9" cy="149.8" r="1.6"/><circle cx="585.3" cy="152.4" r="1.6"/><circle cx="580.5" cy="150.1" r="1.6"/><circle cx="581.7" cy="159.9" r="1.6"/><circle cx="592.5" cy="149.7" r="1.6"/><circle cx="582.6" cy="165.7" r="1.6"/><circle cx="579.5" cy="165.5" r="1.6"/><circle cx="576.9" cy="168.2" r="1.6"/><circle cx="583.1" cy="156.8" r="1.6"/><circle cx="590.1" cy="158.7" r="1.6"/><circle cx="580.9" cy="160.1" r="1.6"/><circle cx="571.8" cy="152.8" r="1.6"/><circle cx="562.8" cy="161.7" r="1.6"/><circle cx="591.7" cy="162.1" r="1.6"/><circle cx="566.3" cy="151.4" r="1.6"/><circle cx="566.3" cy="165.8" r="1.6"/><circle cx="588.5" cy="160.0" r="1.6"/><circle cx="593.0" cy="156.9" r="1.6"/><circle cx="562.9" cy="166.6" r="1.6"/><circle cx="594.0" cy="161.7" r="1.6"/><circle cx="562.6" cy="167.4" r="1.6"/><circle cx="571.9" cy="159.9" r="1.6"/><circle cx="589.6" cy="157.5" r="1.6"/><circle cx="566.6" cy="149.4" r="1.6"/><circle cx="566.9" cy="152.8" r="1.6"/><circle cx="567.9" cy="159.9" r="1.6"/><circle cx="574.9" cy="163.5" r="1.6"/><circle cx="575.5" cy="164.6" r="1.6"/><circle cx="591.8" cy="147.6" r="1.6"/><circle cx="578.3" cy="146.2" r="1.6"/><circle cx="574.6" cy="158.9" r="1.6"/><circle cx="564.6" cy="167.7" r="1.6"/><circle cx="567.1" cy="160.2" r="1.6"/><circle cx="579.1" cy="155.3" r="1.6"/><circle cx="570.3" cy="146.9" r="1.6"/><circle cx="583.9" cy="162.4" r="1.6"/><circle cx="588.7" cy="153.4" r="1.6"/><circle cx="582.0" cy="150.9" r="1.6"/><circle cx="585.8" cy="154.2" r="1.6"/><circle cx="590.3" cy="150.6" r="1.6"/><circle cx="577.6" cy="152.9" r="1.6"/><circle cx="592.0" cy="152.3" r="1.6"/><circle cx="571.2" cy="158.9" r="1.6"/><circle cx="567.1" cy="160.7" r="1.6"/><circle cx="571.5" cy="163.0" r="1.6"/><circle cx="574.7" cy="156.4" r="1.6"/><circle cx="572.4" cy="153.7" r="1.6"/><circle cx="577.6" cy="166.6" r="1.6"/><circle cx="578.5" cy="164.1" r="1.6"/><circle cx="581.5" cy="152.1" r="1.6"/><circle cx="588.1" cy="160.0" r="1.6"/><circle cx="565.8" cy="165.1" r="1.6"/><circle cx="588.1" cy="161.5" r="1.6"/><circle cx="579.3" cy="162.5" r="1.6"/><circle cx="564.1" cy="160.4" r="1.6"/><circle cx="593.2" cy="153.6" r="1.6"/><circle cx="588.8" cy="161.1" r="1.6"/><circle cx="580.3" cy="163.0" r="1.6"/><circle cx="579.7" cy="146.1" r="1.6"/><circle cx="589.2" cy="147.3" r="1.6"/><circle cx="587.3" cy="157.9" r="1.6"/><circle cx="588.0" cy="161.1" r="1.6"/><circle cx="586.9" cy="166.8" r="1.6"/><circle cx="581.1" cy="153.5" r="1.6"/><circle cx="595.1" cy="159.2" r="1.6"/><circle cx="579.3" cy="157.3" r="1.6"/><circle cx="579.1" cy="158.1" r="1.6"/><circle cx="564.7" cy="152.3" r="1.6"/><circle cx="595.8" cy="165.6" r="1.6"/><circle cx="576.9" cy="151.6" r="1.6"/><circle cx="575.6" cy="165.9" r="1.6"/><circle cx="594.8" cy="167.8" r="1.6"/><circle cx="592.9" cy="160.7" r="1.6"/><circle cx="566.6" cy="167.5" r="1.6"/><circle cx="568.4" cy="162.2" r="1.6"/><circle cx="575.2" cy="144.0" r="1.6"/><circle cx="571.5" cy="166.1" r="1.6"/><circle cx="568.9" cy="160.4" r="1.6"/><circle cx="573.5" cy="163.1" r="1.6"/><circle cx="589.9" cy="167.3" r="1.6"/><circle cx="573.9" cy="148.4" r="1.6"/><circle cx="573.6" cy="150.6" r="1.6"/><circle cx="578.9" cy="167.4" r="1.6"/><circle cx="588.6" cy="154.2" r="1.6"/><circle cx="569.2" cy="159.5" r="1.6"/><circle cx="589.8" cy="161.8" r="1.6"/><circle cx="580.5" cy="161.8" r="1.6"/><circle cx="574.3" cy="167.7" r="1.6"/><circle cx="588.8" cy="163.8" r="1.6"/><circle cx="581.7" cy="166.9" r="1.6"/><circle cx="579.2" cy="167.7" r="1.6"/><circle cx="578.2" cy="167.7" r="1.6"/><circle cx="573.8" cy="156.4" r="1.6"/><circle cx="582.4" cy="157.3" r="1.6"/><circle cx="592.4" cy="165.0" r="1.6"/><circle cx="569.0" cy="161.4" r="1.6"/><circle cx="581.2" cy="153.5" r="1.6"/><circle cx="566.6" cy="166.6" r="1.6"/><circle cx="575.5" cy="153.7" r="1.6"/><circle cx="570.8" cy="154.7" r="1.6"/><circle cx="575.4" cy="155.6" r="1.6"/><circle cx="568.8" cy="162.4" r="1.6"/><circle cx="595.6" cy="159.3" r="1.6"/><circle cx="591.4" cy="157.0" r="1.6"/><circle cx="581.0" cy="161.0" r="1.6"/><circle cx="575.5" cy="145.0" r="1.6"/><circle cx="591.5" cy="160.5" r="1.6"/><circle cx="563.9" cy="164.5" r="1.6"/><circle cx="573.2" cy="149.0" r="1.6"/><circle cx="584.3" cy="161.5" r="1.6"/><circle cx="593.9" cy="156.2" r="1.6"/><circle cx="592.7" cy="152.3" r="1.6"/><circle cx="590.4" cy="147.7" r="1.6"/><circle cx="564.0" cy="155.6" r="1.6"/><circle cx="582.6" cy="150.9" r="1.6"/><circle cx="585.0" cy="156.1" r="1.6"/><circle cx="580.2" cy="159.5" r="1.6"/><circle cx="587.7" cy="166.2" r="1.6"/><circle cx="597.2" cy="168.0" r="1.6"/><circle cx="586.7" cy="163.8" r="1.6"/><circle cx="569.4" cy="148.1" r="1.6"/><circle cx="578.0" cy="143.5" r="1.6"/><circle cx="567.3" cy="150.1" r="1.6"/><circle cx="569.2" cy="164.5" r="1.6"/><circle cx="572.0" cy="163.6" r="1.6"/><circle cx="576.0" cy="157.6" r="1.6"/><circle cx="586.8" cy="161.7" r="1.6"/><circle cx="569.9" cy="160.4" r="1.6"/><circle cx="568.4" cy="149.4" r="1.6"/><circle cx="567.9" cy="153.8" r="1.6"/><circle cx="566.5" cy="158.1" r="1.6"/><circle cx="568.7" cy="152.4" r="1.6"/><circle cx="566.3" cy="159.1" r="1.6"/><circle cx="588.8" cy="160.0" r="1.6"/><circle cx="572.9" cy="151.2" r="1.6"/><circle cx="572.3" cy="157.2" r="1.6"/><circle cx="584.7" cy="150.3" r="1.6"/><circle cx="565.0" cy="165.3" r="1.6"/><circle cx="584.9" cy="148.7" r="1.6"/><circle cx="581.2" cy="157.9" r="1.6"/><circle cx="581.9" cy="146.4" r="1.6"/><circle cx="563.5" cy="160.7" r="1.6"/><circle cx="592.1" cy="159.6" r="1.6"/><circle cx="592.0" cy="165.0" r="1.6"/><circle cx="572.1" cy="167.1" r="1.6"/><circle cx="574.0" cy="148.4" r="1.6"/><circle cx="570.0" cy="156.0" r="1.6"/><circle cx="564.1" cy="168.1" r="1.6"/><circle cx="570.0" cy="160.7" r="1.6"/><circle cx="575.0" cy="166.9" r="1.6"/><circle cx="582.4" cy="155.9" r="1.6"/><circle cx="589.5" cy="157.6" r="1.6"/><circle cx="578.5" cy="147.5" r="1.6"/><circle cx="584.8" cy="155.1" r="1.6"/><circle cx="584.9" cy="149.7" r="1.6"/><circle cx="585.4" cy="161.7" r="1.6"/><circle cx="572.1" cy="163.1" r="1.6"/><circle cx="593.1" cy="154.9" r="1.6"/><circle cx="582.6" cy="160.0" r="1.6"/><circle cx="569.0" cy="156.7" r="1.6"/><circle cx="585.1" cy="165.3" r="1.6"/><circle cx="568.3" cy="149.7" r="1.6"/><circle cx="579.2" cy="156.5" r="1.6"/><circle cx="568.7" cy="160.2" r="1.6"/><circle cx="582.5" cy="168.0" r="1.6"/><circle cx="565.6" cy="156.6" r="1.6"/><circle cx="572.1" cy="150.2" r="1.6"/><circle cx="565.2" cy="161.0" r="1.6"/><circle cx="585.8" cy="150.1" r="1.6"/><circle cx="582.1" cy="161.1" r="1.6"/><circle cx="571.2" cy="167.5" r="1.6"/><circle cx="588.0" cy="156.2" r="1.6"/><circle cx="566.5" cy="154.3" r="1.6"/><circle cx="574.6" cy="168.2" r="1.6"/><circle cx="568.3" cy="153.8" r="1.6"/><circle cx="581.4" cy="144.2" r="1.6"/><circle cx="573.1" cy="151.6" r="1.6"/><circle cx="587.1" cy="152.2" r="1.6"/><circle cx="590.5" cy="150.8" r="1.6"/><circle cx="572.1" cy="165.0" r="1.6"/><circle cx="565.0" cy="164.7" r="1.6"/><circle cx="572.7" cy="164.7" r="1.6"/><circle cx="579.4" cy="147.6" r="1.6"/><circle cx="570.0" cy="147.7" r="1.6"/><circle cx="570.1" cy="160.3" r="1.6"/><circle cx="586.2" cy="160.6" r="1.6"/><circle cx="563.5" cy="166.5" r="1.6"/><circle cx="573.6" cy="152.7" r="1.6"/><circle cx="590.6" cy="157.1" r="1.6"/><circle cx="584.7" cy="144.5" r="1.6"/><circle cx="567.8" cy="164.4" r="1.6"/><circle cx="590.0" cy="159.9" r="1.6"/><circle cx="585.4" cy="168.4" r="1.6"/><circle cx="591.9" cy="161.6" r="1.6"/><circle cx="564.0" cy="158.5" r="1.6"/><circle cx="568.2" cy="152.4" r="1.6"/><circle cx="574.9" cy="150.0" r="1.6"/><circle cx="587.2" cy="147.3" r="1.6"/><circle cx="599.5" cy="155.1" r="1.6"/><circle cx="603.4" cy="163.9" r="1.6"/><circle cx="601.7" cy="163.8" r="1.6"/><circle cx="598.7" cy="160.5" r="1.6"/><circle cx="602.2" cy="161.7" r="1.6"/><circle cx="597.8" cy="166.1" r="1.6"/><circle cx="596.5" cy="166.8" r="1.6"/><circle cx="597.7" cy="156.9" r="1.6"/><circle cx="600.3" cy="161.8" r="1.6"/><circle cx="597.9" cy="152.5" r="1.6"/><circle cx="595.7" cy="153.1" r="1.6"/><circle cx="600.3" cy="157.9" r="1.6"/><circle cx="600.2" cy="165.4" r="1.6"/><circle cx="596.1" cy="152.6" r="1.6"/><circle cx="596.7" cy="159.6" r="1.6"/><circle cx="596.4" cy="154.3" r="1.6"/><circle cx="594.4" cy="150.3" r="1.6"/><circle cx="596.7" cy="158.5" r="1.6"/><circle cx="598.9" cy="162.7" r="1.6"/><circle cx="600.4" cy="162.7" r="1.6"/><circle cx="596.6" cy="158.4" r="1.6"/><circle cx="599.4" cy="154.5" r="1.6"/><circle cx="536.4" cy="99.5" r="1.6"/><circle cx="519.4" cy="105.0" r="1.6"/><circle cx="519.4" cy="111.5" r="1.6"/><circle cx="489.6" cy="119.5" r="1.6"/><circle cx="489.6" cy="124.6" r="1.6"/><circle cx="516.6" cy="121.0" r="1.6"/><circle cx="520.3" cy="121.4" r="1.6"/><circle cx="523.8" cy="119.6" r="1.6"/><circle cx="532.3" cy="120.2" r="1.6"/><circle cx="541.3" cy="123.3" r="1.6"/><circle cx="540.0" cy="126.9" r="1.6"/><circle cx="522.0" cy="129.1" r="1.6"/><circle cx="490.4" cy="133.1" r="1.6"/><circle cx="494.0" cy="131.6" r="1.6"/><circle cx="497.2" cy="133.5" r="1.6"/><circle cx="501.3" cy="133.4" r="1.6"/><circle cx="483.4" cy="137.0" r="1.6"/><circle cx="488.5" cy="138.6" r="1.6"/><circle cx="471.2" cy="142.3" r="1.6"/><circle cx="495.8" cy="141.1" r="1.6"/><circle cx="488.2" cy="144.3" r="1.6"/><circle cx="494.0" cy="145.5" r="1.6"/><circle cx="500.6" cy="145.8" r="1.6"/><circle cx="505.7" cy="146.4" r="1.6"/><circle cx="510.4" cy="136.7" r="1.6"/><circle cx="512.3" cy="135.8" r="1.6"/><circle cx="522.8" cy="134.1" r="1.6"/><circle cx="531.1" cy="135.5" r="1.6"/><circle cx="535.2" cy="137.7" r="1.6"/><circle cx="537.1" cy="131.6" r="1.6"/><circle cx="537.7" cy="133.8" r="1.6"/><circle cx="541.3" cy="133.4" r="1.6"/><circle cx="512.3" cy="145.5" r="1.6"/><circle cx="476.3" cy="160.6" r="1.6"/><circle cx="493.0" cy="152.0" r="1.6"/><circle cx="495.0" cy="158.0" r="1.6"/><circle cx="502.0" cy="150.0" r="1.6"/><circle cx="525.0" cy="136.0" r="1.6"/><circle cx="528.0" cy="133.0" r="1.6"/><circle cx="544.0" cy="138.0" r="1.6"/><circle cx="547.0" cy="140.0" r="1.6"/><circle cx="549.0" cy="144.0" r="1.6"/><circle cx="553.0" cy="150.0" r="1.6"/><circle cx="554.0" cy="158.0" r="1.6"/><circle cx="518.0" cy="138.0" r="1.6"/><circle cx="507.0" cy="142.0" r="1.6"/><circle cx="527.0" cy="126.0" r="1.6"/><circle cx="514.0" cy="140.0" r="1.6"/><circle cx="587.4" cy="118.2" r="1.6"/><circle cx="584.9" cy="124.1" r="1.6"/><circle cx="586.1" cy="126.0" r="1.6"/><circle cx="601.4" cy="126.0" r="1.6"/><circle cx="603.2" cy="124.5" r="1.6"/><circle cx="602.9" cy="132.8" r="1.6"/><circle cx="576.2" cy="130.2" r="1.6"/><circle cx="578.4" cy="131.4" r="1.6"/><circle cx="571.8" cy="135.0" r="1.6"/><circle cx="574.0" cy="133.9" r="1.6"/><circle cx="587.1" cy="135.0" r="1.6"/><circle cx="589.3" cy="133.6" r="1.6"/><circle cx="576.2" cy="139.1" r="1.6"/><circle cx="579.1" cy="138.2" r="1.6"/><circle cx="582.7" cy="136.8" r="1.6"/><circle cx="584.2" cy="139.1" r="1.6"/><circle cx="590.5" cy="137.2" r="1.6"/><circle cx="590.8" cy="139.4" r="1.6"/><circle cx="596.6" cy="138.2" r="1.6"/><circle cx="567.4" cy="142.3" r="1.6"/><circle cx="568.9" cy="143.5" r="1.6"/><circle cx="606.8" cy="141.6" r="1.6"/><circle cx="583.5" cy="143.1" r="1.6"/><circle cx="588.9" cy="143.8" r="1.6"/><circle cx="593.7" cy="144.5" r="1.6"/><circle cx="596.6" cy="144.5" r="1.6"/><circle cx="602.4" cy="143.8" r="1.6"/><circle cx="603.9" cy="144.5" r="1.6"/><circle cx="605.4" cy="148.2" r="1.6"/><circle cx="610.5" cy="146.4" r="1.6"/><circle cx="610.8" cy="147.4" r="1.6"/><circle cx="598.1" cy="148.9" r="1.6"/><circle cx="603.2" cy="152.3" r="1.6"/><circle cx="611.2" cy="156.9" r="1.6"/><circle cx="598.8" cy="158.4" r="1.6"/><circle cx="603.9" cy="158.4" r="1.6"/><circle cx="608.3" cy="159.9" r="1.6"/><circle cx="609.3" cy="162.8" r="1.6"/><circle cx="624.3" cy="154.7" r="1.6"/><circle cx="626.5" cy="152.8" r="1.6"/><circle cx="622.2" cy="162.0" r="1.6"/><circle cx="624.3" cy="163.1" r="1.6"/><circle cx="650.3" cy="155.5" r="1.6"/><circle cx="581.3" cy="40.0" r="1.6"/><circle cx="655.0" cy="60.7" r="1.6"/><circle cx="600.0" cy="163.0" r="1.6"/><circle cx="605.0" cy="166.0" r="1.6"/><circle cx="601.0" cy="153.0" r="1.6"/><circle cx="566.0" cy="146.0" r="1.6"/><circle cx="564.0" cy="148.0" r="1.6"/><circle cx="580.0" cy="141.0" r="1.6"/><circle cx="572.0" cy="140.0" r="1.6"/></g>
<line x1="452.60" y1="169.20" x2="683.90" y2="169.20" stroke="#7a7a7a" stroke-width="1.0" stroke-dasharray="1.6,2.0"/>
<circle cx="510.40" cy="158.60" r="2.6" fill="#f0141e" stroke="none" stroke-width="1"/>
<circle cx="535.90" cy="159.00" r="2.6" fill="#f0141e" stroke="none" stroke-width="1"/>
<circle cx="517.20" cy="169.10" r="2.6" fill="#f0141e" stroke="none" stroke-width="1"/>
<circle cx="543.70" cy="175.00" r="2.6" fill="#f0141e" stroke="none" stroke-width="1"/>
<circle cx="549.60" cy="177.00" r="2.6" fill="#f0141e" stroke="none" stroke-width="1"/>
<text x="496.3" y="155.3" font-size="8.0" text-anchor="start" fill="#f0141e" font-weight="bold" stroke="#f0141e" stroke-width="0.3">HEYL</text>
<text x="540.3" y="158.2" font-size="8.0" text-anchor="start" fill="#f0141e" font-weight="bold" stroke="#f0141e" stroke-width="0.3">LCK</text>
<text x="521.3" y="168.6" font-size="8.0" text-anchor="start" fill="#f0141e" font-weight="bold" stroke="#f0141e" stroke-width="0.3">NOTCH3</text>
<text x="523.6" y="185.6" font-size="8.0" text-anchor="start" fill="#f0141e" font-weight="bold" stroke="#f0141e" stroke-width="0.3">DLL3</text>
<text x="554.8" y="179.4" font-size="8.0" text-anchor="start" fill="#f0141e" font-weight="bold" stroke="#f0141e" stroke-width="0.3">PSEN1</text>
<text x="471.8" y="176.8" font-size="6.9" text-anchor="start" fill="#1a1a1a" font-style="italic">FDR &lt; 0.05</text>
<text x="1.0" y="140.5" font-size="24" text-anchor="start" fill="#000" stroke="#000" stroke-width="0.45">c.</text>
<rect x="52.50" y="117.20" width="47.30" height="4.50" fill="#d6d6d6" stroke="#bdbdbd" stroke-width="0.4"/>
<text x="76.15" y="120.65" font-size="3.9" text-anchor="middle" fill="#1a1a1a" font-weight="bold" textLength="18.3" lengthAdjust="spacingAndGlyphs">primary - 54c</text>
<rect x="52.50" y="121.70" width="47.30" height="86.40" fill="#fff" stroke="#d3d3d3" stroke-width="1.0"/>
<line x1="53.00" y1="206.00" x2="99.30" y2="206.00" stroke="#f3f3f3" stroke-width="0.5"/>
<line x1="53.00" y1="196.85" x2="99.30" y2="196.85" stroke="#fafafa" stroke-width="0.5"/>
<line x1="53.00" y1="187.70" x2="99.30" y2="187.70" stroke="#f3f3f3" stroke-width="0.5"/>
<line x1="53.00" y1="178.55" x2="99.30" y2="178.55" stroke="#fafafa" stroke-width="0.5"/>
<line x1="53.00" y1="169.40" x2="99.30" y2="169.40" stroke="#f3f3f3" stroke-width="0.5"/>
<line x1="53.00" y1="160.25" x2="99.30" y2="160.25" stroke="#fafafa" stroke-width="0.5"/>
<line x1="53.00" y1="151.10" x2="99.30" y2="151.10" stroke="#f3f3f3" stroke-width="0.5"/>
<line x1="53.00" y1="141.95" x2="99.30" y2="141.95" stroke="#fafafa" stroke-width="0.5"/>
<line x1="53.00" y1="132.80" x2="99.30" y2="132.80" stroke="#f3f3f3" stroke-width="0.5"/>
<line x1="55.10" y1="122.20" x2="55.10" y2="207.60" stroke="#f6f6f6" stroke-width="0.5"/>
<line x1="65.62" y1="122.20" x2="65.62" y2="207.60" stroke="#f6f6f6" stroke-width="0.5"/>
<line x1="76.15" y1="122.20" x2="76.15" y2="207.60" stroke="#f6f6f6" stroke-width="0.5"/>
<line x1="86.68" y1="122.20" x2="86.68" y2="207.60" stroke="#f6f6f6" stroke-width="0.5"/>
<line x1="97.20" y1="122.20" x2="97.20" y2="207.60" stroke="#f6f6f6" stroke-width="0.5"/>
<polyline points="55.10,126.40 76.15,134.10 97.20,134.30" fill="none" stroke="#2a2a2a" stroke-width="0.6"/>
<circle cx="55.10" cy="126.40" r="1.45" fill="#000" stroke="none" stroke-width="1"/>
<line x1="76.15" y1="128.50" x2="76.15" y2="140.20" stroke="#333" stroke-width="0.5"/>
<circle cx="76.15" cy="134.10" r="1.45" fill="#000" stroke="none" stroke-width="1"/>
<line x1="97.20" y1="131.40" x2="97.20" y2="136.50" stroke="#333" stroke-width="0.5"/>
<circle cx="97.20" cy="134.30" r="1.45" fill="#000" stroke="none" stroke-width="1"/>
<text x="55.1" y="212.4" font-size="4.4" text-anchor="middle" fill="#777">0</text>
<text x="76.15" y="212.4" font-size="4.4" text-anchor="middle" fill="#777">1</text>
<text x="97.2" y="212.4" font-size="4.4" text-anchor="middle" fill="#777">2</text>
<rect x="101.00" y="117.20" width="47.70" height="4.50" fill="#d6d6d6" stroke="#bdbdbd" stroke-width="0.4"/>
<text x="124.85" y="120.65" font-size="3.9" text-anchor="middle" fill="#1a1a1a" font-weight="bold" textLength="18.3" lengthAdjust="spacingAndGlyphs">primary - 60c</text>
<rect x="101.00" y="121.70" width="47.70" height="86.40" fill="#fff" stroke="#d3d3d3" stroke-width="1.0"/>
<line x1="101.50" y1="206.00" x2="148.20" y2="206.00" stroke="#f3f3f3" stroke-width="0.5"/>
<line x1="101.50" y1="196.85" x2="148.20" y2="196.85" stroke="#fafafa" stroke-width="0.5"/>
<line x1="101.50" y1="187.70" x2="148.20" y2="187.70" stroke="#f3f3f3" stroke-width="0.5"/>
<line x1="101.50" y1="178.55" x2="148.20" y2="178.55" stroke="#fafafa" stroke-width="0.5"/>
<line x1="101.50" y1="169.40" x2="148.20" y2="169.40" stroke="#f3f3f3" stroke-width="0.5"/>
<line x1="101.50" y1="160.25" x2="148.20" y2="160.25" stroke="#fafafa" stroke-width="0.5"/>
<line x1="101.50" y1="151.10" x2="148.20" y2="151.10" stroke="#f3f3f3" stroke-width="0.5"/>
<line x1="101.50" y1="141.95" x2="148.20" y2="141.95" stroke="#fafafa" stroke-width="0.5"/>
<line x1="101.50" y1="132.80" x2="148.20" y2="132.80" stroke="#f3f3f3" stroke-width="0.5"/>
<line x1="103.60" y1="122.20" x2="103.60" y2="207.60" stroke="#f6f6f6" stroke-width="0.5"/>
<line x1="114.22" y1="122.20" x2="114.22" y2="207.60" stroke="#f6f6f6" stroke-width="0.5"/>
<line x1="124.85" y1="122.20" x2="124.85" y2="207.60" stroke="#f6f6f6" stroke-width="0.5"/>
<line x1="135.47" y1="122.20" x2="135.47" y2="207.60" stroke="#f6f6f6" stroke-width="0.5"/>
<line x1="146.10" y1="122.20" x2="146.10" y2="207.60" stroke="#f6f6f6" stroke-width="0.5"/>
<polyline points="103.60,135.30 124.85,134.30 146.10,137.30" fill="none" stroke="#2a2a2a" stroke-width="0.6"/>
<line x1="103.60" y1="131.80" x2="103.60" y2="139.00" stroke="#333" stroke-width="0.5"/>
<circle cx="103.60" cy="135.30" r="1.45" fill="#000" stroke="none" stroke-width="1"/>
<line x1="124.85" y1="129.40" x2="124.85" y2="139.80" stroke="#333" stroke-width="0.5"/>
<circle cx="124.85" cy="134.30" r="1.45" fill="#000" stroke="none" stroke-width="1"/>
<line x1="146.10" y1="132.30" x2="146.10" y2="141.80" stroke="#333" stroke-width="0.5"/>
<circle cx="146.10" cy="137.30" r="1.45" fill="#000" stroke="none" stroke-width="1"/>
<text x="103.6" y="212.4" font-size="4.4" text-anchor="middle" fill="#777">0</text>
<text x="124.85" y="212.4" font-size="4.4" text-anchor="middle" fill="#777">1</text>
<text x="146.1" y="212.4" font-size="4.4" text-anchor="middle" fill="#777">2</text>
<rect x="150.40" y="117.20" width="47.80" height="4.50" fill="#d6d6d6" stroke="#bdbdbd" stroke-width="0.4"/>
<text x="174.3" y="120.65" font-size="3.9" text-anchor="middle" fill="#1a1a1a" font-weight="bold" textLength="18.3" lengthAdjust="spacingAndGlyphs">primary - 74c</text>
<rect x="150.40" y="121.70" width="47.80" height="86.40" fill="#fff" stroke="#d3d3d3" stroke-width="1.0"/>
<line x1="150.90" y1="206.00" x2="197.70" y2="206.00" stroke="#f3f3f3" stroke-width="0.5"/>
<line x1="150.90" y1="196.85" x2="197.70" y2="196.85" stroke="#fafafa" stroke-width="0.5"/>
<line x1="150.90" y1="187.70" x2="197.70" y2="187.70" stroke="#f3f3f3" stroke-width="0.5"/>
<line x1="150.90" y1="178.55" x2="197.70" y2="178.55" stroke="#fafafa" stroke-width="0.5"/>
<line x1="150.90" y1="169.40" x2="197.70" y2="169.40" stroke="#f3f3f3" stroke-width="0.5"/>
<line x1="150.90" y1="160.25" x2="197.70" y2="160.25" stroke="#fafafa" stroke-width="0.5"/>
<line x1="150.90" y1="151.10" x2="197.70" y2="151.10" stroke="#f3f3f3" stroke-width="0.5"/>
<line x1="150.90" y1="141.95" x2="197.70" y2="141.95" stroke="#fafafa" stroke-width="0.5"/>
<line x1="150.90" y1="132.80" x2="197.70" y2="132.80" stroke="#f3f3f3" stroke-width="0.5"/>
<line x1="153.00" y1="122.20" x2="153.00" y2="207.60" stroke="#f6f6f6" stroke-width="0.5"/>
<line x1="163.65" y1="122.20" x2="163.65" y2="207.60" stroke="#f6f6f6" stroke-width="0.5"/>
<line x1="174.30" y1="122.20" x2="174.30" y2="207.60" stroke="#f6f6f6" stroke-width="0.5"/>
<line x1="184.95" y1="122.20" x2="184.95" y2="207.60" stroke="#f6f6f6" stroke-width="0.5"/>
<line x1="195.60" y1="122.20" x2="195.60" y2="207.60" stroke="#f6f6f6" stroke-width="0.5"/>
<polyline points="153.00,129.60 174.30,130.10 195.60,126.60" fill="none" stroke="#2a2a2a" stroke-width="0.6"/>
<circle cx="153.00" cy="129.60" r="1.45" fill="#000" stroke="none" stroke-width="1"/>
<line x1="174.30" y1="125.40" x2="174.30" y2="134.50" stroke="#333" stroke-width="0.5"/>
<circle cx="174.30" cy="130.10" r="1.45" fill="#000" stroke="none" stroke-width="1"/>
<circle cx="195.60" cy="126.60" r="1.45" fill="#000" stroke="none" stroke-width="1"/>
<text x="153.0" y="212.4" font-size="4.4" text-anchor="middle" fill="#777">0</text>
<text x="174.3" y="212.4" font-size="4.4" text-anchor="middle" fill="#777">1</text>
<text x="195.6" y="212.4" font-size="4.4" text-anchor="middle" fill="#777">2</text>
<rect x="199.70" y="117.20" width="47.50" height="4.50" fill="#d6d6d6" stroke="#bdbdbd" stroke-width="0.4"/>
<text x="223.45" y="120.65" font-size="3.9" text-anchor="middle" fill="#1a1a1a" font-weight="bold" textLength="14.5" lengthAdjust="spacingAndGlyphs">mets - 54c</text>
<rect x="199.70" y="121.70" width="47.50" height="86.40" fill="#fff" stroke="#d3d3d3" stroke-width="1.0"/>
<line x1="200.20" y1="206.00" x2="246.70" y2="206.00" stroke="#f3f3f3" stroke-width="0.5"/>
<line x1="200.20" y1="196.85" x2="246.70" y2="196.85" stroke="#fafafa" stroke-width="0.5"/>
<line x1="200.20" y1="187.70" x2="246.70" y2="187.70" stroke="#f3f3f3" stroke-width="0.5"/>
<line x1="200.20" y1="178.55" x2="246.70" y2="178.55" stroke="#fafafa" stroke-width="0.5"/>
<line x1="200.20" y1="169.40" x2="246.70" y2="169.40" stroke="#f3f3f3" stroke-width="0.5"/>
<line x1="200.20" y1="160.25" x2="246.70" y2="160.25" stroke="#fafafa" stroke-width="0.5"/>
<line x1="200.20" y1="151.10" x2="246.70" y2="151.10" stroke="#f3f3f3" stroke-width="0.5"/>
<line x1="200.20" y1="141.95" x2="246.70" y2="141.95" stroke="#fafafa" stroke-width="0.5"/>
<line x1="200.20" y1="132.80" x2="246.70" y2="132.80" stroke="#f3f3f3" stroke-width="0.5"/>
<line x1="202.30" y1="122.20" x2="202.30" y2="207.60" stroke="#f6f6f6" stroke-width="0.5"/>
<line x1="212.88" y1="122.20" x2="212.88" y2="207.60" stroke="#f6f6f6" stroke-width="0.5"/>
<line x1="223.45" y1="122.20" x2="223.45" y2="207.60" stroke="#f6f6f6" stroke-width="0.5"/>
<line x1="234.02" y1="122.20" x2="234.02" y2="207.60" stroke="#f6f6f6" stroke-width="0.5"/>
<line x1="244.60" y1="122.20" x2="244.60" y2="207.60" stroke="#f6f6f6" stroke-width="0.5"/>
<polyline points="202.30,128.40 223.45,150.60 244.60,177.80" fill="none" stroke="#2a2a2a" stroke-width="0.6"/>
<circle cx="202.30" cy="128.40" r="1.45" fill="#000" stroke="none" stroke-width="1"/>
<line x1="223.45" y1="135.40" x2="223.45" y2="165.70" stroke="#333" stroke-width="0.5"/>
<circle cx="223.45" cy="150.60" r="1.45" fill="#000" stroke="none" stroke-width="1"/>
<line x1="244.60" y1="157.00" x2="244.60" y2="198.50" stroke="#333" stroke-width="0.5"/>
<circle cx="244.60" cy="177.80" r="1.45" fill="#000" stroke="none" stroke-width="1"/>
<text x="202.29999999999998" y="212.4" font-size="4.4" text-anchor="middle" fill="#777">0</text>
<text x="223.45" y="212.4" font-size="4.4" text-anchor="middle" fill="#777">1</text>
<text x="244.6" y="212.4" font-size="4.4" text-anchor="middle" fill="#777">2</text>
<rect x="249.00" y="117.20" width="47.40" height="4.50" fill="#d6d6d6" stroke="#bdbdbd" stroke-width="0.4"/>
<text x="272.7" y="120.65" font-size="3.9" text-anchor="middle" fill="#1a1a1a" font-weight="bold" textLength="14.5" lengthAdjust="spacingAndGlyphs">mets - 60c</text>
<rect x="249.00" y="121.70" width="47.40" height="86.40" fill="#fff" stroke="#d3d3d3" stroke-width="1.0"/>
<line x1="249.50" y1="206.00" x2="295.90" y2="206.00" stroke="#f3f3f3" stroke-width="0.5"/>
<line x1="249.50" y1="196.85" x2="295.90" y2="196.85" stroke="#fafafa" stroke-width="0.5"/>
<line x1="249.50" y1="187.70" x2="295.90" y2="187.70" stroke="#f3f3f3" stroke-width="0.5"/>
<line x1="249.50" y1="178.55" x2="295.90" y2="178.55" stroke="#fafafa" stroke-width="0.5"/>
<line x1="249.50" y1="169.40" x2="295.90" y2="169.40" stroke="#f3f3f3" stroke-width="0.5"/>
<line x1="249.50" y1="160.25" x2="295.90" y2="160.25" stroke="#fafafa" stroke-width="0.5"/>
<line x1="249.50" y1="151.10" x2="295.90" y2="151.10" stroke="#f3f3f3" stroke-width="0.5"/>
<line x1="249.50" y1="141.95" x2="295.90" y2="141.95" stroke="#fafafa" stroke-width="0.5"/>
<line x1="249.50" y1="132.80" x2="295.90" y2="132.80" stroke="#f3f3f3" stroke-width="0.5"/>
<line x1="251.60" y1="122.20" x2="251.60" y2="207.60" stroke="#f6f6f6" stroke-width="0.5"/>
<line x1="262.15" y1="122.20" x2="262.15" y2="207.60" stroke="#f6f6f6" stroke-width="0.5"/>
<line x1="272.70" y1="122.20" x2="272.70" y2="207.60" stroke="#f6f6f6" stroke-width="0.5"/>
<line x1="283.25" y1="122.20" x2="283.25" y2="207.60" stroke="#f6f6f6" stroke-width="0.5"/>
<line x1="293.80" y1="122.20" x2="293.80" y2="207.60" stroke="#f6f6f6" stroke-width="0.5"/>
<polyline points="251.60,128.90 272.70,131.00 293.80,131.90" fill="none" stroke="#2a2a2a" stroke-width="0.6"/>
<circle cx="251.60" cy="128.90" r="1.45" fill="#000" stroke="none" stroke-width="1"/>
<circle cx="272.70" cy="131.00" r="1.45" fill="#000" stroke="none" stroke-width="1"/>
<line x1="293.80" y1="127.50" x2="293.80" y2="135.90" stroke="#333" stroke-width="0.5"/>
<circle cx="293.80" cy="131.90" r="1.45" fill="#000" stroke="none" stroke-width="1"/>
<text x="251.6" y="212.4" font-size="4.4" text-anchor="middle" fill="#777">0</text>
<text x="272.7" y="212.4" font-size="4.4" text-anchor="middle" fill="#777">1</text>
<text x="293.79999999999995" y="212.4" font-size="4.4" text-anchor="middle" fill="#777">2</text>
<rect x="297.80" y="117.20" width="47.70" height="4.50" fill="#d6d6d6" stroke="#bdbdbd" stroke-width="0.4"/>
<text x="321.65" y="120.65" font-size="3.9" text-anchor="middle" fill="#1a1a1a" font-weight="bold" textLength="14.5" lengthAdjust="spacingAndGlyphs">mets - 74c</text>
<rect x="297.80" y="121.70" width="47.70" height="86.40" fill="#fff" stroke="#d3d3d3" stroke-width="1.0"/>
<line x1="298.30" y1="206.00" x2="345.00" y2="206.00" stroke="#f3f3f3" stroke-width="0.5"/>
<line x1="298.30" y1="196.85" x2="345.00" y2="196.85" stroke="#fafafa" stroke-width="0.5"/>
<line x1="298.30" y1="187.70" x2="345.00" y2="187.70" stroke="#f3f3f3" stroke-width="0.5"/>
<line x1="298.30" y1="178.55" x2="345.00" y2="178.55" stroke="#fafafa" stroke-width="0.5"/>
<line x1="298.30" y1="169.40" x2="345.00" y2="169.40" stroke="#f3f3f3" stroke-width="0.5"/>
<line x1="298.30" y1="160.25" x2="345.00" y2="160.25" stroke="#fafafa" stroke-width="0.5"/>
<line x1="298.30" y1="151.10" x2="345.00" y2="151.10" stroke="#f3f3f3" stroke-width="0.5"/>
<line x1="298.30" y1="141.95" x2="345.00" y2="141.95" stroke="#fafafa" stroke-width="0.5"/>
<line x1="298.30" y1="132.80" x2="345.00" y2="132.80" stroke="#f3f3f3" stroke-width="0.5"/>
<line x1="300.40" y1="122.20" x2="300.40" y2="207.60" stroke="#f6f6f6" stroke-width="0.5"/>
<line x1="311.02" y1="122.20" x2="311.02" y2="207.60" stroke="#f6f6f6" stroke-width="0.5"/>
<line x1="321.65" y1="122.20" x2="321.65" y2="207.60" stroke="#f6f6f6" stroke-width="0.5"/>
<line x1="332.27" y1="122.20" x2="332.27" y2="207.60" stroke="#f6f6f6" stroke-width="0.5"/>
<line x1="342.90" y1="122.20" x2="342.90" y2="207.60" stroke="#f6f6f6" stroke-width="0.5"/>
<polyline points="300.40,126.60 321.65,192.90 342.90,195.00" fill="none" stroke="#2a2a2a" stroke-width="0.6"/>
<circle cx="300.40" cy="126.60" r="1.45" fill="#000" stroke="none" stroke-width="1"/>
<line x1="321.65" y1="183.20" x2="321.65" y2="202.90" stroke="#333" stroke-width="0.5"/>
<circle cx="321.65" cy="192.90" r="1.45" fill="#000" stroke="none" stroke-width="1"/>
<line x1="342.90" y1="185.00" x2="342.90" y2="204.60" stroke="#333" stroke-width="0.5"/>
<circle cx="342.90" cy="195.00" r="1.45" fill="#000" stroke="none" stroke-width="1"/>
<text x="300.40000000000003" y="212.4" font-size="4.4" text-anchor="middle" fill="#777">0</text>
<text x="321.65" y="212.4" font-size="4.4" text-anchor="middle" fill="#777">1</text>
<text x="342.9" y="212.4" font-size="4.4" text-anchor="middle" fill="#777">2</text>
<rect x="346.00" y="121.40" width="4.80" height="86.70" fill="#d6d6d6" stroke="#bdbdbd" stroke-width="0.4"/>
<text x="347.0" y="165.2" font-size="3.8" text-anchor="middle" fill="#222" font-weight="bold" transform="rotate(90 347.0 165.2)" textLength="40" lengthAdjust="spacingAndGlyphs">normalized intensity value</text>
<text x="50.6" y="207.5" font-size="4.4" text-anchor="end" fill="#777">2</text>
<line x1="51.30" y1="206.00" x2="52.50" y2="206.00" stroke="#888" stroke-width="0.4"/>
<text x="50.6" y="189.2" font-size="4.4" text-anchor="end" fill="#777">4</text>
<line x1="51.30" y1="187.70" x2="52.50" y2="187.70" stroke="#888" stroke-width="0.4"/>
<text x="50.6" y="170.9" font-size="4.4" text-anchor="end" fill="#777">6</text>
<line x1="51.30" y1="169.40" x2="52.50" y2="169.40" stroke="#888" stroke-width="0.4"/>
<text x="50.6" y="152.6" font-size="4.4" text-anchor="end" fill="#777">8</text>
<line x1="51.30" y1="151.10" x2="52.50" y2="151.10" stroke="#888" stroke-width="0.4"/>
<text x="50.6" y="134.3" font-size="4.4" text-anchor="end" fill="#777">10</text>
<line x1="51.30" y1="132.80" x2="52.50" y2="132.80" stroke="#888" stroke-width="0.4"/>
<text x="45.4" y="165.4" font-size="5.0" text-anchor="middle" fill="#1a1a1a" font-weight="bold" transform="rotate(-90 45.4 165.4)" textLength="19.2" lengthAdjust="spacingAndGlyphs">intensity</text>
<text x="199.1" y="217.6" font-size="5.6" text-anchor="middle" fill="#1a1a1a" font-weight="bold" textLength="55.2" lengthAdjust="spacingAndGlyphs">time point after infection</text>
<text x="0.2" y="260.1" font-size="24" text-anchor="start" fill="#000" stroke="#000" stroke-width="0.45">d.</text>
<rect x="76.90" y="280.50" width="267.50" height="360.90" fill="none" stroke="#555" stroke-width="1.0"/>
<line x1="70.20" y1="336.40" x2="76.90" y2="336.40" stroke="#555" stroke-width="1.0"/>
<text x="61.6" y="336.4" font-size="10.6" text-anchor="middle" fill="#222" transform="rotate(-90 61.6 336.4)">0.0</text>
<line x1="70.20" y1="417.20" x2="76.90" y2="417.20" stroke="#555" stroke-width="1.0"/>
<text x="61.6" y="417.2" font-size="10.6" text-anchor="middle" fill="#222" transform="rotate(-90 61.6 417.2)">−0.5</text>
<line x1="70.20" y1="498.20" x2="76.90" y2="498.20" stroke="#555" stroke-width="1.0"/>
<text x="61.6" y="498.2" font-size="10.6" text-anchor="middle" fill="#222" transform="rotate(-90 61.6 498.2)">−1.0</text>
<line x1="70.20" y1="579.30" x2="76.90" y2="579.30" stroke="#555" stroke-width="1.0"/>
<text x="61.6" y="579.3" font-size="10.6" text-anchor="middle" fill="#222" transform="rotate(-90 61.6 579.3)">−1.5</text>
<text x="36.2" y="461.0" font-size="10.7" text-anchor="middle" fill="#222" transform="rotate(-90 36.2 461.0)">NOTCH3 essentiality score</text>
<line x1="78.30" y1="641.40" x2="78.30" y2="648.40" stroke="#555" stroke-width="1.0"/>
<text x="78.3" y="665.1" font-size="10.6" text-anchor="middle" fill="#222">0</text>
<line x1="119.70" y1="641.40" x2="119.70" y2="648.40" stroke="#555" stroke-width="1.0"/>
<text x="119.69999999999999" y="665.1" font-size="10.6" text-anchor="middle" fill="#222">5</text>
<line x1="161.10" y1="641.40" x2="161.10" y2="648.40" stroke="#555" stroke-width="1.0"/>
<text x="161.1" y="665.1" font-size="10.6" text-anchor="middle" fill="#222">10</text>
<line x1="202.50" y1="641.40" x2="202.50" y2="648.40" stroke="#555" stroke-width="1.0"/>
<text x="202.5" y="665.1" font-size="10.6" text-anchor="middle" fill="#222">15</text>
<line x1="243.90" y1="641.40" x2="243.90" y2="648.40" stroke="#555" stroke-width="1.0"/>
<text x="243.89999999999998" y="665.1" font-size="10.6" text-anchor="middle" fill="#222">20</text>
<line x1="285.30" y1="641.40" x2="285.30" y2="648.40" stroke="#555" stroke-width="1.0"/>
<text x="285.3" y="665.1" font-size="10.6" text-anchor="middle" fill="#222">25</text>
<line x1="326.70" y1="641.40" x2="326.70" y2="648.40" stroke="#555" stroke-width="1.0"/>
<text x="326.7" y="665.1" font-size="10.6" text-anchor="middle" fill="#222">30</text>
<text x="210.3" y="691.3" font-size="10.6" text-anchor="middle" fill="#222">Index</text>
<ellipse cx="235.2" cy="379.1" rx="55.3" ry="84.4" transform="rotate(2.5 235.2 378.9)" fill="none" stroke="#0000ff" stroke-width="3.2"/>
<ellipse cx="137.4" cy="344.0" rx="43.3" ry="25.1" transform="rotate(36.4 137.2 343.7)" fill="none" stroke="#ff0000" stroke-width="3.2"/>
<ellipse cx="148.7" cy="448.4" rx="38.0" ry="26.9" fill="none" stroke="#ff0000" stroke-width="3.2"/>
<rect x="208.00" y="310.10" width="5.80" height="5.80" fill="#0000ff" stroke="none" stroke-width="1"/>
<rect x="224.10" y="327.70" width="5.80" height="5.80" fill="#0000ff" stroke="none" stroke-width="1"/>
<rect x="248.90" y="324.70" width="5.80" height="5.80" fill="#0000ff" stroke="none" stroke-width="1"/>
<rect x="265.70" y="320.20" width="5.80" height="5.80" fill="#0000ff" stroke="none" stroke-width="1"/>
<rect x="216.20" y="338.50" width="5.80" height="5.80" fill="#0000ff" stroke="none" stroke-width="1"/>
<rect x="240.90" y="340.20" width="5.80" height="5.80" fill="#0000ff" stroke="none" stroke-width="1"/>
<rect x="191.20" y="343.40" width="5.80" height="5.80" fill="#0000ff" stroke="none" stroke-width="1"/>
<rect x="282.30" y="343.00" width="5.80" height="5.80" fill="#0000ff" stroke="none" stroke-width="1"/>
<rect x="182.60" y="360.00" width="5.80" height="5.80" fill="#0000ff" stroke="none" stroke-width="1"/>
<rect x="257.50" y="372.50" width="5.80" height="5.80" fill="#0000ff" stroke="none" stroke-width="1"/>
<rect x="232.70" y="384.80" width="5.80" height="5.80" fill="#0000ff" stroke="none" stroke-width="1"/>
<rect x="274.10" y="411.20" width="5.80" height="5.80" fill="#0000ff" stroke="none" stroke-width="1"/>
<rect x="199.40" y="440.70" width="5.80" height="5.80" fill="#0000ff" stroke="none" stroke-width="1"/>
<rect x="108.60" y="314.30" width="5.80" height="5.80" fill="#ff0000" stroke="none" stroke-width="1"/>
<rect x="125.30" y="323.90" width="5.80" height="5.80" fill="#ff0000" stroke="none" stroke-width="1"/>
<rect x="100.70" y="335.80" width="5.80" height="5.80" fill="#ff0000" stroke="none" stroke-width="1"/>
<rect x="141.60" y="334.80" width="5.80" height="5.80" fill="#ff0000" stroke="none" stroke-width="1"/>
<rect x="150.30" y="334.10" width="5.80" height="5.80" fill="#ff0000" stroke="none" stroke-width="1"/>
<rect x="166.40" y="349.80" width="5.80" height="5.80" fill="#ff0000" stroke="none" stroke-width="1"/>
<rect x="133.20" y="425.90" width="5.80" height="5.80" fill="#ff0000" stroke="none" stroke-width="1"/>
<rect x="116.80" y="456.70" width="5.80" height="5.80" fill="#ff0000" stroke="none" stroke-width="1"/>
<rect x="158.10" y="444.50" width="5.80" height="5.80" fill="#ff0000" stroke="none" stroke-width="1"/>
<rect x="174.50" y="436.20" width="5.80" height="5.80" fill="#ff0000" stroke="none" stroke-width="1"/>
<rect x="298.80" y="306.00" width="5.80" height="5.80" fill="#00ee00" stroke="none" stroke-width="1"/>
<rect x="323.50" y="316.50" width="5.80" height="5.80" fill="#00ee00" stroke="none" stroke-width="1"/>
<rect x="315.40" y="328.10" width="5.80" height="5.80" fill="#00ee00" stroke="none" stroke-width="1"/>
<rect x="290.50" y="343.30" width="5.80" height="5.80" fill="#00ee00" stroke="none" stroke-width="1"/>
<rect x="306.80" y="360.00" width="5.80" height="5.80" fill="#00ee00" stroke="none" stroke-width="1"/>
<rect x="331.70" y="370.10" width="5.80" height="5.80" fill="#00ee00" stroke="none" stroke-width="1"/>
<rect x="92.00" y="329.60" width="5.80" height="5.80" fill="#000000" stroke="none" stroke-width="1"/>
<rect x="83.80" y="362.90" width="5.80" height="5.80" fill="#000000" stroke="none" stroke-width="1"/>
<line x1="111.50" y1="317.20" x2="210.90" y2="313.00" stroke="#bababa" stroke-width="1.2"/>
<line x1="210.90" y1="313.00" x2="301.70" y2="308.90" stroke="#bababa" stroke-width="1.2"/>
<line x1="128.20" y1="326.80" x2="210.90" y2="313.00" stroke="#bababa" stroke-width="1.2"/>
<line x1="153.20" y1="337.00" x2="251.80" y2="327.60" stroke="#bababa" stroke-width="1.2"/>
<line x1="103.60" y1="338.70" x2="219.10" y2="341.40" stroke="#bababa" stroke-width="1.2"/>
<line x1="219.10" y1="341.40" x2="293.40" y2="346.20" stroke="#bababa" stroke-width="1.2"/>
<line x1="103.60" y1="338.70" x2="285.20" y2="345.90" stroke="#bababa" stroke-width="1.2"/>
<line x1="227.00" y1="330.60" x2="285.20" y2="345.90" stroke="#bababa" stroke-width="1.2"/>
<line x1="243.80" y1="343.10" x2="334.60" y2="373.00" stroke="#bababa" stroke-width="1.2"/>
<line x1="194.10" y1="346.30" x2="309.70" y2="362.90" stroke="#bababa" stroke-width="1.2"/>
<line x1="268.60" y1="323.10" x2="161.00" y2="447.40" stroke="#bababa" stroke-width="1.2"/>
<line x1="243.80" y1="343.10" x2="136.10" y2="428.80" stroke="#bababa" stroke-width="1.2"/>
<line x1="185.50" y1="362.90" x2="119.70" y2="459.60" stroke="#bababa" stroke-width="1.2"/>
<line x1="169.30" y1="352.70" x2="177.40" y2="439.10" stroke="#bababa" stroke-width="1.2"/>
<line x1="318.30" y1="331.00" x2="326.40" y2="319.40" stroke="#bababa" stroke-width="1.2"/>
<rect x="86.60" y="498.40" width="55.60" height="64.90" fill="#fff" stroke="#444" stroke-width="0.9"/>
<rect x="96.20" y="508.40" width="8.10" height="6.40" fill="#0000ff" stroke="#333" stroke-width="0.5"/>
<text x="113.6" y="515.3000000000001" font-size="10.6" text-anchor="start" fill="#222">pri</text>
<rect x="96.20" y="521.30" width="8.10" height="6.40" fill="#ff0000" stroke="#333" stroke-width="0.5"/>
<text x="113.6" y="528.2" font-size="10.6" text-anchor="start" fill="#222">met</text>
<rect x="96.20" y="534.20" width="8.10" height="6.40" fill="#000000" stroke="#333" stroke-width="0.5"/>
<text x="113.6" y="541.1" font-size="10.6" text-anchor="start" fill="#222">hpv+</text>
<rect x="96.20" y="547.10" width="8.10" height="6.40" fill="#00ee00" stroke="#333" stroke-width="0.5"/>
<text x="113.6" y="554.0000000000001" font-size="10.6" text-anchor="start" fill="#222">rec</text>
<rect x="203.70" y="497.40" width="132.90" height="111.60" fill="#fff" stroke="#999" stroke-width="0.9"/>
<line x1="200.20" y1="605.20" x2="203.70" y2="605.20" stroke="#555" stroke-width="0.8"/>
<line x1="200.20" y1="587.80" x2="203.70" y2="587.80" stroke="#555" stroke-width="0.8"/>
<line x1="200.20" y1="570.40" x2="203.70" y2="570.40" stroke="#555" stroke-width="0.8"/>
<line x1="200.20" y1="553.00" x2="203.70" y2="553.00" stroke="#555" stroke-width="0.8"/>
<line x1="200.20" y1="535.60" x2="203.70" y2="535.60" stroke="#555" stroke-width="0.8"/>
<line x1="200.20" y1="518.20" x2="203.70" y2="518.20" stroke="#555" stroke-width="0.8"/>
<line x1="200.20" y1="500.80" x2="203.70" y2="500.80" stroke="#555" stroke-width="0.8"/>
<text x="196.7" y="605.2" font-size="10.0" text-anchor="middle" fill="#222" transform="rotate(-90 196.7 605.2)">0.0</text>
<text x="196.7" y="570.4000000000001" font-size="10.0" text-anchor="middle" fill="#222" transform="rotate(-90 196.7 570.4000000000001)">1.0</text>
<text x="196.7" y="535.6" font-size="10.0" text-anchor="middle" fill="#222" transform="rotate(-90 196.7 535.6)">2.0</text>
<text x="196.7" y="500.80000000000007" font-size="10.0" text-anchor="middle" fill="#222" transform="rotate(-90 196.7 500.80000000000007)">3.0</text>
<text x="186.4" y="560.1" font-size="10.9" text-anchor="middle" fill="#222" transform="rotate(-90 186.4 560.1)">Density</text>
<line x1="231.20" y1="609.00" x2="231.20" y2="612.40" stroke="#555" stroke-width="0.8"/>
<text x="231.2" y="621.0" font-size="9.7" text-anchor="middle" fill="#222">−1.0</text>
<line x1="259.70" y1="609.00" x2="259.70" y2="612.40" stroke="#555" stroke-width="0.8"/>
<text x="259.7" y="621.0" font-size="9.7" text-anchor="middle" fill="#222">−0.5</text>
<line x1="288.20" y1="609.00" x2="288.20" y2="612.40" stroke="#555" stroke-width="0.8"/>
<text x="288.2" y="621.0" font-size="9.7" text-anchor="middle" fill="#222">0.0</text>
<line x1="316.70" y1="609.00" x2="316.70" y2="612.40" stroke="#555" stroke-width="0.8"/>
<text x="316.7" y="621.0" font-size="9.7" text-anchor="middle" fill="#222">0.5</text>
<text x="270.1" y="632.6" font-size="9.9" text-anchor="middle" fill="#222">Essentiality scores</text>
<polyline points="208.40,605.01 208.97,604.98 209.54,604.95 210.11,604.91 210.68,604.87 211.25,604.83 211.82,604.78 212.39,604.72 212.96,604.66 213.53,604.59 214.10,604.52 214.67,604.43 215.24,604.34 215.81,604.24 216.38,604.13 216.95,604.00 217.52,603.87 218.09,603.72 218.66,603.56 219.23,603.38 219.80,603.19 220.37,602.99 220.94,602.76 221.51,602.52 222.08,602.26 222.65,601.99 223.22,601.69 223.79,601.37 224.36,601.03 224.93,600.67 225.50,600.28 226.07,599.87 226.64,599.44 227.21,598.99 227.78,598.51 228.35,598.01 228.92,597.48 229.49,596.93 230.06,596.36 230.63,595.76 231.20,595.14 231.77,594.50 232.34,593.84 232.91,593.16 233.48,592.47 234.05,591.76 234.62,591.03 235.19,590.29 235.76,589.55 236.33,588.79 236.90,588.03 237.47,587.26 238.04,586.50 238.61,585.73 239.18,584.97 239.75,584.22 240.32,583.48 240.89,582.76 241.46,582.05 242.03,581.36 242.60,580.69 243.17,580.05 243.74,579.44 244.31,578.86 244.88,578.31 245.45,577.80 246.02,577.32 246.59,576.89 247.16,576.50 247.73,576.15 248.30,575.85 248.87,575.59 249.44,575.38 250.01,575.21 250.58,575.10 251.15,575.02 251.72,575.00 252.29,575.02 252.86,575.08 253.43,575.18 254.00,575.32 254.57,575.51 255.14,575.72 255.71,575.97 256.28,576.25 256.85,576.56 257.42,576.89 257.99,577.24 258.56,577.60 259.13,577.98 259.70,578.36 260.27,578.75 260.84,579.15 261.41,579.53 261.98,579.92 262.55,580.29 263.12,580.64 263.69,580.98 264.26,581.30 264.83,581.60 265.40,581.87 265.97,582.11 266.54,582.31 267.11,582.49 267.68,582.63 268.25,582.73 268.82,582.80 269.39,582.83 269.96,582.82 270.53,582.77 271.10,582.69 271.67,582.56 272.24,582.41 272.81,582.21 273.38,581.99 273.95,581.74 274.52,581.45 275.09,581.15 275.66,580.82 276.23,580.47 276.80,580.10 277.37,579.73 277.94,579.34 278.51,578.95 279.08,578.56 279.65,578.17 280.22,577.79 280.79,577.42 281.36,577.06 281.93,576.72 282.50,576.40 283.07,576.11 283.64,575.84 284.21,575.61 284.78,575.41 285.35,575.25 285.92,575.12 286.49,575.04 287.06,575.00 287.63,575.00 288.20,575.05 288.77,575.15 289.34,575.29 289.91,575.48 290.48,575.71 291.05,575.99 291.62,576.32 292.19,576.69 292.76,577.10 293.33,577.56 293.90,578.05 294.47,578.58 295.04,579.14 295.61,579.74 296.18,580.37 296.75,581.02 297.32,581.70 297.89,582.40 298.46,583.12 299.03,583.85 299.60,584.60 300.17,585.35 300.74,586.11 301.31,586.88 301.88,587.64 302.45,588.41 303.02,589.17 303.59,589.92 304.16,590.66 304.73,591.40 305.30,592.12 305.87,592.82 306.44,593.51 307.01,594.18 307.58,594.82 308.15,595.45 308.72,596.06 309.29,596.65 309.86,597.21 310.43,597.75 311.00,598.26 311.57,598.75 312.14,599.22 312.71,599.66 313.28,600.08 313.85,600.48 314.42,600.85 314.99,601.20 315.56,601.53 316.13,601.84 316.70,602.13 317.27,602.40 317.84,602.65 318.41,602.88 318.98,603.09 319.55,603.29 320.12,603.47 320.69,603.64 321.26,603.80 321.83,603.94 322.40,604.07 322.97,604.18 323.54,604.29 324.11,604.39 324.68,604.48 325.25,604.56 325.82,604.63 326.39,604.69 326.96,604.75 327.53,604.80 328.10,604.85 328.67,604.89 329.24,604.93 329.81,604.96 330.38,604.99 330.95,605.02" fill="none" stroke="#ee2020" stroke-width="1.2"/>
<polyline points="246.02,604.55 246.59,604.43 247.16,604.29 247.73,604.14 248.30,603.96 248.87,603.75 249.44,603.52 250.01,603.26 250.58,602.97 251.15,602.65 251.72,602.29 252.29,601.90 252.86,601.46 253.43,600.99 254.00,600.48 254.57,599.93 255.14,599.34 255.71,598.71 256.28,598.04 256.85,597.33 257.42,596.59 257.99,595.81 258.56,595.01 259.13,594.18 259.70,593.34 260.27,592.47 260.84,591.60 261.41,590.72 261.98,589.84 262.55,588.96 263.12,588.10 263.69,587.25 264.26,586.41 264.83,585.60 265.40,584.81 265.97,584.04 266.54,583.29 267.11,582.56 267.68,581.84 268.25,581.13 268.82,580.43 269.39,579.71 269.96,578.98 270.53,578.21 271.10,577.40 271.67,576.53 272.24,575.58 272.81,574.54 273.38,573.39 273.95,572.13 274.52,570.73 275.09,569.19 275.66,567.50 276.23,565.65 276.80,563.65 277.37,561.49 277.94,559.19 278.51,556.75 279.08,554.19 279.65,551.53 280.22,548.81 280.79,546.04 281.36,543.27 281.93,540.53 282.50,537.86 283.07,535.31 283.64,532.91 284.21,530.71 284.78,528.75 285.35,527.06 285.92,525.68 286.49,524.64 287.06,523.97 287.63,523.68 288.20,523.79 288.77,524.29 289.34,525.20 289.91,526.50 290.48,528.17 291.05,530.20 291.62,532.55 292.19,535.21 292.76,538.12 293.33,541.25 293.90,544.56 294.47,548.00 295.04,551.54 295.61,555.13 296.18,558.73 296.75,562.31 297.32,565.82 297.89,569.25 298.46,572.55 299.03,575.71 299.60,578.71 300.17,581.53 300.74,584.17 301.31,586.62 301.88,588.87 302.45,590.93 303.02,592.79 303.59,594.47 304.16,595.98 304.73,597.31 305.30,598.49 305.87,599.53 306.44,600.43 307.01,601.21 307.58,601.88 308.15,602.45 308.72,602.94 309.29,603.35 309.86,603.69 310.43,603.98 311.00,604.22 311.57,604.41" fill="none" stroke="#2020ee" stroke-width="1.2"/>
<text x="392.0" y="260.1" font-size="24" text-anchor="start" fill="#000" stroke="#000" stroke-width="0.45">e.</text>
<line x1="464.00" y1="264.60" x2="464.00" y2="351.10" stroke="#111" stroke-width="1.2"/>
<line x1="464.00" y1="360.90" x2="464.00" y2="370.50" stroke="#111" stroke-width="1.2"/>
<line x1="458.50" y1="264.60" x2="464.00" y2="264.60" stroke="#111" stroke-width="1.2"/>
<text x="456.5" y="267.40000000000003" font-size="7.9" text-anchor="end" fill="#111" font-weight="bold" stroke="#111" stroke-width="0.3">150</text>
<line x1="458.50" y1="308.10" x2="464.00" y2="308.10" stroke="#111" stroke-width="1.2"/>
<text x="456.5" y="310.90000000000003" font-size="7.9" text-anchor="end" fill="#111" font-weight="bold" stroke="#111" stroke-width="0.3">100</text>
<line x1="461.00" y1="351.10" x2="467.00" y2="351.10" stroke="#111" stroke-width="1.2"/>
<text x="455.7" y="353.90000000000003" font-size="7.9" text-anchor="end" fill="#111" font-weight="bold" stroke="#111" stroke-width="0.3">50</text>
<line x1="461.00" y1="360.80" x2="467.00" y2="360.80" stroke="#111" stroke-width="1.2"/>
<line x1="460.20" y1="363.50" x2="464.00" y2="363.50" stroke="#111" stroke-width="1.1"/>
<text x="457.5" y="366.3" font-size="7.9" text-anchor="end" fill="#111" font-weight="bold" stroke="#111" stroke-width="0.3">10</text>
<text x="457.5" y="373.3" font-size="7.9" text-anchor="end" fill="#111" font-weight="bold" stroke="#111" stroke-width="0.3">0</text>
<line x1="460.00" y1="370.50" x2="622.50" y2="370.50" stroke="#111" stroke-width="1.3"/>
<line x1="478.20" y1="370.50" x2="478.20" y2="374.30" stroke="#111" stroke-width="1.2"/>
<line x1="510.70" y1="370.50" x2="510.70" y2="374.30" stroke="#111" stroke-width="1.2"/>
<line x1="543.30" y1="370.50" x2="543.30" y2="374.30" stroke="#111" stroke-width="1.2"/>
<line x1="575.90" y1="370.50" x2="575.90" y2="374.30" stroke="#111" stroke-width="1.2"/>
<line x1="608.50" y1="370.50" x2="608.50" y2="374.30" stroke="#111" stroke-width="1.2"/>
<text x="480.20" y="380.80" font-size="7.9" font-weight="bold" text-anchor="end" fill="#111" stroke="#111" stroke-width="0.3" transform="rotate(-45 480.20 380.80)">Jag1</text>
<text x="512.70" y="380.80" font-size="7.9" font-weight="bold" text-anchor="end" fill="#111" stroke="#111" stroke-width="0.3" transform="rotate(-45 512.70 380.80)">Jag2</text>
<text x="545.30" y="380.80" font-size="7.9" font-weight="bold" text-anchor="end" fill="#111" stroke="#111" stroke-width="0.3" transform="rotate(-45 545.30 380.80)">Notch1</text>
<text x="577.90" y="380.80" font-size="7.9" font-weight="bold" text-anchor="end" fill="#111" stroke="#111" stroke-width="0.3" transform="rotate(-45 577.90 380.80)">Notch3</text>
<text x="610.50" y="380.80" font-size="7.9" font-weight="bold" text-anchor="end" fill="#111" stroke="#111" stroke-width="0.3" transform="rotate(-45 610.50 380.80)">EG5</text>
<text x="439.4" y="316.2" font-size="8.6" text-anchor="middle" fill="#111" font-weight="bold" transform="rotate(-90 439.4 316.2)" stroke="#111" stroke-width="0.3">relative growth</text>
<rect x="471.10" y="266.30" width="11.90" height="6.10" fill="#fff" stroke="#111" stroke-width="1.1"/>
<rect x="471.10" y="276.80" width="11.90" height="6.60" fill="#ababab" stroke="#111" stroke-width="1.6"/>
<text x="489.2" y="272.6" font-size="8.5" text-anchor="start" fill="#111" stroke="#111" stroke-width="0.15">54A</text>
<text x="489.2" y="283.3" font-size="8.5" text-anchor="start" fill="#111" stroke="#111" stroke-width="0.15">54C</text>
<rect x="468.40" y="304.00" width="7.20" height="20.50" fill="#fff" stroke="#111" stroke-width="1.1"/>
<line x1="468.40" y1="317.30" x2="475.60" y2="317.30" stroke="#111" stroke-width="1.1"/>
<rect x="480.70" y="321.40" width="7.20" height="7.80" fill="#ababab" stroke="#111" stroke-width="1.6"/>
<line x1="480.70" y1="325.10" x2="487.90" y2="325.10" stroke="#111" stroke-width="1.6"/>
<rect x="501.10" y="307.70" width="7.20" height="15.80" fill="#fff" stroke="#111" stroke-width="1.1"/>
<line x1="501.10" y1="316.30" x2="508.30" y2="316.30" stroke="#111" stroke-width="1.1"/>
<rect x="513.40" y="316.90" width="7.20" height="12.30" fill="#ababab" stroke="#111" stroke-width="1.6"/>
<line x1="513.40" y1="323.90" x2="520.60" y2="323.90" stroke="#111" stroke-width="1.6"/>
<rect x="533.90" y="300.90" width="7.10" height="13.00" fill="#fff" stroke="#111" stroke-width="1.1"/>
<line x1="533.90" y1="306.50" x2="541.00" y2="306.50" stroke="#111" stroke-width="1.1"/>
<rect x="545.50" y="318.10" width="7.90" height="1.60" fill="#111" stroke="none" stroke-width="1"/>
<rect x="566.10" y="294.40" width="7.70" height="5.70" fill="#e6e6e6" stroke="#111" stroke-width="1.1"/>
<line x1="566.10" y1="297.00" x2="573.80" y2="297.00" stroke="#111" stroke-width="1.1"/>
<rect x="578.20" y="343.70" width="7.80" height="1.60" fill="#111" stroke="none" stroke-width="1"/>
<rect x="598.30" y="363.20" width="7.90" height="4.40" fill="#e6e6e6" stroke="#111" stroke-width="1.1"/>
<line x1="598.30" y1="365.40" x2="606.20" y2="365.40" stroke="#111" stroke-width="1.1"/>
<rect x="610.20" y="365.90" width="8.30" height="1.60" fill="#111" stroke="none" stroke-width="1"/>
<line x1="472.70" y1="422.70" x2="472.70" y2="529.50" stroke="#111" stroke-width="1.2"/>
<line x1="467.20" y1="422.70" x2="472.70" y2="422.70" stroke="#111" stroke-width="1.2"/>
<text x="465.3" y="425.5" font-size="7.9" text-anchor="end" fill="#111" font-weight="bold" stroke="#111" stroke-width="0.3">150</text>
<line x1="467.20" y1="458.30" x2="472.70" y2="458.30" stroke="#111" stroke-width="1.2"/>
<text x="465.3" y="461.1" font-size="7.9" text-anchor="end" fill="#111" font-weight="bold" stroke="#111" stroke-width="0.3">100</text>
<line x1="467.20" y1="493.90" x2="472.70" y2="493.90" stroke="#111" stroke-width="1.2"/>
<text x="465.3" y="496.7" font-size="7.9" text-anchor="end" fill="#111" font-weight="bold" stroke="#111" stroke-width="0.3">50</text>
<line x1="467.20" y1="529.50" x2="472.70" y2="529.50" stroke="#111" stroke-width="1.2"/>
<text x="465.3" y="532.3" font-size="7.9" text-anchor="end" fill="#111" font-weight="bold" stroke="#111" stroke-width="0.3">0</text>
<line x1="472.70" y1="529.50" x2="633.50" y2="529.50" stroke="#111" stroke-width="1.2"/>
<line x1="486.40" y1="529.50" x2="486.40" y2="533.30" stroke="#111" stroke-width="1.2"/>
<line x1="519.50" y1="529.50" x2="519.50" y2="533.30" stroke="#111" stroke-width="1.2"/>
<line x1="552.60" y1="529.50" x2="552.60" y2="533.30" stroke="#111" stroke-width="1.2"/>
<line x1="585.90" y1="529.50" x2="585.90" y2="533.30" stroke="#111" stroke-width="1.2"/>
<line x1="618.80" y1="529.50" x2="618.80" y2="533.30" stroke="#111" stroke-width="1.2"/>
<text x="488.40" y="539.80" font-size="7.9" font-weight="bold" text-anchor="end" fill="#111" stroke="#111" stroke-width="0.3" transform="rotate(-45 488.40 539.80)">Jag1</text>
<text x="521.50" y="539.80" font-size="7.9" font-weight="bold" text-anchor="end" fill="#111" stroke="#111" stroke-width="0.3" transform="rotate(-45 521.50 539.80)">Jag2</text>
<text x="554.60" y="539.80" font-size="7.9" font-weight="bold" text-anchor="end" fill="#111" stroke="#111" stroke-width="0.3" transform="rotate(-45 554.60 539.80)">Notch1</text>
<text x="587.90" y="539.80" font-size="7.9" font-weight="bold" text-anchor="end" fill="#111" stroke="#111" stroke-width="0.3" transform="rotate(-45 587.90 539.80)">Notch3</text>
<text x="620.80" y="539.80" font-size="7.9" font-weight="bold" text-anchor="end" fill="#111" stroke="#111" stroke-width="0.3" transform="rotate(-45 620.80 539.80)">EG5</text>
<text x="447.7" y="475.7" font-size="8.7" text-anchor="middle" fill="#111" font-weight="bold" transform="rotate(-90 447.7 475.7)" stroke="#111" stroke-width="0.3">relative growth</text>
<rect x="479.30" y="425.30" width="12.20" height="6.20" fill="#fff" stroke="#111" stroke-width="1.1"/>
<rect x="479.30" y="434.90" width="12.20" height="6.80" fill="#ababab" stroke="#111" stroke-width="1.6"/>
<text x="497.3" y="431.7" font-size="8.6" text-anchor="start" fill="#111" stroke="#111" stroke-width="0.15">60A</text>
<text x="497.3" y="441.6" font-size="8.6" text-anchor="start" fill="#111" stroke="#111" stroke-width="0.15">60B</text>
<rect x="476.80" y="475.10" width="8.20" height="2.60" fill="#111" stroke="none" stroke-width="1"/>
<rect x="488.90" y="457.20" width="8.10" height="2.80" fill="#111" stroke="none" stroke-width="1"/>
<rect x="509.50" y="499.60" width="8.20" height="9.10" fill="#fff" stroke="#111" stroke-width="1.1"/>
<line x1="509.50" y1="505.60" x2="517.70" y2="505.60" stroke="#111" stroke-width="1.1"/>
<rect x="522.20" y="524.30" width="7.80" height="2.40" fill="#111" stroke="none" stroke-width="1"/>
<rect x="542.50" y="459.40" width="8.10" height="11.50" fill="#fff" stroke="#111" stroke-width="1.1"/>
<line x1="542.50" y1="465.60" x2="550.60" y2="465.60" stroke="#111" stroke-width="1.1"/>
<rect x="555.00" y="465.10" width="8.00" height="2.40" fill="#111" stroke="none" stroke-width="1"/>
<rect x="575.70" y="493.70" width="7.90" height="9.50" fill="#fff" stroke="#111" stroke-width="1.1"/>
<line x1="575.70" y1="497.30" x2="583.60" y2="497.30" stroke="#111" stroke-width="1.1"/>
<rect x="588.30" y="514.30" width="7.50" height="6.80" fill="#555" stroke="#111" stroke-width="1.5"/>
<line x1="588.30" y1="517.80" x2="595.80" y2="517.80" stroke="#111" stroke-width="1.5"/>
<rect x="609.30" y="518.30" width="7.60" height="8.40" fill="#fff" stroke="#111" stroke-width="1.1"/>
<line x1="609.30" y1="522.50" x2="616.90" y2="522.50" stroke="#111" stroke-width="1.1"/>
<rect x="621.30" y="518.30" width="7.40" height="5.80" fill="#555" stroke="#111" stroke-width="1.5"/>
<line x1="621.30" y1="521.20" x2="628.70" y2="521.20" stroke="#111" stroke-width="1.5"/>
<line x1="472.70" y1="580.20" x2="472.70" y2="687.40" stroke="#111" stroke-width="1.2"/>
<line x1="467.20" y1="580.20" x2="472.70" y2="580.20" stroke="#111" stroke-width="1.2"/>
<text x="465.3" y="583.0" font-size="7.9" text-anchor="end" fill="#111" font-weight="bold" stroke="#111" stroke-width="0.3">150</text>
<line x1="467.20" y1="615.93" x2="472.70" y2="615.93" stroke="#111" stroke-width="1.2"/>
<text x="465.3" y="618.7333333333333" font-size="7.9" text-anchor="end" fill="#111" font-weight="bold" stroke="#111" stroke-width="0.3">100</text>
<line x1="467.20" y1="651.67" x2="472.70" y2="651.67" stroke="#111" stroke-width="1.2"/>
<text x="465.3" y="654.4666666666666" font-size="7.9" text-anchor="end" fill="#111" font-weight="bold" stroke="#111" stroke-width="0.3">50</text>
<line x1="467.20" y1="687.40" x2="472.70" y2="687.40" stroke="#111" stroke-width="1.2"/>
<text x="465.3" y="690.1999999999999" font-size="7.9" text-anchor="end" fill="#111" font-weight="bold" stroke="#111" stroke-width="0.3">0</text>
<line x1="472.70" y1="687.40" x2="633.50" y2="687.40" stroke="#111" stroke-width="1.2"/>
<line x1="486.40" y1="687.40" x2="486.40" y2="691.20" stroke="#111" stroke-width="1.2"/>
<line x1="519.50" y1="687.40" x2="519.50" y2="691.20" stroke="#111" stroke-width="1.2"/>
<line x1="552.60" y1="687.40" x2="552.60" y2="691.20" stroke="#111" stroke-width="1.2"/>
<line x1="585.90" y1="687.40" x2="585.90" y2="691.20" stroke="#111" stroke-width="1.2"/>
<line x1="618.80" y1="687.40" x2="618.80" y2="691.20" stroke="#111" stroke-width="1.2"/>
<text x="488.40" y="697.70" font-size="7.9" font-weight="bold" text-anchor="end" fill="#111" stroke="#111" stroke-width="0.3" transform="rotate(-45 488.40 697.70)">Jag1</text>
<text x="521.50" y="697.70" font-size="7.9" font-weight="bold" text-anchor="end" fill="#111" stroke="#111" stroke-width="0.3" transform="rotate(-45 521.50 697.70)">Jag2</text>
<text x="554.60" y="697.70" font-size="7.9" font-weight="bold" text-anchor="end" fill="#111" stroke="#111" stroke-width="0.3" transform="rotate(-45 554.60 697.70)">Notch1</text>
<text x="587.90" y="697.70" font-size="7.9" font-weight="bold" text-anchor="end" fill="#111" stroke="#111" stroke-width="0.3" transform="rotate(-45 587.90 697.70)">Notch3</text>
<text x="620.80" y="697.70" font-size="7.9" font-weight="bold" text-anchor="end" fill="#111" stroke="#111" stroke-width="0.3" transform="rotate(-45 620.80 697.70)">EG5</text>
<text x="447.7" y="633.5" font-size="8.7" text-anchor="middle" fill="#111" font-weight="bold" transform="rotate(-90 447.7 633.5)" stroke="#111" stroke-width="0.3">relative growth</text>
<rect x="479.30" y="585.30" width="12.20" height="6.20" fill="#fff" stroke="#111" stroke-width="1.1"/>
<rect x="479.30" y="594.90" width="12.20" height="6.80" fill="#ababab" stroke="#111" stroke-width="1.6"/>
<text x="497.3" y="591.6999999999999" font-size="8.6" text-anchor="start" fill="#111" stroke="#111" stroke-width="0.15">74A</text>
<text x="497.3" y="601.5999999999999" font-size="8.6" text-anchor="start" fill="#111" stroke="#111" stroke-width="0.15">74B</text>
<rect x="476.80" y="659.75" width="8.20" height="2.90" fill="#111" stroke="none" stroke-width="1"/>
<rect x="489.50" y="645.60" width="7.10" height="8.60" fill="#ababab" stroke="#111" stroke-width="1.6"/>
<line x1="489.50" y1="650.40" x2="496.60" y2="650.40" stroke="#111" stroke-width="1.6"/>
<rect x="509.90" y="629.90" width="7.80" height="5.50" fill="#e6e6e6" stroke="#111" stroke-width="1.1"/>
<line x1="509.90" y1="632.60" x2="517.70" y2="632.60" stroke="#111" stroke-width="1.1"/>
<rect x="522.20" y="663.20" width="7.80" height="1.60" fill="#111" stroke="none" stroke-width="1"/>
<rect x="542.40" y="642.30" width="8.40" height="3.20" fill="#e6e6e6" stroke="#111" stroke-width="1.5"/>
<rect x="555.00" y="654.20" width="8.00" height="1.60" fill="#111" stroke="none" stroke-width="1"/>
<rect x="575.70" y="616.10" width="8.20" height="3.50" fill="#e6e6e6" stroke="#111" stroke-width="1.5"/>
<rect x="588.30" y="663.80" width="7.50" height="4.60" fill="#111" stroke="none" stroke-width="1"/>
<rect x="608.60" y="681.90" width="8.30" height="1.60" fill="#111" stroke="none" stroke-width="1"/>
<rect x="621.10" y="684.10" width="8.00" height="1.60" fill="#111" stroke="none" stroke-width="1"/>
<text x="2.0" y="735.0" font-size="24" text-anchor="start" fill="#000" stroke="#000" stroke-width="0.45">f.</text>
<line x1="49.90" y1="743.30" x2="49.90" y2="866.90" stroke="#111" stroke-width="1.3"/>
<line x1="44.70" y1="743.30" x2="49.90" y2="743.30" stroke="#111" stroke-width="1.2"/>
<text x="43.5" y="746.0999999999999" font-size="7.9" text-anchor="end" fill="#111" font-weight="bold" stroke="#111" stroke-width="0.3">130</text>
<line x1="44.70" y1="763.90" x2="49.90" y2="763.90" stroke="#111" stroke-width="1.2"/>
<text x="43.5" y="766.6999999999999" font-size="7.9" text-anchor="end" fill="#111" font-weight="bold" stroke="#111" stroke-width="0.3">120</text>
<line x1="44.70" y1="784.50" x2="49.90" y2="784.50" stroke="#111" stroke-width="1.2"/>
<text x="43.5" y="787.3" font-size="7.9" text-anchor="end" fill="#111" font-weight="bold" stroke="#111" stroke-width="0.3">110</text>
<line x1="44.70" y1="805.10" x2="49.90" y2="805.10" stroke="#111" stroke-width="1.2"/>
<text x="43.5" y="807.8999999999999" font-size="7.9" text-anchor="end" fill="#111" font-weight="bold" stroke="#111" stroke-width="0.3">100</text>
<line x1="44.70" y1="825.70" x2="49.90" y2="825.70" stroke="#111" stroke-width="1.2"/>
<text x="43.5" y="828.4999999999999" font-size="7.9" text-anchor="end" fill="#111" font-weight="bold" stroke="#111" stroke-width="0.3">90</text>
<line x1="44.70" y1="846.30" x2="49.90" y2="846.30" stroke="#111" stroke-width="1.2"/>
<text x="43.5" y="849.0999999999999" font-size="7.9" text-anchor="end" fill="#111" font-weight="bold" stroke="#111" stroke-width="0.3">80</text>
<line x1="44.70" y1="866.90" x2="49.90" y2="866.90" stroke="#111" stroke-width="1.2"/>
<text x="43.5" y="869.6999999999999" font-size="7.9" text-anchor="end" fill="#111" font-weight="bold" stroke="#111" stroke-width="0.3">70</text>
<line x1="49.90" y1="866.90" x2="232.60" y2="866.90" stroke="#111" stroke-width="1.3"/>
<line x1="77.20" y1="866.90" x2="77.20" y2="870.60" stroke="#111" stroke-width="1.2"/>
<text x="77.2" y="881.0" font-size="7.6" text-anchor="middle" fill="#111" font-weight="bold" stroke="#111" stroke-width="0.3">54</text>
<line x1="141.40" y1="866.90" x2="141.40" y2="870.60" stroke="#111" stroke-width="1.2"/>
<text x="141.4" y="881.0" font-size="7.6" text-anchor="middle" fill="#111" font-weight="bold" stroke="#111" stroke-width="0.3">60</text>
<line x1="204.70" y1="866.90" x2="204.70" y2="870.60" stroke="#111" stroke-width="1.2"/>
<text x="204.7" y="881.0" font-size="7.6" text-anchor="middle" fill="#111" font-weight="bold" stroke="#111" stroke-width="0.3">74</text>
<text x="25.5" y="805.5" font-size="8.4" text-anchor="middle" fill="#111" font-weight="bold" transform="rotate(-90 25.5 805.5)" stroke="#111" stroke-width="0.3">relative growth</text>
<rect x="57.80" y="744.20" width="11.90" height="6.10" fill="#d9d9d9" stroke="#111" stroke-width="1.5"/>
<rect x="57.80" y="758.70" width="11.90" height="6.50" fill="#fff" stroke="#111" stroke-width="1.5"/>
<text x="75.6" y="750.2" font-size="8.3" text-anchor="start" fill="#111" stroke="#111" stroke-width="0.15">-Dox</text>
<text x="75.6" y="764.9" font-size="8.3" text-anchor="start" fill="#111" stroke="#111" stroke-width="0.15">+Dox</text>
<rect x="58.50" y="800.20" width="14.50" height="13.10" fill="#d9d9d9" stroke="#111" stroke-width="1.5"/>
<line x1="58.50" y1="806.60" x2="73.00" y2="806.60" stroke="#111" stroke-width="1.5"/>
<rect x="82.00" y="792.80" width="14.50" height="33.40" fill="#fff" stroke="#111" stroke-width="1.5"/>
<line x1="82.00" y1="811.40" x2="96.50" y2="811.40" stroke="#111" stroke-width="1.5"/>
<rect x="122.10" y="805.00" width="14.20" height="3.80" fill="#555" stroke="#111" stroke-width="1.5"/>
<rect x="145.90" y="792.80" width="14.50" height="34.00" fill="#fff" stroke="#111" stroke-width="1.5"/>
<line x1="145.90" y1="809.10" x2="160.40" y2="809.10" stroke="#111" stroke-width="1.5"/>
<rect x="186.00" y="802.40" width="14.50" height="28.60" fill="#d9d9d9" stroke="#111" stroke-width="1.5"/>
<line x1="186.00" y1="818.80" x2="200.50" y2="818.80" stroke="#111" stroke-width="1.5"/>
<rect x="209.50" y="769.00" width="14.50" height="76.10" fill="#fff" stroke="#111" stroke-width="1.5"/>
<line x1="209.50" y1="802.40" x2="224.00" y2="802.40" stroke="#111" stroke-width="1.5"/>
<line x1="300.30" y1="743.40" x2="300.30" y2="867.00" stroke="#111" stroke-width="1.3"/>
<line x1="295.10" y1="743.40" x2="300.30" y2="743.40" stroke="#111" stroke-width="1.2"/>
<text x="293.90000000000003" y="746.1999999999999" font-size="7.9" text-anchor="end" fill="#111" font-weight="bold" stroke="#111" stroke-width="0.3">150</text>
<line x1="295.10" y1="784.60" x2="300.30" y2="784.60" stroke="#111" stroke-width="1.2"/>
<text x="293.90000000000003" y="787.4" font-size="7.9" text-anchor="end" fill="#111" font-weight="bold" stroke="#111" stroke-width="0.3">100</text>
<line x1="295.10" y1="825.80" x2="300.30" y2="825.80" stroke="#111" stroke-width="1.2"/>
<text x="293.90000000000003" y="828.5999999999999" font-size="7.9" text-anchor="end" fill="#111" font-weight="bold" stroke="#111" stroke-width="0.3">50</text>
<line x1="295.10" y1="867.00" x2="300.30" y2="867.00" stroke="#111" stroke-width="1.2"/>
<text x="293.90000000000003" y="869.8" font-size="7.9" text-anchor="end" fill="#111" font-weight="bold" stroke="#111" stroke-width="0.3">0</text>
<line x1="300.30" y1="867.00" x2="483.30" y2="867.00" stroke="#111" stroke-width="1.3"/>
<line x1="327.70" y1="867.00" x2="327.70" y2="870.60" stroke="#111" stroke-width="1.2"/>
<text x="327.7" y="881.0" font-size="7.6" text-anchor="middle" fill="#111" font-weight="bold" stroke="#111" stroke-width="0.3">54</text>
<line x1="391.50" y1="867.00" x2="391.50" y2="870.60" stroke="#111" stroke-width="1.2"/>
<text x="391.5" y="881.0" font-size="7.6" text-anchor="middle" fill="#111" font-weight="bold" stroke="#111" stroke-width="0.3">60</text>
<line x1="455.40" y1="867.00" x2="455.40" y2="870.60" stroke="#111" stroke-width="1.2"/>
<text x="455.4" y="881.0" font-size="7.6" text-anchor="middle" fill="#111" font-weight="bold" stroke="#111" stroke-width="0.3">74</text>
<text x="273.8" y="805.6" font-size="8.3" text-anchor="middle" fill="#111" font-weight="bold" transform="rotate(-90 273.8 805.6)" stroke="#111" stroke-width="0.3">relative growth</text>
<rect x="308.90" y="744.00" width="11.30" height="5.90" fill="#d9d9d9" stroke="#111" stroke-width="1.4"/>
<rect x="308.90" y="753.70" width="11.30" height="6.00" fill="#fff" stroke="#111" stroke-width="1.4"/>
<text x="326.2" y="749.8" font-size="8.1" text-anchor="start" fill="#111" stroke="#111" stroke-width="0.15">-Dox</text>
<text x="326.2" y="759.5" font-size="8.1" text-anchor="start" fill="#111" stroke="#111" stroke-width="0.15">+Dox</text>
<rect x="308.70" y="768.00" width="15.10" height="24.10" fill="#d9d9d9" stroke="#111" stroke-width="1.5"/>
<line x1="308.70" y1="779.40" x2="323.80" y2="779.40" stroke="#111" stroke-width="1.5"/>
<rect x="332.20" y="816.30" width="15.10" height="3.70" fill="#555" stroke="#111" stroke-width="1.5"/>
<rect x="372.50" y="773.70" width="14.50" height="34.50" fill="#d9d9d9" stroke="#111" stroke-width="1.5"/>
<line x1="372.50" y1="787.10" x2="387.00" y2="787.10" stroke="#111" stroke-width="1.5"/>
<rect x="396.00" y="833.10" width="15.10" height="20.10" fill="#fff" stroke="#111" stroke-width="1.5"/>
<line x1="396.00" y1="840.10" x2="411.10" y2="840.10" stroke="#111" stroke-width="1.5"/>
<rect x="436.30" y="782.00" width="15.10" height="5.80" fill="#999" stroke="#111" stroke-width="1.5"/>
<line x1="436.30" y1="784.90" x2="451.40" y2="784.90" stroke="#111" stroke-width="1.5"/>
<line x1="460.00" y1="813.20" x2="475.80" y2="813.20" stroke="#111" stroke-width="1.7"/>
<text x="339.6" y="816.2" font-size="8.5" text-anchor="middle" fill="#111" font-weight="bold">*</text>
<text x="403.4" y="833.0" font-size="8.5" text-anchor="middle" fill="#111" font-weight="bold">*</text>
<text x="467.1" y="811.4" font-size="8.5" text-anchor="middle" fill="#111" font-weight="bold">***</text>
</svg></body></html>
